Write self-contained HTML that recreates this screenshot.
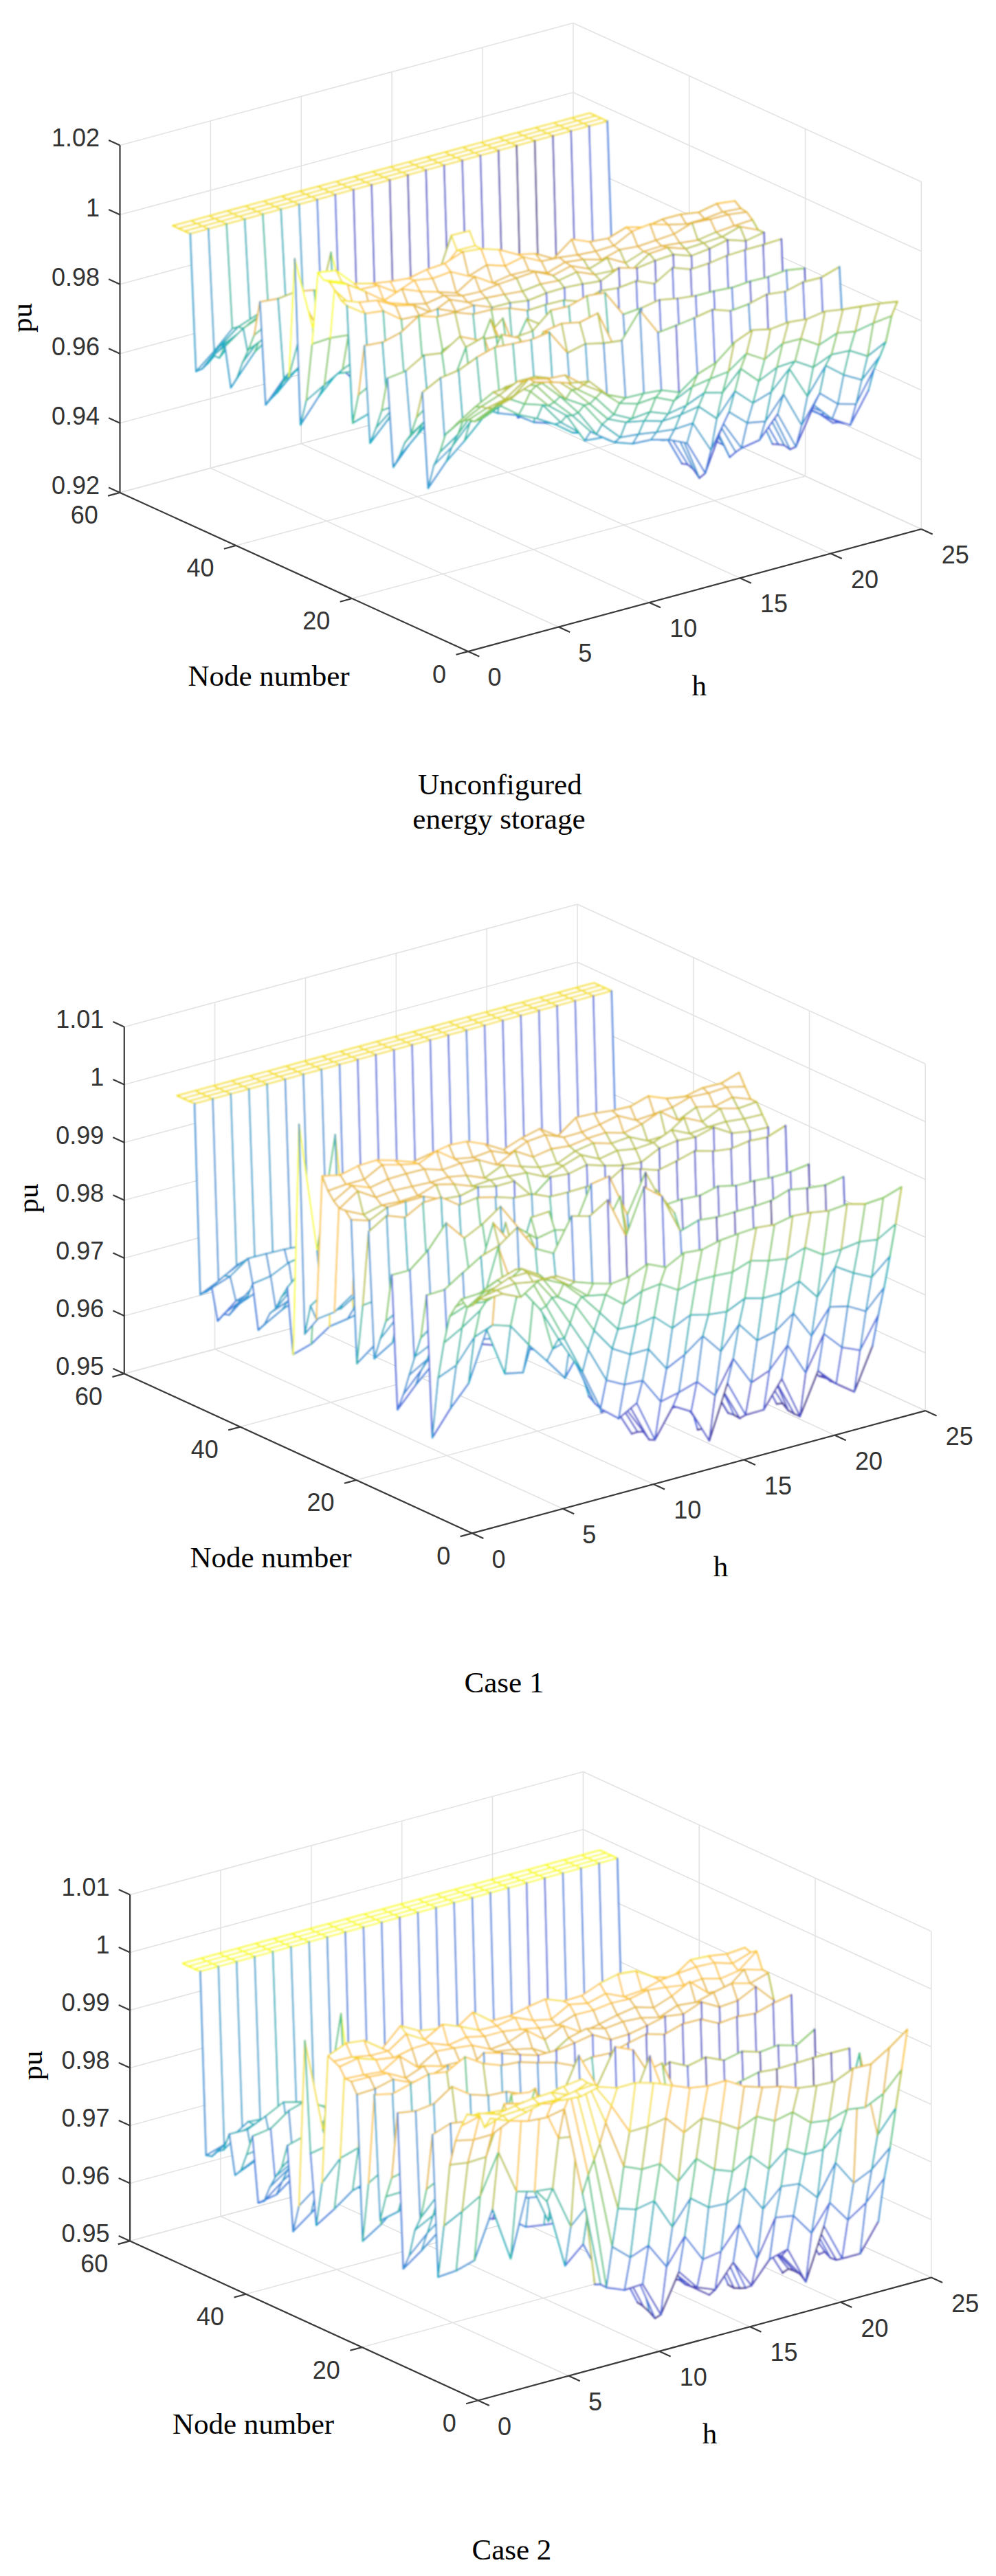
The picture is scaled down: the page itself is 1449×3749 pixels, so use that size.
<!DOCTYPE html>
<html><head><meta charset="utf-8"><style>
html,body{margin:0;padding:0;background:#fff;width:1449px;height:3749px;overflow:hidden}
svg{display:block}
.g{stroke:#e3e3e3;stroke-width:1.6;fill:none}
.a{stroke:#3a3a3a;stroke-width:2.2;fill:none}
path[class^=m]{fill:#fff;stroke-width:2.3;stroke-linejoin:round;stroke-linecap:round}
.t{font-family:"Liberation Sans",sans-serif;font-size:36px;fill:#333}
.s{font-family:"Liberation Serif",serif;font-size:43px;fill:#000}
.c{font-family:"Liberation Serif",serif;font-size:43px;fill:#000}
.m0{stroke:#3d2d88}
.m1{stroke:#483eb1}
.m2{stroke:#4e53cc}
.m3{stroke:#4d68db}
.m4{stroke:#3f7edd}
.m5{stroke:#3992d5}
.m6{stroke:#2fa3cf}
.m7{stroke:#16b0bc}
.m8{stroke:#37bca7}
.m9{stroke:#52c589}
.m10{stroke:#85c861}
.m11{stroke:#bac23a}
.m12{stroke:#e7ba39}
.m13{stroke:#fcc73b}
.m14{stroke:#f5e12b}
.m15{stroke:#f9fb15}
</style></head><body>
<svg width="1449" height="3749" viewBox="0 0 1449 3749">
<defs><filter id="bl" x="-2%" y="-2%" width="104%" height="104%"><feGaussianBlur stdDeviation="0.8"/></filter></defs>
<g>
<path class="g" d="M812.8 912.5L306.4 681.3"/>
<path class="g" d="M944.7 876.9L438.3 645.7"/>
<path class="g" d="M1076.5 841.2L570.1 610"/>
<path class="g" d="M1208.4 805.6L702 574.4"/>
<path class="g" d="M512.1 871L1171.5 692.9"/>
<path class="g" d="M343.3 794L1002.7 615.9"/>
<path class="g" d="M174.5 716.9L833.9 538.8"/>
<path class="g" d="M1340.3 770L833.9 538.8"/>
<path class="g" d="M306.4 681.3L306.4 175.9"/>
<path class="g" d="M438.3 645.7L438.3 140.3"/>
<path class="g" d="M570.1 610L570.1 104.6"/>
<path class="g" d="M702 574.4L702 69"/>
<path class="g" d="M833.9 538.8L833.9 33.4"/>
<path class="g" d="M174.5 716.9L833.9 538.8"/>
<path class="g" d="M174.5 615.8L833.9 437.7"/>
<path class="g" d="M174.5 514.7L833.9 336.6"/>
<path class="g" d="M174.5 413.7L833.9 235.6"/>
<path class="g" d="M174.5 312.6L833.9 134.5"/>
<path class="g" d="M174.5 211.5L833.9 33.4"/>
<path class="g" d="M1340.3 770L1340.3 264.6"/>
<path class="g" d="M1171.5 692.9L1171.5 187.5"/>
<path class="g" d="M1002.7 615.9L1002.7 110.5"/>
<path class="g" d="M1340.3 770L833.9 538.8"/>
<path class="g" d="M1340.3 668.9L833.9 437.7"/>
<path class="g" d="M1340.3 567.8L833.9 336.6"/>
<path class="g" d="M1340.3 466.8L833.9 235.6"/>
<path class="g" d="M1340.3 365.7L833.9 134.5"/>
<path class="g" d="M1340.3 264.6L833.9 33.4"/>
<g filter="url(#bl)">
<path class="m14" stroke-dasharray="37 42" d="M831.8 171.8l26.4-7.1 8.4 3.9-26.4 7.1z"/>
<path class="m14" stroke-dasharray="37 42" d="M840.2 175.7l26.4-7.1 8.4 3.9-26.4 7.1z"/>
<path class="m14" stroke-dasharray="37 42" d="M805.4 179l26.4-7.1 8.4 3.9-26.4 7.1z"/>
<path class="m14" stroke-dasharray="37 42" d="M848.7 179.6l26.4-7.1 8.4 3.9-26.4 7.1z"/>
<path class="m14" stroke-dasharray="37 42" d="M813.9 182.8l26.4-7.1 8.4 3.9-26.4 7.1z"/>
<path class="m14" stroke-dasharray="28 558" d="M857.1 183.4l26.4-7.1 8.4 247.1-26.4 27.1z"/>
<path class="m4" d="M883.5 176.3l8.4 247.1"/>
<path class="m14" stroke-dasharray="37 42" d="M779 186.1l26.4-7.1 8.4 3.9-26.4 7.1z"/>
<path class="m14" stroke-dasharray="37 42" d="M822.3 186.7l26.4-7.1 8.4 3.9-26.4 7.1z"/>
<path class="m14" stroke-dasharray="37 42" d="M787.5 189.9l26.4-7.1 8.4 3.9-26.4 7.1z"/>
<path class="m14" stroke-dasharray="28 598" d="M830.7 190.5l26.4-7.1 8.4 267.1-26.4 27.3z"/>
<path class="m3" d="M857.1 183.4l8.4 267.1"/>
<path class="m14" stroke-dasharray="37 42" d="M752.7 193.2l26.4-7.1 8.4 3.9-26.4 7.1z"/>
<path class="m14" stroke-dasharray="37 42" d="M795.9 193.8l26.4-7.1 8.4 3.9-26.4 7.1z"/>
<path class="m14" stroke-dasharray="37 42" d="M761.1 197.1l26.4-7.1 8.4 3.9-26.4 7.1z"/>
<path class="m14" stroke-dasharray="28 645" d="M804.4 197.7l26.4-7.1 8.4 287.3-26.4 30.8z"/>
<path class="m2" d="M830.7 190.5l8.4 287.3"/>
<path class="m14" stroke-dasharray="37 42" d="M726.3 200.3l26.4-7.1 8.4 3.9-26.4 7.1z"/>
<path class="m14" stroke-dasharray="37 42" d="M769.5 200.9l26.4-7.1 8.4 3.9-26.4 7.1z"/>
<path class="m14" stroke-dasharray="37 42" d="M734.7 204.2l26.4-7.1 8.4 3.9-26.4 7.1z"/>
<path class="m14" stroke-dasharray="28 674" d="M778 204.8l26.4-7.1 8.4 311-26.4 20.2z"/>
<path class="m1" d="M804.4 197.7l8.4 311"/>
<path class="m14" stroke-dasharray="37 42" d="M699.9 207.5l26.4-7.1 8.4 3.9-26.4 7.1z"/>
<path class="m14" stroke-dasharray="37 42" d="M743.2 208.1l26.4-7.1 8.4 3.9-26.4 7.1z"/>
<path class="m14" stroke-dasharray="37 42" d="M708.3 211.3l26.4-7.1 8.4 3.9-26.4 7.1z"/>
<path class="m14" stroke-dasharray="28 679" d="M751.6 211.9l26.4-7.1 8.4 324-26.4 5.8z"/>
<path class="m0" d="M778 204.8l8.4 324"/>
<path class="m14" stroke-dasharray="37 42" d="M673.5 214.6l26.4-7.1 8.4 3.9-26.4 7.1z"/>
<path class="m14" stroke-dasharray="37 42" d="M716.8 215.2l26.4-7.1 8.4 3.9-26.4 7.1z"/>
<path class="m14" stroke-dasharray="37 42" d="M682 218.4l26.4-7.1 8.4 3.9-26.4 7.1z"/>
<path class="m14" stroke-dasharray="28 658" d="M725.2 219l26.4-7.1 8.4 322.6-26.4-18.2z"/>
<path class="m0" d="M751.6 211.9l8.4 322.6"/>
<path class="m14" stroke-dasharray="37 42" d="M647.2 221.7l26.4-7.1 8.4 3.9-26.4 7.1z"/>
<path class="m14" stroke-dasharray="37 42" d="M690.4 222.3l26.4-7.1 8.4 3.9-26.4 7.1z"/>
<path class="m14" stroke-dasharray="37 42" d="M655.6 225.6l26.4-7.1 8.4 3.9-26.4 7.1z"/>
<path class="m14" stroke-dasharray="28 616" d="M698.9 226.2l26.4-7.1 8.4 297.3-26.4-4z"/>
<path class="m1" d="M725.2 219l8.4 297.3"/>
<path class="m14" stroke-dasharray="37 42" d="M620.8 228.8l26.4-7.1 8.4 3.9-26.4 7.1z"/>
<path class="m14" stroke-dasharray="37 42" d="M664 229.4l26.4-7.1 8.4 3.9-26.4 7.1z"/>
<path class="m14" stroke-dasharray="37 42" d="M629.2 232.7l26.4-7.1 8.4 3.9-26.4 7.1z"/>
<path class="m14" stroke-dasharray="28 594" d="M672.5 233.3l26.4-7.1 8.4 286.2-26.4-3.2z"/>
<path class="m2" d="M698.9 226.2l8.4 286.2"/>
<path class="m14" stroke-dasharray="37 42" d="M594.4 236l26.4-7.1 8.4 3.9-26.4 7.1z"/>
<path class="m14" stroke-dasharray="37 42" d="M637.7 236.5l26.4-7.1 8.4 3.9-26.4 7.1z"/>
<path class="m14" stroke-dasharray="37 42" d="M602.8 239.8l26.4-7.1 8.4 3.9-26.4 7.1z"/>
<path class="m14" stroke-dasharray="28 585" d="M646.1 240.4l26.4-7.1 8.4 275.9-26.4 7.3z"/>
<path class="m2" d="M672.5 233.3l8.4 275.9"/>
<path class="m14" stroke-dasharray="37 42" d="M568 243.1l26.4-7.1 8.4 3.9-26.4 7.1z"/>
<path class="m14" stroke-dasharray="37 42" d="M611.3 243.7l26.4-7.1 8.4 3.9-26.4 7.1z"/>
<path class="m14" stroke-dasharray="37 42" d="M576.5 246.9l26.4-7.1 8.4 3.9-26.4 7.1z"/>
<path class="m14" stroke-dasharray="28 607" d="M619.7 247.5l26.4-7.1 8.4 276-26.4 21.7z"/>
<path class="m2" d="M646.1 240.4l8.4 276"/>
<path class="m14" stroke-dasharray="37 42" d="M541.7 250.2l26.4-7.1 8.4 3.9-26.4 7.1z"/>
<path class="m14" stroke-dasharray="37 42" d="M584.9 250.8l26.4-7.1 8.4 3.9-26.4 7.1z"/>
<path class="m14" stroke-dasharray="37 42" d="M550.1 254.1l26.4-7.1 8.4 3.9-26.4 7.1z"/>
<path class="m14" stroke-dasharray="28 626" d="M593.3 254.6l26.4-7.1 8.4 290.6-26.4 15.3z"/>
<path class="m2" d="M619.7 247.5l8.4 290.6"/>
<path class="m14" stroke-dasharray="37 42" d="M515.3 257.3l26.4-7.1 8.4 3.9-26.4 7.1z"/>
<path class="m14" stroke-dasharray="37 42" d="M558.5 257.9l26.4-7.1 8.4 3.9-26.4 7.1z"/>
<path class="m14" stroke-dasharray="37 42" d="M523.7 261.2l26.4-7.1 8.4 3.9-26.4 7.1z"/>
<path class="m14" stroke-dasharray="28 641" d="M567 261.8l26.4-7.1 8.4 298.8-26.4 14.6z"/>
<path class="m1" d="M593.3 254.6l8.4 298.8"/>
<path class="m14" stroke-dasharray="37 42" d="M488.9 264.5l26.4-7.1 8.4 3.9-26.4 7.1z"/>
<path class="m10" stroke-dasharray="27 162" d="M1034.3 362.2l26.4-6.6 8.4-62.9-26.4 3.8z"/>
<path class="m12" d="M1060.7 355.6l8.4-62.9"/>
<path class="m14" stroke-dasharray="37 42" d="M532.2 265l26.4-7.1 8.4 3.9-26.4 7.1z"/>
<path class="m14" stroke-dasharray="37 42" d="M497.3 268.3l26.4-7.1 8.4 3.9-26.4 7.1z"/>
<path class="m13" stroke-dasharray="27 60" d="M1042.8 296.5l26.4-3.8 8.4 10.6-26.4 5z"/>
<path class="m12" d="M1069.2 292.7l8.4 10.6"/>
<path class="m14" stroke-dasharray="28 632" d="M540.6 268.9l26.4-7.1 8.4 306.2-26.4-6.1z"/>
<path class="m1" d="M567 261.8l8.4 306.2"/>
<path class="m14" stroke-dasharray="37 42" d="M462.5 271.6l26.4-7.1 8.4 3.9-26.4 7.1z"/>
<path class="m10" stroke-dasharray="27 154" d="M1008 361.8l26.4 0.5 8.4-65.8-26.4 12.6z"/>
<path class="m13" d="M1034.3 362.2l8.4-65.8"/>
<path class="m14" stroke-dasharray="37 42" d="M505.8 272.2l26.4-7.1 8.4 3.9-26.4 7.1z"/>
<path class="m12" stroke-dasharray="37 41" d="M1051.2 308.3l26.4-5 8.4 5.3-26.4 3.5z"/>
<path class="m14" stroke-dasharray="37 42" d="M471 275.4l26.4-7.1 8.4 3.9-26.4 7.1z"/>
<path class="m12" stroke-dasharray="44 46" d="M1016.4 309.1l26.4-12.6 8.4 11.9-26.4 10z"/>
<path class="m14" stroke-dasharray="28 609" d="M514.2 276l26.4-7.1 8.4 293-26.4-2.2z"/>
<path class="m2" d="M540.6 268.9l8.4 293"/>
<path class="m12" stroke-dasharray="41 52" d="M1059.7 312.1l26.4-3.5 8.4 11.3-26.4 8.8z"/>
<path class="m14" stroke-dasharray="37 42" d="M436.1 278.7l26.4-7.1 8.4 3.9-26.4 7.1z"/>
<path class="m10" stroke-dasharray="30 149" d="M981.6 374.7l26.4-12.9 8.4-52.7-26.4 3z"/>
<path class="m12" d="M1008 361.8l8.4-52.7"/>
<path class="m14" stroke-dasharray="37 42" d="M479.4 279.3l26.4-7.1 8.4 3.9-26.4 7.1z"/>
<path class="m12" stroke-dasharray="38 41" d="M1024.9 318.3l26.4-10 8.4 3.8-26.4 7.1z"/>
<path class="m12" stroke-dasharray="28 58" d="M1068.1 328.7l26.4-8.8 8.4 14.8-26.4-4.9z"/>
<path class="m11" d="M1094.5 319.9l8.4 14.8"/>
<path class="m14" stroke-dasharray="37 42" d="M444.6 282.6l26.4-7.1 8.4 3.9-26.4 7.1z"/>
<path class="m12" stroke-dasharray="39 49" d="M990 312.1l26.4-3 8.4 9.2-26.4 7.9z"/>
<path class="m14" stroke-dasharray="28 578" d="M487.8 283.1l26.4-7.1 8.4 283.7-26.4-23.6z"/>
<path class="m2" d="M514.2 276l8.4 283.7"/>
<path class="m12" stroke-dasharray="46 54" d="M1033.3 319.2l26.4-7.1 8.4 16.6-26.4 9.2z"/>
<path class="m12" stroke-dasharray="27 66" d="M1076.5 329.8l26.4 4.9 8.4 3.5-26.4 12.3z"/>
<path class="m11" d="M1102.9 334.7l8.4 3.5"/>
<path class="m14" stroke-dasharray="37 42" d="M409.8 285.8l26.4-7.1 8.4 3.9-26.4 7.1z"/>
<path class="m10" stroke-dasharray="27 152" d="M955.2 374.5l26.4 0.2 8.4-62.6-26.4 7.1z"/>
<path class="m12" d="M981.6 374.7l8.4-62.6"/>
<path class="m14" stroke-dasharray="37 42" d="M453 286.4l26.4-7.1 8.4 3.9-26.4 7.1z"/>
<path class="m12" stroke-dasharray="36 41" d="M998.5 326.2l26.4-7.9 8.4 0.9-26.4 5.4z"/>
<path class="m3" stroke-dasharray="55 44" d="M496.3 536.1l26.4 23.6 8.4-17.8-26.4-10.7z"/>
<path class="m12" stroke-dasharray="37 47" d="M1041.7 337.9l26.4-9.2 8.4 1.1-26.4 14.9z"/>
<path class="m11" stroke-dasharray="29 488" d="M1085 350.5l26.4-12.3 8.4 227.4-26.4 11z"/>
<path class="m2" d="M1111.4 338.2l8.4 227.4"/>
<path class="m14" stroke-dasharray="37 42" d="M418.2 289.7l26.4-7.1 8.4 3.9-26.4 7.1z"/>
<path class="m12" stroke-dasharray="44 43" d="M963.7 319.2l26.4-7.1 8.4 14.1-26.4 0.9z"/>
<path class="m14" stroke-dasharray="28 520" d="M461.5 290.3l26.4-7.1 8.4 253-26.4-14.7z"/>
<path class="m3" d="M487.8 283.1l8.4 253"/>
<path class="m12" stroke-dasharray="48 60" d="M1006.9 324.5l26.4-5.4 8.4 18.7-26.4 11.5z"/>
<path class="m11" stroke-dasharray="53 41" d="M1050.2 344.7l26.4-14.9 8.4 20.7-26.4-1.4z"/>
<path class="m14" stroke-dasharray="37 42" d="M383.4 293l26.4-7.1 8.4 3.9-26.4 7.1z"/>
<path class="m10" stroke-dasharray="27 141" d="M928.8 380.9l26.4-6.4 8.4-55.3-26.4 11.7z"/>
<path class="m12" d="M955.2 374.5l8.4-55.3"/>
<path class="m14" stroke-dasharray="37 42" d="M426.7 293.5l26.4-7.1 8.4 3.9-26.4 7.1z"/>
<path class="m12" stroke-dasharray="35 52" d="M972.1 327l26.4-0.9 8.4-1.6-26.4 16z"/>
<path class="m11" stroke-dasharray="40 43" d="M1015.4 349.3l26.4-11.5 8.4 6.8-26.4 8.9z"/>
<path class="m11" stroke-dasharray="27 486" d="M1058.6 349.1l26.4 1.4 8.4 226.1-26.4-0.1z"/>
<path class="m2" d="M1085 350.5l8.4 226.1"/>
<path class="m6" stroke-dasharray="28 300" d="M1101.9 490.1l26.4-9.8 8.4-132.4-26.4 8.2z"/>
<path class="m11" d="M1128.2 480.3l8.4-132.4"/>
<path class="m14" stroke-dasharray="37 42" d="M391.8 296.8l26.4-7.1 8.4 3.9-26.4 7.1z"/>
<path class="m12" stroke-dasharray="41 41" d="M937.3 330.9l26.4-11.7 8.4 7.8-26.4-0.7z"/>
<path class="m14" stroke-dasharray="28 471" d="M435.1 297.4l26.4-7.1 8.4 231.2-26.4-29.6z"/>
<path class="m4" d="M461.5 290.3l8.4 231.2"/>
<path class="m12" stroke-dasharray="31 74" d="M980.5 340.6l26.4-16 8.4 24.8-26.4 4.4z"/>
<path class="m11" d="M1006.9 324.5l8.4 24.8"/>
<path class="m11" stroke-dasharray="38 47" d="M1023.8 353.5l26.4-8.9 8.4 4.4-26.4 12.8z"/>
<path class="m11" stroke-dasharray="28 483" d="M1110.3 356.2l26.4-8.2 8.4 223.4-26.4 10.2z"/>
<path class="m2" d="M1136.7 347.9l8.4 223.4"/>
<path class="m14" stroke-dasharray="37 42" d="M357 300.1l26.4-7.1 8.4 3.9-26.4 7.1z"/>
<path class="m10" stroke-dasharray="30 148" d="M902.5 395.3l26.4-14.4 8.4-50-26.4-0.1z"/>
<path class="m12" d="M928.8 380.9l8.4-50"/>
<path class="m14" stroke-dasharray="37 42" d="M400.3 300.7l26.4-7.1 8.4 3.9-26.4 7.1z"/>
<path class="m13" stroke-dasharray="27 74" d="M945.7 326.3l26.4 0.7 8.4 13.5-26.4 9.1z"/>
<path class="m12" d="M972.1 327l8.4 13.5"/>
<path class="m12" stroke-dasharray="27 55" d="M989 353.7l26.4-4.4 8.4 4.2-26.4 8.5z"/>
<path class="m11" d="M1015.4 349.3l8.4 4.2"/>
<path class="m11" stroke-dasharray="30 486" d="M1032.2 361.9l26.4-12.8 8.4 227.4-26.4 10.2z"/>
<path class="m2" d="M1058.6 349.1l8.4 227.4"/>
<path class="m6" stroke-dasharray="27 295" d="M1075.5 491.2l26.4-1.1 8.4-133.9-26.4 7.5z"/>
<path class="m11" d="M1101.9 490.1l8.4-133.9"/>
<path class="m14" stroke-dasharray="37 42" d="M365.5 303.9l26.4-7.1 8.4 3.9-26.4 7.1z"/>
<path class="m13" stroke-dasharray="36 44" d="M910.9 330.8l26.4 0.1 8.4-4.6-26.4 10.5z"/>
<path class="m14" stroke-dasharray="28 399" d="M408.7 304.5l26.4-7.1 8.4 194.5-26.4-26.1z"/>
<path class="m6" d="M435.1 297.4l8.4 194.5"/>
<path class="m12" stroke-dasharray="44 44" d="M954.2 349.6l26.4-9.1 8.4 13.1-26.4 4.3z"/>
<path class="m11" stroke-dasharray="40 47" d="M997.4 362.1l26.4-8.5 8.4 8.4-26.4 10.4z"/>
<path class="m11" stroke-dasharray="28 471" d="M1083.9 363.7l26.4-7.5 8.4 225.4-26.4-4.8z"/>
<path class="m2" d="M1110.3 356.2l8.4 225.4"/>
<path class="m14" stroke-dasharray="37 42" d="M330.6 307.2l26.4-7.1 8.4 3.9-26.4 7.1z"/>
<path class="m10" stroke-dasharray="27 153" d="M876.1 398.2l26.4-2.8 8.4-64.5-26.4 16z"/>
<path class="m13" d="M902.5 395.3l8.4-64.5"/>
<path class="m14" stroke-dasharray="37 42" d="M373.9 307.8l26.4-7.1 8.4 3.9-26.4 7.1z"/>
<path class="m13" stroke-dasharray="29 82" d="M919.3 336.8l26.4-10.5 8.4 23.4-26.4 9.1z"/>
<path class="m12" d="M945.7 326.3l8.4 23.4"/>
<path class="m12" stroke-dasharray="27 53" d="M962.6 358l26.4-4.3 8.4 8.4-26.4-2.1z"/>
<path class="m11" d="M989 353.7l8.4 8.4"/>
<path class="m11" stroke-dasharray="29 472" d="M1005.9 372.3l26.4-10.4 8.4 224.8-26.4 0.4z"/>
<path class="m2" d="M1032.2 361.9l8.4 224.8"/>
<path class="m6" stroke-dasharray="27 287" d="M1049.1 497.6l26.4-6.4 8.4-127.5-26.4 8.3z"/>
<path class="m11" d="M1075.5 491.2l8.4-127.5"/>
<path class="m14" stroke-dasharray="37 42" d="M339.1 311.1l26.4-7.1 8.4 3.9-26.4 7.1z"/>
<path class="m6" stroke-dasharray="29 246" d="M1135.6 504.2l26.4-11.4 8.4-102.3-26.4 2.7z"/>
<path class="m10" d="M1162 492.9l8.4-102.3"/>
<path class="m12" stroke-dasharray="31 63" d="M884.5 346.9l26.4-16 8.4 6-26.4 20.8z"/>
<path class="m13" d="M910.9 330.8l8.4 6"/>
<path class="m14" stroke-dasharray="28 339" d="M382.3 311.6l26.4-7.1 8.4 161.3-26.4-10.8z"/>
<path class="m7" d="M408.7 304.5l8.4 161.3"/>
<path class="m12" stroke-dasharray="40 44" d="M927.8 358.7l26.4-9.1 8.4 8.4-26.4 8z"/>
<path class="m12" stroke-dasharray="27 59" d="M971 360l26.4 2.1 8.4 10.2-26.4-2z"/>
<path class="m11" d="M997.4 362.1l8.4 10.2"/>
<path class="m11" stroke-dasharray="28 456" d="M1057.6 372l26.4-8.3 8.4 213.1-26.4 5.4z"/>
<path class="m3" d="M1083.9 363.7l8.4 213.1"/>
<path class="m14" stroke-dasharray="37 42" d="M304.3 314.3l26.4-7.1 8.4 3.9-26.4 7.1z"/>
<path class="m10" stroke-dasharray="27 133" d="M849.7 399.5l26.4-1.3 8.4-51.3-26.4 5z"/>
<path class="m12" d="M876.1 398.2l8.4-51.3"/>
<path class="m14" stroke-dasharray="37 42" d="M347.5 314.9l26.4-7.1 8.4 3.9-26.4 7.1z"/>
<path class="m10" stroke-dasharray="27 402" d="M1144.1 393.3l26.4-2.7 8.4 193.4-26.4-24.1z"/>
<path class="m2" d="M1170.4 390.6l8.4 193.4"/>
<path class="m12" stroke-dasharray="57 43" d="M893 357.6l26.4-20.8 8.4 22-26.4 4.7z"/>
<path class="m12" stroke-dasharray="37 42" d="M936.2 366l26.4-8 8.4 2-26.4 9.1z"/>
<path class="m11" stroke-dasharray="27 477" d="M979.5 370.3l26.4 2 8.4 214.9-26.4 10.7z"/>
<path class="m2" d="M1005.9 372.3l8.4 214.9"/>
<path class="m5" stroke-dasharray="31 291" d="M1022.7 513.9l26.4-16.2 8.4-125.6-26.4 11.2z"/>
<path class="m11" d="M1049.1 497.6l8.4-125.6"/>
<path class="m14" stroke-dasharray="37 42" d="M312.7 318.2l26.4-7.1 8.4 3.9-26.4 7.1z"/>
<path class="m6" stroke-dasharray="27 243" d="M1109.3 500.3l26.4 3.9 8.4-111-26.4 9.7z"/>
<path class="m10" d="M1135.6 504.2l8.4-111"/>
<path class="m12" stroke-dasharray="41 49" d="M858.2 351.9l26.4-5 8.4 10.7-26.4 8z"/>
<path class="m14" stroke-dasharray="28 337" d="M356 318.8l26.4-7.1 8.4 143.3-26.4 19.2z"/>
<path class="m8" d="M382.3 311.6l8.4 143.3"/>
<path class="m12" stroke-dasharray="38 58" d="M901.4 363.4l26.4-4.7 8.4 7.3-26.4 16.6z"/>
<path class="m12" stroke-dasharray="28 60" d="M944.7 369.2l26.4-9.1 8.4 10.3-26.4 9z"/>
<path class="m11" d="M971 360l8.4 10.3"/>
<path class="m11" stroke-dasharray="29 460" d="M1031.2 383.2l26.4-11.2 8.4 210.2-26.4 14.9z"/>
<path class="m3" d="M1057.6 372l8.4 210.2"/>
<path class="m14" stroke-dasharray="37 42" d="M277.9 321.5l26.4-7.1 8.4 3.9-26.4 7.1z"/>
<path class="m10" stroke-dasharray="30 145" d="M823.3 412.2l26.4-12.7 8.4-47.6-26.4-3.6z"/>
<path class="m12" d="M849.7 399.5l8.4-47.6"/>
<path class="m14" stroke-dasharray="37 42" d="M321.1 322l26.4-7.1 8.4 3.9-26.4 7.1z"/>
<path class="m10" stroke-dasharray="28 377" d="M1117.7 402.9l26.4-9.7 8.4 166.6-26.4 16.8z"/>
<path class="m4" d="M1144.1 393.3l8.4 166.6"/>
<path class="m12" stroke-dasharray="38 51" d="M866.6 365.6l26.4-8 8.4 5.8-26.4 14.6z"/>
<path class="m11" stroke-dasharray="31 64" d="M909.9 382.6l26.4-16.6 8.4 3.2-26.4 24.5z"/>
<path class="m12" d="M936.2 366l8.4 3.2"/>
<path class="m11" stroke-dasharray="28 493" d="M953.1 379.3l26.4-9 8.4 227.6-26.4 12z"/>
<path class="m2" d="M979.5 370.3l8.4 227.6"/>
<path class="m5" stroke-dasharray="28 295" d="M996.4 522l26.4-8.1 8.4-130.7-26.4 8.8z"/>
<path class="m11" d="M1022.7 513.9l8.4-130.7"/>
<path class="m14" stroke-dasharray="37 42" d="M286.3 325.3l26.4-7.1 8.4 3.9-26.4 7.1z"/>
<path class="m6" stroke-dasharray="29 232" d="M1082.9 510.7l26.4-10.4 8.4-97.4-26.4 6.4z"/>
<path class="m10" d="M1109.3 500.3l8.4-97.4"/>
<path class="m13" stroke-dasharray="27 73" d="M831.8 348.2l26.4 3.6 8.4 13.7-26.4 5.4z"/>
<path class="m12" d="M858.2 351.9l8.4 13.7"/>
<path class="m14" stroke-dasharray="28 340" d="M329.6 325.9l26.4-7.1 8.4 155.4-26.4 3.9z"/>
<path class="m7" d="M356 318.8l8.4 155.4"/>
<path class="m12" stroke-dasharray="30 63" d="M875 378l26.4-14.6 8.4 19.2-26.4-7.3z"/>
<path class="m11" d="M901.4 363.4l8.4 19.2"/>
<path class="m8" stroke-dasharray="35 41" d="M372.8 458.7l26.4-1.6 8.4-0.3-26.4-1.8z"/>
<path class="m11" stroke-dasharray="50 43" d="M918.3 393.7l26.4-24.5 8.4 10.2-26.4 10.8z"/>
<path class="m11" stroke-dasharray="28 457" d="M1004.8 392l26.4-8.8 8.4 214-26.4 5.3z"/>
<path class="m2" d="M1031.2 383.2l8.4 214"/>
<path class="m2" stroke-dasharray="29 107" d="M753.7 608l26.4-11.5 8.4-27-26.4-7.1z"/>
<path class="m3" d="M780.1 596.5l8.4-27"/>
<path class="m14" stroke-dasharray="37 42" d="M251.5 328.6l26.4-7.1 8.4 3.9-26.4 7.1z"/>
<path class="m14" d="M260 332.4l-8.4-3.9"/>
<path class="m10" stroke-dasharray="27 151" d="M797 417.8l26.4-5.7 8.4-63.9-26.4 28.1z"/>
<path class="m13" d="M823.3 412.2l8.4-63.9"/>
<path class="m14" stroke-dasharray="37 42" d="M294.8 329.2l26.4-7.1 8.4 3.9-26.4 7.1z"/>
<path class="m10" stroke-dasharray="27 413" d="M1091.3 409.4l26.4-6.4 8.4 173.7-26.4 27.9z"/>
<path class="m3" d="M1117.7 402.9l8.4 173.7"/>
<path class="m12" stroke-dasharray="42 43" d="M840.2 371l26.4-5.4 8.4 12.4-26.4-0.3z"/>
<path class="m8" stroke-dasharray="45 46" d="M338 478.1l26.4-3.9 8.4-15.5-26.4 17z"/>
<path class="m12" stroke-dasharray="28 66" d="M883.5 375.3l26.4 7.3 8.4 11.1-26.4 0.3z"/>
<path class="m11" d="M909.9 382.6l8.4 11.1"/>
<path class="m11" stroke-dasharray="29 492" d="M926.7 390.1l26.4-10.8 8.4 230.6-26.4 8.1z"/>
<path class="m2" d="M953.1 379.3l8.4 230.6"/>
<path class="m6" stroke-dasharray="27 291" d="M970 518.2l26.4 3.8 8.4-130.1-26.4-2.2z"/>
<path class="m11" d="M996.4 522l8.4-130.1"/>
<path class="m7" stroke-dasharray="27 265" d="M718.9 482.5l26.4-0.7 8.4 126.2-26.4-45.6z"/>
<path class="m2" d="M745.3 481.8l8.4 126.2"/>
<path class="m14" stroke-dasharray="37 42" d="M260 332.4l26.4-7.1 8.4 3.9-26.4 7.1z"/>
<path class="m14" d="M268.4 336.3l-8.4-3.9"/>
<path class="m6" stroke-dasharray="27 230" d="M1056.5 512.9l26.4-2.2 8.4-101.4-26.4 9.2z"/>
<path class="m10" d="M1082.9 510.7l8.4-101.4"/>
<path class="m12" stroke-dasharray="63 41" d="M805.4 376.4l26.4-28.1 8.4 22.7-26.4 3.8z"/>
<path class="m14" stroke-dasharray="28 378" d="M303.2 333l26.4-7.1 8.4 152.2-26.4 32.7z"/>
<path class="m8" d="M329.6 325.9l8.4 152.2"/>
<path class="m12" stroke-dasharray="36 52" d="M848.7 377.7l26.4 0.3 8.4-2.7-26.4 16z"/>
<path class="m8" stroke-dasharray="32 59" d="M346.5 475.7l26.4-17 8.4-3.7-26.4 23.7z"/>
<path class="m9" d="M372.8 458.7l8.4-3.7"/>
<path class="m11" stroke-dasharray="36 41" d="M891.9 393.9l26.4-0.3 8.4-3.6-26.4-0.2z"/>
<path class="m8" stroke-dasharray="27 161" d="M1186.3 459l26.4-1.4 8.4-69.1-26.4 15.7z"/>
<path class="m11" d="M1212.6 457.5l8.4-69.1"/>
<path class="m11" stroke-dasharray="27 457" d="M978.4 389.7l26.4 2.2 8.4 210.5-26.4 1.7z"/>
<path class="m2" d="M1004.8 392l8.4 210.5"/>
<path class="m4" stroke-dasharray="99 105" d="M727.3 562.3l26.4 45.6 8.4-45.6-26.4-45.8z"/>
<path class="m10" stroke-dasharray="27 120" d="M770.6 413.6l26.4 4.3 8.4-41.5-26.4-7.2z"/>
<path class="m12" d="M797 417.8l8.4-41.5"/>
<path class="m14" stroke-dasharray="37 42" d="M268.4 336.3l26.4-7.1 8.4 3.9-26.4 7.1z"/>
<path class="m14" d="M276.8 340.1l-8.4-3.9"/>
<path class="m10" stroke-dasharray="28 399" d="M1064.9 418.6l26.4-9.2 8.4 195.2-26.4-23.2z"/>
<path class="m2" d="M1091.3 409.4l8.4 195.2"/>
<path class="m12" stroke-dasharray="38 43" d="M813.8 374.7l26.4-3.8 8.4 6.7-26.4 3.8z"/>
<path class="m6" stroke-dasharray="42 64" d="M311.7 510.8l26.4-32.7 8.4-2.4-26.4 28z"/>
<path class="m8" d="M338 478.1l8.4-2.4"/>
<path class="m11" stroke-dasharray="52 44" d="M857.1 391.3l26.4-16 8.4 18.6-26.4 5.6z"/>
<path class="m8" stroke-dasharray="36 56" d="M354.9 478.7l26.4-23.7 8.4 0.1-26.4 15z"/>
<path class="m9" d="M381.3 455l8.4 0.1"/>
<path class="m12" stroke-dasharray="27 482" d="M900.4 389.9l26.4 0.2 8.4 228-26.4-7.3z"/>
<path class="m2" d="M926.7 390.1l8.4 228"/>
<path class="m11" stroke-dasharray="31 432" d="M1194.7 404.1l26.4-15.7 8.4 160-26.4 58.1z"/>
<path class="m5" d="M1221.1 388.4l8.4 160"/>
<path class="m6" stroke-dasharray="32 235" d="M1030.1 530.9l26.4-18 8.4-94.4-26.4 5.1z"/>
<path class="m10" d="M1056.5 512.9l8.4-94.4"/>
<path class="m12" stroke-dasharray="36 46" d="M779 369.1l26.4 7.2 8.4-1.6-26.4 5.3z"/>
<path class="m14" stroke-dasharray="28 424" d="M276.8 340.1l26.4-7.1 8.4 177.8-26.4 29.6z"/>
<path class="m6" d="M303.2 333l8.4 177.8"/>
<path class="m6" d="M285.3 540.4l-8.4-200.3"/>
<path class="m12" stroke-dasharray="27 58" d="M822.3 381.5l26.4-3.8 8.4 13.6-26.4-4.4z"/>
<path class="m11" d="M848.7 377.7l8.4 13.6"/>
<path class="m7" stroke-dasharray="39 57" d="M320.1 503.6l26.4-28 8.4 3-26.4 20.1z"/>
<path class="m8" d="M346.5 475.7l8.4 3"/>
<path class="m11" stroke-dasharray="27 60" d="M865.5 399.5l26.4-5.6 8.4-4.1-26.4 19.1z"/>
<path class="m12" d="M891.9 393.9l8.4-4.1"/>
<path class="m8" stroke-dasharray="31 53" d="M363.3 470.1l26.4-15 8.4-2.6-26.4 12.4z"/>
<path class="m9" d="M389.7 455.1l8.4-2.6"/>
<path class="m8" stroke-dasharray="30 151" d="M1159.9 472.9l26.4-13.9 8.4-54.8-26.4 6.5z"/>
<path class="m11" d="M1186.3 459l8.4-54.8"/>
<path class="m11" stroke-dasharray="35 446" d="M952.1 412.8l26.4-23.1 8.4 214.4-26.4 7.3z"/>
<path class="m3" d="M978.4 389.7l8.4 214.4"/>
<path class="m11" stroke-dasharray="27 116" d="M744.2 408.6l26.4 4.9 8.4-44.5-26.4 1.3z"/>
<path class="m12" d="M770.6 413.6l8.4-44.5"/>
<path class="m10" stroke-dasharray="27 401" d="M1038.6 423.6l26.4-5.1 8.4 162.8-26.4 32.5z"/>
<path class="m4" d="M1064.9 418.6l8.4 162.8"/>
<path class="m12" stroke-dasharray="38 55" d="M787.5 380.1l26.4-5.3 8.4 6.7-26.4 15.7z"/>
<path class="m6" stroke-dasharray="40 68" d="M285.3 540.4l26.4-29.6 8.4-7.1-26.4 33.3z"/>
<path class="m7" d="M311.7 510.8l8.4-7.1"/>
<path class="m6" d="M293.7 536.9l-8.4 3.5"/>
<path class="m12" stroke-dasharray="27 56" d="M830.7 386.9l26.4 4.4 8.4 8.2-26.4-3.8z"/>
<path class="m11" d="M857.1 391.3l8.4 8.2"/>
<path class="m7" stroke-dasharray="33 63" d="M328.5 498.8l26.4-20.1 8.4-8.6-26.4 25.3z"/>
<path class="m8" d="M354.9 478.7l8.4-8.6"/>
<path class="m11" stroke-dasharray="33 464" d="M874 408.9l26.4-19.1 8.4 220.9-26.4 7.7z"/>
<path class="m2" d="M900.4 389.9l8.4 220.9"/>
<path class="m9" stroke-dasharray="29 71" d="M371.8 464.9l26.4-12.4 8.4-17.7-26.4 25z"/>
<path class="m10" d="M398.2 452.5l8.4-17.7"/>
<path class="m11" stroke-dasharray="27 422" d="M1168.3 410.6l26.4-6.5 8.4 202.4-26.4-10.3z"/>
<path class="m3" d="M1194.7 404.1l8.4 202.4"/>
<path class="m6" stroke-dasharray="29 283" d="M917.2 541.3l26.4-10.3 8.4-118.2-26.4-3.9z"/>
<path class="m11" d="M943.6 531l8.4-118.2"/>
<path class="m6" stroke-dasharray="28 249" d="M1003.7 538.5l26.4-7.6 8.4-107.3-26.4 6.8z"/>
<path class="m10" d="M1030.1 530.9l8.4-107.3"/>
<path class="m13" stroke-dasharray="27 56" d="M752.7 370.4l26.4-1.3 8.4 11-26.4-6.1z"/>
<path class="m12" d="M779 369.1l8.4 11"/>
<path class="m12" stroke-dasharray="41 45" d="M795.9 397.2l26.4-15.7 8.4 5.4-26.4 14.1z"/>
<path class="m6" stroke-dasharray="43 67" d="M293.7 536.9l26.4-33.3 8.4-4.9-26.4 30z"/>
<path class="m7" d="M320.1 503.6l8.4-4.9"/>
<path class="m6" d="M302.2 528.8l-8.4 8.1"/>
<path class="m12" stroke-dasharray="27 64" d="M839.2 395.7l26.4 3.8 8.4 9.4-26.4 4.3z"/>
<path class="m11" d="M865.5 399.5l8.4 9.4"/>
<path class="m8" stroke-dasharray="37 62" d="M337 495.4l26.4-25.3 8.4-5.2-26.4 22.3z"/>
<path class="m9" d="M363.3 470.1l8.4-5.2"/>
<path class="m8" stroke-dasharray="30 160" d="M1133.5 486l26.4-13.1 8.4-62.2-26.4 13.8z"/>
<path class="m11" d="M1159.9 472.9l8.4-62.2"/>
<path class="m3" stroke-dasharray="29 58" d="M1176.8 596.2l26.4 10.3 8.4 8.9-26.4-17.7z"/>
<path class="m2" d="M1203.1 606.5l8.4 8.9"/>
<path class="m11" stroke-dasharray="27 439" d="M925.7 408.9l26.4 3.9 8.4 198.6-26.4 4.9z"/>
<path class="m3" d="M952.1 412.8l8.4 198.6"/>
<path class="m12" stroke-dasharray="38 92" d="M717.8 381.9l26.4 26.7 8.4-38.2-26.4-7z"/>
<path class="m13" d="M744.2 408.6l8.4-38.2"/>
<path class="m10" stroke-dasharray="28 411" d="M1012.2 430.4l26.4-6.8 8.4 190.1-26.4 5.2z"/>
<path class="m3" d="M1038.6 423.6l8.4 190.1"/>
<path class="m13" stroke-dasharray="27 73" d="M761.1 374l26.4 6.1 8.4 17.1-26.4-3.5z"/>
<path class="m12" d="M787.5 380.1l8.4 17.1"/>
<path class="m12" stroke-dasharray="42 46" d="M804.3 401.1l26.4-14.1 8.4 8.8-26.4 12.5z"/>
<path class="m6" stroke-dasharray="40 63" d="M302.2 528.8l26.4-30 8.4-3.4-26.4 21.8z"/>
<path class="m8" d="M328.5 498.8l8.4-3.4"/>
<path class="m7" d="M310.6 517.2l-8.4 11.7"/>
<path class="m11" stroke-dasharray="27 446" d="M847.6 413.3l26.4-4.3 8.4 209.5-26.4-0.7z"/>
<path class="m2" d="M874 408.9l8.4 209.5"/>
<path class="m8" stroke-dasharray="35 60" d="M345.4 487.2l26.4-22.3 8.4-5.1-26.4 17.9z"/>
<path class="m9" d="M371.8 464.9l8.4-5.1"/>
<path class="m11" stroke-dasharray="30 383" d="M1142 424.4l26.4-13.8 8.4 185.5-26.4-7.6z"/>
<path class="m3" d="M1168.3 410.6l8.4 185.5"/>
<path class="m6" stroke-dasharray="27 287" d="M890.9 539.4l26.4 1.9 8.4-132.4-26.4 10.2z"/>
<path class="m11" d="M917.2 541.3l8.4-132.4"/>
<path class="m3" stroke-dasharray="41 44" d="M1185.2 597.6l26.4 17.7 8.4-0.8-26.4-11.9z"/>
<path class="m14" stroke-dasharray="84 99" d="M683 335.8l26.4 79.5 8.4-33.4-26.4-24.2z"/>
<path class="m12" d="M709.4 415.3l8.4-33.4"/>
<path class="m3" stroke-dasharray="60 82" d="M1228.5 615.9l26.4-54 8.4 6-26.4 50.5z"/>
<path class="m5" d="M1254.8 562l8.4 6"/>
<path class="m6" stroke-dasharray="27 249" d="M977.4 542.1l26.4-3.6 8.4-108.1-26.4 4z"/>
<path class="m10" d="M1003.7 538.5l8.4-108.1"/>
<path class="m13" stroke-dasharray="37 60" d="M726.3 363.4l26.4 7 8.4 3.6-26.4 12.9z"/>
<path class="m12" stroke-dasharray="36 41" d="M769.5 393.7l26.4 3.5 8.4 3.9-26.4-5.7z"/>
<path class="m11" stroke-dasharray="49 46" d="M812.8 408.3l26.4-12.5 8.4 17.5-26.4 5.5z"/>
<path class="m7" stroke-dasharray="34 69" d="M310.6 517.2l26.4-21.8 8.4-8.2-26.4 33.5z"/>
<path class="m8" d="M337 495.4l8.4-8.2"/>
<path class="m7" d="M319 520.7l-8.4-3.5"/>
<path class="m8" stroke-dasharray="27 153" d="M1107.1 486.4l26.4-0.4 8.4-61.6-26.4 3.9z"/>
<path class="m11" d="M1133.5 486l8.4-61.6"/>
<path class="m9" stroke-dasharray="32 125" d="M353.9 477.7l26.4-17.9 8.4 29.7-26.4 33.3z"/>
<path class="m8" d="M380.2 459.8l8.4 29.7"/>
<path class="m11" stroke-dasharray="29 436" d="M899.3 419.1l26.4-10.2 8.4 207.4-26.4-0.8z"/>
<path class="m3" d="M925.7 408.9l8.4 207.4"/>
<path class="m12" stroke-dasharray="27 151" d="M648.2 398.6l26.4-1.5 8.4-61.3-26.4 6.9z"/>
<path class="m14" d="M674.6 397.1l8.4-61.3"/>
<path class="m3" stroke-dasharray="38 44" d="M1193.7 602.7l26.4 11.9 8.4 1.4-26.4-14.8z"/>
<path class="m14" stroke-dasharray="36 62" d="M691.5 357.7l26.4 24.2 8.4-18.5-26.4-1.3z"/>
<path class="m13" d="M717.8 381.9l8.4-18.5"/>
<path class="m3" stroke-dasharray="57 127" d="M1236.9 618.5l26.4-50.5 8.4-31.2-26.4 51.4z"/>
<path class="m6" d="M1263.3 568l8.4-31.2"/>
<path class="m11" stroke-dasharray="27 397" d="M985.8 434.4l26.4-4 8.4 188.6-26.4-9.8z"/>
<path class="m3" d="M1012.2 430.4l8.4 188.6"/>
<path class="m13" stroke-dasharray="30 70" d="M734.7 386.9l26.4-12.9 8.4 19.6-26.4 6.4z"/>
<path class="m12" d="M761.1 374l8.4 19.6"/>
<path class="m12" stroke-dasharray="27 63" d="M778 395.3l26.4 5.7 8.4 7.2-26.4 5.1z"/>
<path class="m11" d="M804.3 401.1l8.4 7.2"/>
<path class="m11" stroke-dasharray="27 435" d="M821.2 418.7l26.4-5.5 8.4 204.4-26.4-1.1z"/>
<path class="m3" d="M847.6 413.3l8.4 204.4"/>
<path class="m7" stroke-dasharray="43 74" d="M319 520.7l26.4-33.5 8.4-9.5-26.4 26.6z"/>
<path class="m9" d="M345.4 487.2l8.4-9.5"/>
<path class="m8" d="M327.5 504.3l-8.4 16.4"/>
<path class="m11" stroke-dasharray="27 451" d="M1115.6 428.3l26.4-3.9 8.4 164.1-26.4 57.7z"/>
<path class="m4" d="M1142 424.4l8.4 164.1"/>
<path class="m6" stroke-dasharray="27 267" d="M864.5 537.3l26.4 2.1 8.4-120.3-26.4 4.4z"/>
<path class="m11" d="M890.9 539.4l8.4-120.3"/>
<path class="m4" stroke-dasharray="31 57" d="M1158.8 581.2l26.4 16.5 8.4 5-26.4-11.9z"/>
<path class="m3" d="M1185.2 597.6l8.4 5"/>
<path class="m14" stroke-dasharray="51 56" d="M656.6 342.7l26.4-6.9 8.4 21.9-26.4 6.6z"/>
<path class="m6" stroke-dasharray="27 245" d="M951 541.2l26.4 0.9 8.4-107.7-26.4 1.9z"/>
<path class="m11" d="M977.4 542.1l8.4-107.7"/>
<path class="m14" stroke-dasharray="27 82" d="M699.9 362.1l26.4 1.3 8.4 23.5-26.4-1.5z"/>
<path class="m13" d="M726.3 363.4l8.4 23.5"/>
<path class="m10" stroke-dasharray="27 79" d="M448.8 445.4l26.4 2.6 8.4-20.6-26.4-5.1z"/>
<path class="m11" d="M475.2 448l8.4-20.6"/>
<path class="m4" stroke-dasharray="58 106" d="M1245.3 588.2l26.4-51.4 8.4-18.9-26.4 35.1z"/>
<path class="m7" d="M1271.7 536.8l8.4-18.9"/>
<path class="m12" stroke-dasharray="36 43" d="M743.2 400.1l26.4-6.4 8.4 1.6-26.4 9.4z"/>
<path class="m12" stroke-dasharray="27 62" d="M786.4 413.4l26.4-5.1 8.4 10.5-26.4 7.7z"/>
<path class="m11" d="M812.8 408.3l8.4 10.5"/>
<path class="m8" stroke-dasharray="32 157" d="M1080.8 504.7l26.4-18.3 8.4-58.1-26.4 14.1z"/>
<path class="m11" d="M1107.1 486.4l8.4-58.1"/>
<path class="m8" stroke-dasharray="38 161" d="M327.5 504.3l26.4-26.6 8.4 45.1-26.4 41.2z"/>
<path class="m7" d="M353.9 477.7l8.4 45.1"/>
<path class="m6" d="M335.9 564l-8.4-59.7"/>
<path class="m11" stroke-dasharray="27 405" d="M872.9 423.5l26.4-4.4 8.4 196.4-26.4-28.1z"/>
<path class="m3" d="M899.3 419.1l8.4 196.4"/>
<path class="m10" stroke-dasharray="71 189" d="M621.8 464.4l26.4-65.8 8.4-55.9-26.4 78z"/>
<path class="m14" d="M648.2 398.6l8.4-55.9"/>
<path class="m8" stroke-dasharray="37 75" d="M370.7 511.8l26.4-25.3 8.4-13-26.4 18.3z"/>
<path class="m9" d="M397.1 486.5l8.4-13"/>
<path class="m4" stroke-dasharray="38 42" d="M1167.3 590.7l26.4 11.9 8.4-1.5-26.4-9.9z"/>
<path class="m14" stroke-dasharray="37 41" d="M665.1 364.3l26.4-6.6 8.4 4.4-26.4 4.3z"/>
<path class="m3" stroke-dasharray="28 87" d="M1210.5 609.7l26.4 8.8 8.4-30.3-26.4-0.3z"/>
<path class="m4" d="M1236.9 618.5l8.4-30.3"/>
<path class="m11" stroke-dasharray="27 408" d="M959.4 436.3l26.4-1.9 8.4 174.8-26.4 20.9z"/>
<path class="m3" d="M985.8 434.4l8.4 174.8"/>
<path class="m13" stroke-dasharray="27 78" d="M708.3 385.5l26.4 1.5 8.4 13.1-26.4 11.8z"/>
<path class="m12" d="M734.7 386.9l8.4 13.1"/>
<path class="m11" stroke-dasharray="27 217" d="M457.2 422.3l26.4 5.1 8.4 93.2-26.4-7.9z"/>
<path class="m7" d="M483.6 427.4l8.4 93.2"/>
<path class="m6" stroke-dasharray="44 97" d="M1253.8 553l26.4-35.1 8.4-20.4-26.4 21z"/>
<path class="m8" d="M1280.2 517.8l8.4-20.4"/>
<path class="m12" stroke-dasharray="48 55" d="M751.6 404.7l26.4-9.4 8.4 18.1-26.4 10.5z"/>
<path class="m11" stroke-dasharray="28 420" d="M794.9 426.4l26.4-7.7 8.4 197.8-26.4-0.7z"/>
<path class="m3" d="M821.2 418.7l8.4 197.8"/>
<path class="m11" stroke-dasharray="30 433" d="M1089.2 442.4l26.4-14.1 8.4 217.9-26.4-57.9z"/>
<path class="m2" d="M1115.6 428.3l8.4 217.9"/>
<path class="m7" stroke-dasharray="27 249" d="M838.1 536.9l26.4 0.4 8.4-113.8-26.4 15.3z"/>
<path class="m11" d="M864.5 537.3l8.4-113.8"/>
<path class="m6" stroke-dasharray="49 82" d="M335.9 564l26.4-41.2 8.4-11-26.4 39z"/>
<path class="m8" d="M362.3 522.8l8.4-11"/>
<path class="m6" d="M344.4 550.8l-8.4 13.2"/>
<path class="m11" stroke-dasharray="83 96" d="M630.3 420.7l26.4-78 8.4 21.6-26.4 34z"/>
<path class="m14" d="M656.6 342.7l8.4 21.6"/>
<path class="m4" stroke-dasharray="28 59" d="M1175.7 591.2l26.4 9.9 8.4 8.5-26.4-20.1z"/>
<path class="m3" d="M1202.1 601.1l8.4 8.5"/>
<path class="m6" stroke-dasharray="28 240" d="M924.6 547.9l26.4-6.7 8.4-104.9-26.4 11.9z"/>
<path class="m11" d="M951 541.2l8.4-104.9"/>
<path class="m14" stroke-dasharray="27 98" d="M673.5 366.4l26.4-4.3 8.4 23.4-26.4 16.3z"/>
<path class="m13" d="M699.9 362.1l8.4 23.4"/>
<path class="m10" stroke-dasharray="29 90" d="M422.4 456.8l26.4-11.4 8.4-23.1-26.4 1.9z"/>
<path class="m11" d="M448.8 445.4l8.4-23.1"/>
<path class="m5" stroke-dasharray="27 112" d="M1219 587.9l26.4 0.3 8.4-35.2-26.4-7.3z"/>
<path class="m6" d="M1245.3 588.2l8.4-35.2"/>
<path class="m12" stroke-dasharray="39 42" d="M716.8 411.8l26.4-11.8 8.4 4.6-26.4 8.8z"/>
<path class="m7" stroke-dasharray="34 122" d="M1262.2 518.5l26.4-21 8.4-37.8-26.4 10.4z"/>
<path class="m10" d="M1288.6 497.5l8.4-37.8"/>
<path class="m11" stroke-dasharray="44 50" d="M760 423.9l26.4-10.5 8.4 13-26.4 11z"/>
<path class="m8" stroke-dasharray="28 157" d="M1054.4 511.8l26.4-7.2 8.4-62.2-26.4 9.9z"/>
<path class="m11" d="M1080.8 504.7l8.4-62.2"/>
<path class="m5" stroke-dasharray="64 82" d="M1097.6 588.3l26.4 57.9 8.4 0.5-26.4-46.1z"/>
<path class="m2" d="M1124 646.2l8.4 0.5"/>
<path class="m11" stroke-dasharray="31 332" d="M846.5 438.8l26.4-15.3 8.4 164-26.4-20.4z"/>
<path class="m5" d="M872.9 423.5l8.4 164"/>
<path class="m6" stroke-dasharray="47 96" d="M344.4 550.8l26.4-39 8.4-20-26.4 36z"/>
<path class="m9" d="M370.7 511.8l8.4-20"/>
<path class="m7" d="M352.8 527.8l-8.4 23"/>
<path class="m13" stroke-dasharray="43 63" d="M638.7 398.3l26.4-34 8.4 2.1-26.4 16.9z"/>
<path class="m14" d="M665.1 364.3l8.4 2.1"/>
<path class="m5" stroke-dasharray="57 55" d="M1184.2 589.6l26.4 20.1 8.4-21.8-26.4-15.7z"/>
<path class="m11" stroke-dasharray="29 398" d="M933.1 448.2l26.4-11.9 8.4 193.8-26.4-13.9z"/>
<path class="m3" d="M959.4 436.3l8.4 193.8"/>
<path class="m12" stroke-dasharray="59 42" d="M682 401.8l26.4-16.3 8.4 26.4-26.4-9.6z"/>
<path class="m12" stroke-dasharray="27 241" d="M430.9 424.1l26.4-1.9 8.4 90.4-26.4 21.5z"/>
<path class="m8" d="M457.2 422.3l8.4 90.4"/>
<path class="m6" stroke-dasharray="28 105" d="M1227.4 545.6l26.4 7.3 8.4-34.5-26.4-8.2z"/>
<path class="m7" d="M1253.8 553l8.4-34.5"/>
<path class="m12" stroke-dasharray="28 70" d="M725.2 413.5l26.4-8.8 8.4 19.2-26.4 4.4z"/>
<path class="m11" d="M751.6 404.7l8.4 19.2"/>
<path class="m10" stroke-dasharray="29 84" d="M1270.7 470.1l26.4-10.4 8.4-20.6-26.4 2.8z"/>
<path class="m11" d="M1297 459.6l8.4-20.6"/>
<path class="m11" d="M1305.5 439l-26.4 2.8"/>
<path class="m11" stroke-dasharray="29 399" d="M768.5 437.4l26.4-11 8.4 189.4-26.4-1.3z"/>
<path class="m3" d="M794.9 426.4l8.4 189.4"/>
<path class="m10" stroke-dasharray="28 368" d="M1062.8 452.4l26.4-9.9 8.4 145.9-26.4 36.1z"/>
<path class="m5" d="M1089.2 442.4l8.4 145.9"/>
<path class="m7" stroke-dasharray="28 238" d="M811.7 544.4l26.4-7.6 8.4-98.1-26.4-1.9z"/>
<path class="m11" d="M838.1 536.9l8.4-98.1"/>
<path class="m4" stroke-dasharray="53 81" d="M1106.1 600.6l26.4 46.1 8.4 1.2-26.4-51z"/>
<path class="m2" d="M1132.5 646.7l8.4 1.2"/>
<path class="m7" stroke-dasharray="45 67" d="M352.8 527.8l26.4-36 8.4-1.8-26.4 19.3z"/>
<path class="m9" d="M379.2 491.8l8.4-1.8"/>
<path class="m8" d="M361.2 509.3l-8.4 18.5"/>
<path class="m2" stroke-dasharray="68 89" d="M1149.3 653.9l26.4-62.6 8.4-1.7-26.4 60.5z"/>
<path class="m5" d="M1175.7 591.2l8.4-1.7"/>
<path class="m7" stroke-dasharray="27 219" d="M898.2 542.2l26.4 5.7 8.4-99.7-26.4 9.4z"/>
<path class="m11" d="M924.6 547.9l8.4-99.7"/>
<path class="m13" stroke-dasharray="32 84" d="M647.1 383.3l26.4-16.9 8.4 35.4-26.4-6.3z"/>
<path class="m12" d="M673.5 366.4l8.4 35.4"/>
<path class="m10" stroke-dasharray="28 100" d="M396.1 465.9l26.4-9.1 8.4-32.6-26.4 10.4z"/>
<path class="m12" d="M422.4 456.8l8.4-32.6"/>
<path class="m5" stroke-dasharray="31 119" d="M1192.6 572.2l26.4 15.7 8.4-42.3-26.4-13.5z"/>
<path class="m6" d="M1219 587.9l8.4-42.3"/>
<path class="m13" stroke-dasharray="28 66" d="M690.4 402.3l26.4 9.6 8.4 1.7-26.4 10.9z"/>
<path class="m12" d="M716.8 411.8l8.4 1.7"/>
<path class="m8" stroke-dasharray="28 113" d="M1235.9 510.2l26.4 8.2 8.4-48.4-26.4 12.4z"/>
<path class="m10" d="M1262.2 518.5l8.4-48.4"/>
<path class="m12" stroke-dasharray="27 63" d="M733.7 428.3l26.4-4.4 8.4 13.5-26.4 3.2z"/>
<path class="m11" d="M760 423.9l8.4 13.5"/>
<path class="m8" stroke-dasharray="27 154" d="M1028 511.6l26.4 0.2 8.4-59.5-26.4-1.7z"/>
<path class="m10" d="M1054.4 511.8l8.4-59.5"/>
<path class="m4" stroke-dasharray="27 172" d="M776.9 614.5l26.4 1.3 8.4-71.4-26.4 2.5z"/>
<path class="m7" d="M803.3 615.8l8.4-71.4"/>
<path class="m11" stroke-dasharray="27 275" d="M820.2 436.9l26.4 1.9 8.4 128.3-26.4-28.4z"/>
<path class="m6" d="M846.5 438.8l8.4 128.3"/>
<path class="m5" stroke-dasharray="58 84" d="M1114.5 596.9l26.4 51 8.4 5.9-26.4-53.2z"/>
<path class="m2" d="M1140.9 647.9l8.4 5.9"/>
<path class="m11" stroke-dasharray="45 93" d="M612.3 434l26.4-35.7 8.4-15-26.4 9z"/>
<path class="m13" d="M638.7 398.3l8.4-15"/>
<path class="m8" stroke-dasharray="33 88" d="M361.2 509.3l26.4-19.3 8.4-24.1-26.4 21.9z"/>
<path class="m10" d="M387.6 490l8.4-24.1"/>
<path class="m9" d="M369.7 487.8l-8.4 21.5"/>
<path class="m2" stroke-dasharray="66 111" d="M1157.8 650l26.4-60.5 8.4-17.3-26.4 46.8z"/>
<path class="m5" d="M1184.2 589.6l8.4-17.3"/>
<path class="m10" stroke-dasharray="28 343" d="M906.7 457.6l26.4-9.4 8.4 168-26.4-27.1z"/>
<path class="m4" d="M933.1 448.2l8.4 168"/>
<path class="m13" stroke-dasharray="36 73" d="M655.6 395.5l26.4 6.3 8.4 0.5-26.4 24.1z"/>
<path class="m11" stroke-dasharray="29 264" d="M404.5 434.6l26.4-10.4 8.4 110-26.4 16.7z"/>
<path class="m7" d="M430.9 424.1l8.4 110"/>
<path class="m7" stroke-dasharray="30 87" d="M1201 532.1l26.4 13.5 8.4-35.4-26.4 5.9z"/>
<path class="m8" d="M1227.4 545.6l8.4-35.4"/>
<path class="m12" stroke-dasharray="46 45" d="M698.8 424.5l26.4-10.9 8.4 14.8-26.4 5.1z"/>
<path class="m9" stroke-dasharray="29 99" d="M1244.3 482.5l26.4-12.4 8.4-28.3-26.4 4.2z"/>
<path class="m11" d="M1270.7 470.1l8.4-28.3"/>
<path class="m11" d="M1279.1 441.8l-26.4 4.2"/>
<path class="m11" stroke-dasharray="27 375" d="M742.1 440.6l26.4-3.2 8.4 177.1-26.4-10.8z"/>
<path class="m4" d="M768.5 437.4l8.4 177.1"/>
<path class="m11" stroke-dasharray="27 404" d="M1036.5 450.7l26.4 1.7 8.4 172-26.4 19.3z"/>
<path class="m3" d="M1062.8 452.4l8.4 172"/>
<path class="m7" stroke-dasharray="27 244" d="M785.4 547l26.4-2.5 8.4-107.5-26.4 6.5z"/>
<path class="m11" d="M811.7 544.4l8.4-107.5"/>
<path class="m5" stroke-dasharray="60 78" d="M1123 600.6l26.4 53.2 8.4-3.8-26.4-47.5z"/>
<path class="m2" d="M1149.3 653.9l8.4-3.8"/>
<path class="m9" stroke-dasharray="59 196" d="M871.9 489.8l26.4 52.4 8.4-84.6-26.4-31.5z"/>
<path class="m10" d="M898.2 542.2l8.4-84.6"/>
<path class="m13" stroke-dasharray="43 49" d="M620.8 392.3l26.4-9 8.4 12.2-26.4 9.9z"/>
<path class="m9" stroke-dasharray="35 114" d="M369.7 487.8l26.4-21.9 8.4-31.4-26.4 4.7z"/>
<path class="m11" d="M396.1 465.9l8.4-31.4"/>
<path class="m12" d="M378.1 439.3l-8.4 48.6"/>
<path class="m4" stroke-dasharray="54 141" d="M1166.2 619l26.4-46.8 8.4-40.1-26.4 44.7z"/>
<path class="m7" d="M1192.6 572.2l8.4-40.1"/>
<path class="m12" stroke-dasharray="60 42" d="M664 426.4l26.4-24.1 8.4 22.2-26.4 5.8z"/>
<path class="m7" stroke-dasharray="32 67" d="M412.9 550.8l26.4-16.7 8.4-13.2-26.4 20.4z"/>
<path class="m8" d="M439.3 534.1l8.4-13.2"/>
<path class="m8" stroke-dasharray="27 94" d="M1209.5 516.2l26.4-5.9 8.4-27.8-26.4 2.2z"/>
<path class="m9" d="M1235.9 510.2l8.4-27.8"/>
<path class="m12" stroke-dasharray="27 64" d="M707.3 433.5l26.4-5.1 8.4 12.2-26.4 6.7z"/>
<path class="m11" d="M733.7 428.3l8.4 12.2"/>
<path class="m8" stroke-dasharray="30 158" d="M1001.6 524.3l26.4-12.7 8.4-60.9-26.4 12.1z"/>
<path class="m11" d="M1028 511.6l8.4-60.9"/>
<path class="m5" stroke-dasharray="29 153" d="M750.5 603.7l26.4 10.8 8.4-67.5-26.4 4.7z"/>
<path class="m7" d="M776.9 614.5l8.4-67.5"/>
<path class="m11" stroke-dasharray="27 231" d="M793.8 443.4l26.4-6.5 8.4 101.8-26.4 1.2z"/>
<path class="m7" d="M820.2 436.9l8.4 101.8"/>
<path class="m11" stroke-dasharray="36 132" d="M586 458.7l26.4-24.7 8.4-41.8-26.4 12.9z"/>
<path class="m13" d="M612.3 434l8.4-41.8"/>
<path class="m5" stroke-dasharray="55 120" d="M1131.4 602.5l26.4 47.5 8.4-31-26.4-45.4z"/>
<path class="m4" d="M1157.8 650l8.4-31"/>
<path class="m12" stroke-dasharray="41 306" d="M880.3 426.1l26.4 31.5 8.4 131.5-26.4-57.7z"/>
<path class="m5" d="M906.7 457.6l8.4 131.5"/>
<path class="m13" stroke-dasharray="28 85" d="M629.2 405.4l26.4-9.9 8.4 30.9-26.4-1.5z"/>
<path class="m12" d="M655.6 395.5l8.4 30.9"/>
<path class="m12" stroke-dasharray="27 318" d="M378.1 439.3l26.4-4.7 8.4 116.2-26.4 38.2z"/>
<path class="m7" d="M404.5 434.6l8.4 116.2"/>
<path class="m5" d="M386.6 589l-8.4-149.7"/>
<path class="m6" stroke-dasharray="52 99" d="M1174.7 576.8l26.4-44.7 8.4-15.9-26.4 18.5z"/>
<path class="m8" d="M1201 532.1l8.4-15.9"/>
<path class="m12" stroke-dasharray="40 46" d="M672.5 430.3l26.4-5.8 8.4 9-26.4 6.8z"/>
<path class="m10" stroke-dasharray="27 105" d="M1217.9 484.7l26.4-2.2 8.4-36.4-26.4 4.4z"/>
<path class="m11" d="M1244.3 482.5l8.4-36.4"/>
<path class="m11" d="M1252.7 446l-26.4 4.4"/>
<path class="m11" stroke-dasharray="28 349" d="M715.7 447.3l26.4-6.7 8.4 163.1-26.4-2.7z"/>
<path class="m5" d="M742.1 440.6l8.4 163.1"/>
<path class="m11" stroke-dasharray="29 390" d="M1010.1 462.7l26.4-12.1 8.4 193-26.4-30.2z"/>
<path class="m3" d="M1036.5 450.7l8.4 193"/>
<path class="m7" stroke-dasharray="27 237" d="M759 551.6l26.4-4.7 8.4-103.5-26.4 8.4z"/>
<path class="m11" d="M785.4 547l8.4-103.5"/>
<path class="m3" stroke-dasharray="43 70" d="M1096.6 634.6l26.4-34 8.4 1.9-26.4 37.6z"/>
<path class="m5" d="M1123 600.6l8.4 1.9"/>
<path class="m9" stroke-dasharray="33 176" d="M845.5 509.8l26.4-19.9 8.4-63.7-26.4 4.3z"/>
<path class="m12" d="M871.9 489.8l8.4-63.7"/>
<path class="m13" stroke-dasharray="45 41" d="M594.4 405.1l26.4-12.9 8.4 13.1-26.4 2.5z"/>
<path class="m6" stroke-dasharray="96 91" d="M1139.8 573.6l26.4 45.4 8.4-42.2-26.4-40.2z"/>
<path class="m12" stroke-dasharray="36 42" d="M637.7 424.9l26.4 1.5 8.4 3.9-26.4-0.4z"/>
<path class="m5" stroke-dasharray="47 77" d="M386.6 589l26.4-38.2 8.4-9.4-26.4 37.9z"/>
<path class="m7" d="M412.9 550.8l8.4-9.4"/>
<path class="m6" d="M395 579.2l-8.4 9.7"/>
<path class="m8" stroke-dasharray="32 103" d="M1183.1 534.6l26.4-18.5 8.4-31.4-26.4 17.4z"/>
<path class="m10" d="M1209.5 516.2l8.4-31.4"/>
<path class="m12" stroke-dasharray="28 58" d="M680.9 440.2l26.4-6.8 8.4 13.8-26.4-3z"/>
<path class="m11" d="M707.3 433.5l8.4 13.8"/>
<path class="m8" stroke-dasharray="27 149" d="M975.3 525.6l26.4-1.3 8.4-61.6-26.4 10.9z"/>
<path class="m11" d="M1001.6 524.3l8.4-61.6"/>
<path class="m5" stroke-dasharray="27 141" d="M724.2 601.1l26.4 2.7 8.4-52.1-26.4-5.9z"/>
<path class="m7" d="M750.5 603.7l8.4-52.1"/>
<path class="m9" stroke-dasharray="32 255" d="M473.1 498.2l26.4-17.3 8.4-19.5-26.4-93.9z"/>
<path class="m11" d="M499.4 480.9l8.4-19.5"/>
<path class="m4" stroke-dasharray="40 68" d="M1018.5 613.5l26.4 30.2 8.4 4.3-26.4-35.6z"/>
<path class="m3" d="M1044.9 643.7l8.4 4.3"/>
<path class="m11" stroke-dasharray="28 229" d="M767.4 451.8l26.4-8.4 8.4 96.6-26.4 9.7z"/>
<path class="m7" d="M793.8 443.4l8.4 96.6"/>
<path class="m10" stroke-dasharray="29 148" d="M559.6 470.3l26.4-11.5 8.4-53.6-26.4 4.6z"/>
<path class="m13" d="M586 458.7l8.4-53.6"/>
<path class="m3" stroke-dasharray="46 111" d="M1105 640.1l26.4-37.6 8.4-28.9-26.4 39.7z"/>
<path class="m6" d="M1131.4 602.5l8.4-28.9"/>
<path class="m12" stroke-dasharray="27 222" d="M853.9 430.4l26.4-4.3 8.4 105.4-26.4-34.3z"/>
<path class="m8" d="M880.3 426.1l8.4 105.4"/>
<path class="m13" stroke-dasharray="27 71" d="M602.8 407.9l26.4-2.5 8.4 19.5-26.4-0.7z"/>
<path class="m12" d="M629.2 405.4l8.4 19.5"/>
<path class="m8" stroke-dasharray="91 47" d="M1148.3 536.6l26.4 40.2 8.4-42.2-26.4-9.1z"/>
<path class="m12" stroke-dasharray="40 43" d="M646.1 429.9l26.4 0.4 8.4 10-26.4-4.4z"/>
<path class="m6" stroke-dasharray="46 67" d="M395 579.2l26.4-37.9 8.4-1.8-26.4 31.6z"/>
<path class="m8" d="M421.4 541.3l8.4-1.8"/>
<path class="m6" d="M403.4 571.2l-8.4 8.1"/>
<path class="m9" stroke-dasharray="32 117" d="M1191.5 502.1l26.4-17.4 8.4-34.3-26.4 2.8z"/>
<path class="m11" d="M1217.9 484.7l8.4-34.3"/>
<path class="m11" d="M1226.4 450.4l-26.4 2.8"/>
<path class="m12" stroke-dasharray="27 336" d="M689.3 444.2l26.4 3 8.4 153.8-26.4-8.4z"/>
<path class="m5" d="M715.7 447.3l8.4 153.8"/>
<path class="m10" stroke-dasharray="29 424" d="M983.7 473.7l26.4-10.9 8.4 150.8-26.4 61.1z"/>
<path class="m4" d="M1010.1 462.7l8.4 150.8"/>
<path class="m7" stroke-dasharray="27 230" d="M732.6 545.7l26.4 5.9 8.4-99.8-26.4-3.5z"/>
<path class="m11" d="M759 551.6l8.4-99.8"/>
<path class="m15" stroke-dasharray="98 288" d="M481.5 367.5l26.4 93.9 8.4 78.8-26.4 3.3z"/>
<path class="m8" d="M507.9 461.4l8.4 78.8"/>
<path class="m5" stroke-dasharray="45 94" d="M1027 612.3l26.4 35.6 8.4 17.2-26.4-54.7z"/>
<path class="m2" d="M1053.3 648l8.4 17.2"/>
<path class="m9" stroke-dasharray="28 188" d="M819.1 517.2l26.4-7.4 8.4-79.3-26.4 15.1z"/>
<path class="m12" d="M845.5 509.8l8.4-79.3"/>
<path class="m13" stroke-dasharray="36 55" d="M568 409.7l26.4-4.6 8.4 2.8-26.4 17.6z"/>
<path class="m5" stroke-dasharray="48 130" d="M1113.5 613.3l26.4-39.7 8.4-37-26.4 34z"/>
<path class="m8" d="M1139.8 573.6l8.4-37"/>
<path class="m13" stroke-dasharray="27 64" d="M611.3 424.2l26.4 0.7 8.4 5-26.4 12z"/>
<path class="m12" d="M637.7 424.9l8.4 5"/>
<path class="m8" stroke-dasharray="28 101" d="M1156.7 525.6l26.4 9.1 8.4-32.5-26.4-9.3z"/>
<path class="m9" d="M1183.1 534.6l8.4-32.5"/>
<path class="m12" stroke-dasharray="36 53" d="M654.5 435.8l26.4 4.4 8.4 4-26.4 9.5z"/>
<path class="m6" stroke-dasharray="41 71" d="M403.4 571.2l26.4-31.6 8.4-8.6-26.4 24.7z"/>
<path class="m8" d="M429.8 539.6l8.4-8.6"/>
<path class="m7" d="M411.9 555.8l-8.4 15.4"/>
<path class="m9" stroke-dasharray="27 124" d="M948.9 520.2l26.4 5.4 8.4-52-26.4 10.4z"/>
<path class="m10" d="M975.3 525.6l8.4-52"/>
<path class="m6" stroke-dasharray="28 144" d="M697.8 592.7l26.4 8.4 8.4-55.3-26.4-7.5z"/>
<path class="m7" d="M724.2 601.1l8.4-55.3"/>
<path class="m12" stroke-dasharray="56 281" d="M446.7 449.1l26.4 49.2 8.4-130.8-26.4 110.7z"/>
<path class="m15" d="M473.1 498.2l8.4-130.8"/>
<path class="m12" stroke-dasharray="27 229" d="M741 448.3l26.4 3.5 8.4 97.8-26.4-3.1z"/>
<path class="m7" d="M767.4 451.8l8.4 97.8"/>
<path class="m8" stroke-dasharray="27 71" d="M489.9 543.5l26.4-3.3 8.4-21-26.4 18.5z"/>
<path class="m9" d="M516.3 540.2l8.4-21"/>
<path class="m5" stroke-dasharray="61 78" d="M1035.4 610.5l26.4 54.7 8.4-7.4-26.4-45.2z"/>
<path class="m3" d="M1061.8 665.2l8.4-7.4"/>
<path class="m10" stroke-dasharray="29 162" d="M533.2 481.1l26.4-10.8 8.4-60.6-26.4 2.8z"/>
<path class="m13" d="M559.6 470.3l8.4-60.6"/>
<path class="m3" stroke-dasharray="29 98" d="M1078.7 652.1l26.4-12 8.4-26.8-26.4 2.2z"/>
<path class="m5" d="M1105 640.1l8.4-26.8"/>
<path class="m12" stroke-dasharray="31 225" d="M827.6 445.5l26.4-15.1 8.4 66.8-26.4 46.6z"/>
<path class="m10" d="M853.9 430.4l8.4 66.8"/>
<path class="m13" stroke-dasharray="50 42" d="M576.5 425.5l26.4-17.6 8.4 16.3-26.4-3.6z"/>
<path class="m7" stroke-dasharray="43 84" d="M1121.9 570.6l26.4-34 8.4-11.1-26.4 9z"/>
<path class="m8" d="M1148.3 536.6l8.4-11.1"/>
<path class="m12" stroke-dasharray="40 54" d="M619.7 441.9l26.4-12 8.4 5.9-26.4 19.3z"/>
<path class="m10" stroke-dasharray="28 113" d="M1165.2 492.8l26.4 9.3 8.4-48.9-26.4 11.3z"/>
<path class="m11" d="M1191.5 502.1l8.4-48.9"/>
<path class="m11" d="M1200 453.2l-26.4 11.3"/>
<path class="m12" stroke-dasharray="28 312" d="M663 453.7l26.4-9.5 8.4 148.5-26.4-9.8z"/>
<path class="m6" d="M689.3 444.2l8.4 148.5"/>
<path class="m7" stroke-dasharray="36 202" d="M411.9 555.8l26.4-24.7 8.4-82-26.4 98.7z"/>
<path class="m12" d="M438.3 531l8.4-82"/>
<path class="m8" d="M420.3 547.8l-8.4 8"/>
<path class="m10" stroke-dasharray="29 405" d="M957.3 484l26.4-10.4 8.4 200.9-26.4-45z"/>
<path class="m2" d="M983.7 473.7l8.4 200.9"/>
<path class="m8" stroke-dasharray="28 218" d="M706.2 538.3l26.4 7.5 8.4-97.4-26.4 2.3z"/>
<path class="m12" d="M732.6 545.7l8.4-97.4"/>
<path class="m11" stroke-dasharray="114 324" d="M455.1 478.2l26.4-110.7 8.4 176-26.4 33.6z"/>
<path class="m8" d="M481.5 367.5l8.4 176"/>
<path class="m8" stroke-dasharray="33 122" d="M498.4 537.7l26.4-18.5 8.4-38.1-26.4 6.6z"/>
<path class="m10" d="M524.8 519.2l8.4-38.1"/>
<path class="m5" stroke-dasharray="53 69" d="M1043.8 612.5l26.4 45.2 8.4-5.6-26.4-35.8z"/>
<path class="m3" d="M1070.2 657.7l8.4-5.6"/>
<path class="m11" stroke-dasharray="50 129" d="M792.7 474.6l26.4 42.5 8.4-71.6-26.4 6.2z"/>
<path class="m12" d="M819.1 517.2l8.4-71.6"/>
<path class="m13" stroke-dasharray="45 43" d="M541.6 412.5l26.4-2.8 8.4 15.8-26.4-10.1z"/>
<path class="m5" stroke-dasharray="27 110" d="M1087.1 615.5l26.4-2.2 8.4-42.7-26.4 16z"/>
<path class="m7" d="M1113.5 613.3l8.4-42.7"/>
<path class="m13" stroke-dasharray="27 75" d="M584.9 420.6l26.4 3.6 8.4 17.7-26.4 0.9z"/>
<path class="m12" d="M611.3 424.2l8.4 17.7"/>
<path class="m8" stroke-dasharray="28 102" d="M1130.3 534.6l26.4-9 8.4-32.7-26.4 7z"/>
<path class="m10" d="M1156.7 525.6l8.4-32.7"/>
<path class="m12" stroke-dasharray="53 42" d="M628.2 455l26.4-19.3 8.4 17.9-26.4-4.2z"/>
<path class="m11" stroke-dasharray="53 109" d="M922.5 474.4l26.4 45.8 8.4-36.2-26.4-32.6z"/>
<path class="m10" d="M948.9 520.2l8.4-36.2"/>
<path class="m8" stroke-dasharray="102 312" d="M420.3 547.8l26.4-98.7 8.4 29.1-26.4-101.5z"/>
<path class="m11" d="M446.7 449.1l8.4 29.1"/>
<path class="m15" d="M428.8 376.6l-8.4 171.1"/>
<path class="m4" stroke-dasharray="52 73" d="M965.8 629.6l26.4 45 8.4 1.3-26.4-42.5z"/>
<path class="m2" d="M992.1 674.6l8.4 1.3"/>
<path class="m12" stroke-dasharray="27 207" d="M714.7 450.6l26.4-2.3 8.4 98.3-26.4-52.7z"/>
<path class="m8" d="M741 448.3l8.4 98.3"/>
<path class="m7" stroke-dasharray="43 69" d="M463.6 577.1l26.4-33.6 8.4-5.8-26.4 22.4z"/>
<path class="m8" d="M489.9 543.5l8.4-5.8"/>
<path class="m2" stroke-dasharray="78 116" d="M1009 683.1l26.4-72.6 8.4 2-26.4 83z"/>
<path class="m5" d="M1035.4 610.5l8.4 2"/>
<path class="m8" stroke-dasharray="30 173" d="M757.9 532l26.4 12.8 8.4-70.1-26.4-10.7z"/>
<path class="m11" d="M784.3 544.8l8.4-70.1"/>
<path class="m10" stroke-dasharray="27 176" d="M506.8 487.7l26.4-6.6 8.4-68.6-26.4 0.3z"/>
<path class="m13" d="M533.2 481.1l8.4-68.6"/>
<path class="m5" stroke-dasharray="82 55" d="M1052.3 616.3l26.4 35.8 8.4-36.6-26.4-15.9z"/>
<path class="m12" stroke-dasharray="27 203" d="M801.2 451.7l26.4-6.2 8.4 98.2-26.4-50.8z"/>
<path class="m8" d="M827.6 445.5l8.4 98.2"/>
<path class="m13" stroke-dasharray="38 60" d="M550.1 415.3l26.4 10.1 8.4-4.9-26.4 16.7z"/>
<path class="m6" stroke-dasharray="31 109" d="M1095.5 586.6l26.4-16 8.4-36-26.4 20.1z"/>
<path class="m8" d="M1121.9 570.6l8.4-36"/>
<path class="m12" stroke-dasharray="42 43" d="M593.3 442.7l26.4-0.9 8.4 13.2-26.4-11z"/>
<path class="m10" stroke-dasharray="28 94" d="M1138.8 499.8l26.4-7 8.4-28.4-26.4 4.4z"/>
<path class="m11" d="M1165.2 492.8l8.4-28.4"/>
<path class="m11" d="M1173.6 464.4l-26.4 4.4"/>
<path class="m12" stroke-dasharray="27 282" d="M636.6 449.5l26.4 4.2 8.4 129.2-26.4-18.9z"/>
<path class="m6" d="M663 453.7l8.4 129.2"/>
<path class="m12" stroke-dasharray="42 351" d="M930.9 451.4l26.4 32.6 8.4 145.6-26.4-5.3z"/>
<path class="m4" d="M957.3 484l8.4 145.6"/>
<path class="m9" stroke-dasharray="28 195" d="M679.9 530.8l26.4 7.5 8.4-87.7-26.4 6.6z"/>
<path class="m12" d="M706.2 538.3l8.4-87.7"/>
<path class="m15" stroke-dasharray="105 395" d="M428.8 376.6l26.4 101.5 8.4 98.9-26.4 41.1z"/>
<path class="m7" d="M455.1 478.2l8.4 98.9"/>
<path class="m5" d="M437.2 618.1l-8.4-241.5"/>
<path class="m4" stroke-dasharray="50 87" d="M974.2 633.5l26.4 42.5 8.4 7.2-26.4-54.3z"/>
<path class="m2" d="M1000.6 675.9l8.4 7.2"/>
<path class="m10" stroke-dasharray="59 128" d="M723.1 493.9l26.4 52.7 8.4-14.5-26.4-68.8z"/>
<path class="m8" d="M749.5 546.6l8.4-14.5"/>
<path class="m7" stroke-dasharray="35 152" d="M472 560.1l26.4-22.4 8.4-49.9-26.4 4.2z"/>
<path class="m10" d="M498.4 537.7l8.4-49.9"/>
<path class="m2" stroke-dasharray="87 103" d="M1017.5 695.6l26.4-83 8.4 3.8-26.4 72.2z"/>
<path class="m5" d="M1043.8 612.5l8.4 3.8"/>
<path class="m11" stroke-dasharray="29 90" d="M766.4 463.9l26.4 10.7 8.4-22.9-26.4 30z"/>
<path class="m12" d="M792.7 474.6l8.4-22.9"/>
<path class="m14" stroke-dasharray="27 53" d="M515.3 412.8l26.4-0.3 8.4 2.8-26.4 5.7z"/>
<path class="m13" d="M541.6 412.5l8.4 2.8"/>
<path class="m6" stroke-dasharray="61 69" d="M1060.7 599.6l26.4 15.9 8.4-28.9-26.4-17.4z"/>
<path class="m13" stroke-dasharray="31 65" d="M558.5 437.2l26.4-16.7 8.4 22.2-26.4-1.8z"/>
<path class="m12" d="M584.9 420.6l8.4 22.2"/>
<path class="m8" stroke-dasharray="33 109" d="M1104 554.7l26.4-20.1 8.4-34.8-26.4 23.2z"/>
<path class="m10" d="M1130.3 534.6l8.4-34.8"/>
<path class="m12" stroke-dasharray="39 51" d="M601.8 444.1l26.4 11 8.4-5.5-26.4 9.6z"/>
<path class="m10" stroke-dasharray="44 98" d="M896.1 509.4l26.4-35 8.4-23-26.4 44.1z"/>
<path class="m12" d="M922.5 474.4l8.4-23"/>
<path class="m12" stroke-dasharray="27 193" d="M688.3 457.2l26.4-6.6 8.4 43.3-26.4 49.9z"/>
<path class="m10" d="M714.7 450.6l8.4 43.3"/>
<path class="m5" stroke-dasharray="49 96" d="M437.2 618.1l26.4-41.1 8.4-17-26.4 23z"/>
<path class="m7" d="M463.6 577.1l8.4-17"/>
<path class="m7" d="M445.6 583l-8.4 35.1"/>
<path class="m5" stroke-dasharray="61 98" d="M982.6 628.8l26.4 54.3 8.4 12.5-26.4-62z"/>
<path class="m2" d="M1009 683.1l8.4 12.5"/>
<path class="m12" stroke-dasharray="74 196" d="M731.5 463.2l26.4 68.8 8.4-68.1-26.4 57.6z"/>
<path class="m11" d="M757.9 532l8.4-68.1"/>
<path class="m10" stroke-dasharray="27 212" d="M480.5 491.9l26.4-4.2 8.4-74.9-26.4-19.3z"/>
<path class="m14" d="M506.8 487.7l8.4-74.9"/>
<path class="m2" stroke-dasharray="77 120" d="M1025.9 688.5l26.4-72.2 8.4-16.7-26.4 55.6z"/>
<path class="m6" d="M1052.3 616.3l8.4-16.7"/>
<path class="m11" stroke-dasharray="40 195" d="M774.8 481.7l26.4-30 8.4 41.3-26.4 65.1z"/>
<path class="m10" d="M801.2 451.7l8.4 41.3"/>
<path class="m13" stroke-dasharray="51 44" d="M523.7 421.1l26.4-5.7 8.4 21.9-26.4-12.4z"/>
<path class="m7" stroke-dasharray="32 104" d="M1069.2 569.2l26.4 17.4 8.4-31.9-26.4-18.2z"/>
<path class="m8" d="M1095.5 586.6l8.4-31.9"/>
<path class="m13" stroke-dasharray="27 50" d="M567 440.9l26.4 1.8 8.4 1.3-26.4 0.8z"/>
<path class="m12" d="M593.3 442.7l8.4 1.3"/>
<path class="m9" stroke-dasharray="35 111" d="M1112.4 523l26.4-23.2 8.4-30.9-26.4 10.1z"/>
<path class="m11" d="M1138.8 499.8l8.4-30.9"/>
<path class="m11" d="M1147.2 468.9l-26.4 10.1"/>
<path class="m11" stroke-dasharray="42 107" d="M861.3 484.6l26.4 32.2 8.4-7.3-26.4-53.7z"/>
<path class="m10" d="M887.7 516.7l8.4-7.3"/>
<path class="m12" stroke-dasharray="28 247" d="M610.2 459.1l26.4-9.6 8.4 114.5-26.4-5.3z"/>
<path class="m7" d="M636.6 449.5l8.4 114.5"/>
<path class="m10" stroke-dasharray="52 332" d="M904.6 495.5l26.4-44.1 8.4 172.9-26.4-2.2z"/>
<path class="m5" d="M930.9 451.4l8.4 172.9"/>
<path class="m9" stroke-dasharray="27 177" d="M653.5 525.2l26.4 5.6 8.4-73.6-26.4-2.5z"/>
<path class="m12" d="M679.9 530.8l8.4-73.6"/>
<path class="m7" stroke-dasharray="35 185" d="M445.6 583l26.4-23 8.4-68.1-26.4 8.8z"/>
<path class="m10" d="M472 560.1l8.4-68.1"/>
<path class="m10" d="M454.1 500.7l-8.4 82.3"/>
<path class="m5" stroke-dasharray="68 82" d="M991.1 633.5l26.4 62 8.4-7.1-26.4-43.7z"/>
<path class="m2" d="M1017.5 695.6l8.4-7.1"/>
<path class="m9" stroke-dasharray="64 85" d="M740 521.6l26.4-57.6 8.4 17.8-26.4 9.5z"/>
<path class="m11" d="M766.4 463.9l8.4 17.8"/>
<path class="m15" stroke-dasharray="33 65" d="M488.9 393.6l26.4 19.3 8.4 8.2-26.4-10.7z"/>
<path class="m13" d="M515.3 412.8l8.4 8.2"/>
<path class="m4" stroke-dasharray="62 132" d="M1034.3 655.2l26.4-55.6 8.4-30.4-26.4 40z"/>
<path class="m7" d="M1060.7 599.6l8.4-30.4"/>
<path class="m13" stroke-dasharray="39 71" d="M532.1 424.8l26.4 12.4 8.4 3.7-26.4 16.9z"/>
<path class="m9" stroke-dasharray="65 57" d="M1077.6 536.5l26.4 18.2 8.4-31.7-26.4-8.7z"/>
<path class="m13" stroke-dasharray="27 71" d="M575.4 444.9l26.4-0.8 8.4 15.1-26.4 5.7z"/>
<path class="m12" d="M601.8 444.1l8.4 15.1"/>
<path class="m12" stroke-dasharray="60 93" d="M869.8 455.7l26.4 53.7 8.4-13.9-26.4 4z"/>
<path class="m10" d="M896.1 509.4l8.4-13.9"/>
<path class="m12" stroke-dasharray="27 189" d="M661.9 454.7l26.4 2.5 8.4 86.5-26.4-51.6z"/>
<path class="m8" d="M688.3 457.2l8.4 86.5"/>
<path class="m11" stroke-dasharray="40 157" d="M705.2 492.9l26.4-29.7 8.4 58.4-26.4-57z"/>
<path class="m9" d="M731.5 463.2l8.4 58.4"/>
<path class="m10" stroke-dasharray="28 235" d="M454.1 500.7l26.4-8.8 8.4-98.4-26.4 2.9z"/>
<path class="m15" d="M480.5 491.9l8.4-98.4"/>
<path class="m15" d="M462.5 396.5l-8.4 104.2"/>
<path class="m4" stroke-dasharray="86 83" d="M999.5 644.7l26.4 43.7 8.4-33.3-26.4-39.4z"/>
<path class="m11" stroke-dasharray="28 175" d="M748.4 491.2l26.4-9.5 8.4 76.3-26.4-0.9z"/>
<path class="m8" d="M774.8 481.7l8.4 76.3"/>
<path class="m14" stroke-dasharray="29 52" d="M497.3 410.3l26.4 10.7 8.4 3.8-26.4-10.7z"/>
<path class="m13" d="M523.7 421.1l8.4 3.8"/>
<path class="m6" stroke-dasharray="48 122" d="M1042.8 609.2l26.4-40 8.4-32.6-26.4 34.9z"/>
<path class="m9" d="M1069.2 569.2l8.4-32.6"/>
<path class="m12" stroke-dasharray="32 65" d="M540.6 457.9l26.4-16.9 8.4 4-26.4-7.7z"/>
<path class="m13" d="M567 440.9l8.4 4"/>
<path class="m10" stroke-dasharray="28 112" d="M1086 514.3l26.4 8.7 8.4-44-26.4 1.3z"/>
<path class="m11" d="M1112.4 523l8.4-44"/>
<path class="m11" d="M1120.9 479l-26.4 1.3"/>
<path class="m11" stroke-dasharray="29 94" d="M834.9 496.8l26.4-12.2 8.4-28.8-26.4 13.4z"/>
<path class="m12" d="M861.3 484.6l8.4-28.8"/>
<path class="m12" stroke-dasharray="27 214" d="M583.8 464.8l26.4-5.7 8.4 99.5-26.4-16.9z"/>
<path class="m8" d="M610.2 459.1l8.4 99.5"/>
<path class="m11" stroke-dasharray="27 289" d="M878.2 499.5l26.4-4 8.4 126.6-26.4 6.2z"/>
<path class="m5" d="M904.6 495.5l8.4 126.6"/>
<path class="m10" stroke-dasharray="28 161" d="M627.1 517.4l26.4 7.8 8.4-70.5-26.4 6.4z"/>
<path class="m12" d="M653.5 525.2l8.4-70.5"/>
<path class="m12" stroke-dasharray="63 90" d="M713.6 464.6l26.4 57 8.4-30.4-26.4-1.2z"/>
<path class="m11" d="M740 521.6l8.4-30.4"/>
<path class="m15" stroke-dasharray="27 65" d="M462.5 396.5l26.4-2.9 8.4 16.7-26.4-2.7z"/>
<path class="m14" d="M488.9 393.6l8.4 16.7"/>
<path class="m15" d="M471 407.6l-8.4-11.1"/>
<path class="m6" stroke-dasharray="94 63" d="M1008 615.9l26.4 39.4 8.4-46-26.4-17.7z"/>
<path class="m14" stroke-dasharray="29 102" d="M505.8 414.1l26.4 10.7 8.4 33-26.4-10.9z"/>
<path class="m12" d="M532.1 424.8l8.4 33"/>
<path class="m8" stroke-dasharray="44 98" d="M1051.2 571.4l26.4-34.9 8.4-22.2-26.4 26.4z"/>
<path class="m10" d="M1077.6 536.5l8.4-22.2"/>
<path class="m13" stroke-dasharray="28 74" d="M549 437.2l26.4 7.7 8.4 19.9-26.4-12.3z"/>
<path class="m12" d="M575.4 444.9l8.4 19.9"/>
<path class="m12" stroke-dasharray="30 109" d="M843.4 469.1l26.4-13.4 8.4 43.7-26.4 0.8z"/>
<path class="m11" d="M869.8 455.7l8.4 43.7"/>
<path class="m12" stroke-dasharray="27 125" d="M635.5 461.1l26.4-6.4 8.4 37.4-26.4 17.5z"/>
<path class="m11" d="M661.9 454.7l8.4 37.4"/>
<path class="m9" stroke-dasharray="56 120" d="M678.8 541.5l26.4-48.6 8.4-28.3-26.4 67.7z"/>
<path class="m12" d="M705.2 492.9l8.4-28.3"/>
<path class="m5" stroke-dasharray="27 81" d="M973.1 639.9l26.4 4.9 8.4-28.9-26.4 8.7z"/>
<path class="m6" d="M999.5 644.7l8.4-28.9"/>
<path class="m11" stroke-dasharray="27 179" d="M722.1 490l26.4 1.2 8.4 66-26.4 10.7z"/>
<path class="m8" d="M748.4 491.2l8.4 66"/>
<path class="m15" stroke-dasharray="27 50" d="M471 407.6l26.4 2.7 8.4 3.8-26.4-3.6z"/>
<path class="m14" d="M497.3 410.3l8.4 3.8"/>
<path class="m15" d="M479.4 410.5l-8.4-3"/>
<path class="m7" stroke-dasharray="32 92" d="M1016.4 591.5l26.4 17.7 8.4-37.8-26.4 0.1z"/>
<path class="m8" d="M1042.8 609.2l8.4-37.8"/>
<path class="m13" stroke-dasharray="51 43" d="M514.2 447l26.4 10.9 8.4-20.7-26.4 2.7z"/>
<path class="m9" stroke-dasharray="38 116" d="M1059.7 540.7l26.4-26.4 8.4-34-26.4 18.2z"/>
<path class="m11" d="M1086 514.3l8.4-34"/>
<path class="m11" d="M1094.5 480.3l-26.4 18.2"/>
<path class="m9" stroke-dasharray="47 126" d="M808.6 535l26.4-38.2 8.4-27.7-26.4 1.8z"/>
<path class="m12" d="M834.9 496.8l8.4-27.7"/>
<path class="m13" stroke-dasharray="29 249" d="M557.5 452.5l26.4 12.3 8.4 77-26.4 33.6z"/>
<path class="m9" d="M583.8 464.8l8.4 77"/>
<path class="m11" stroke-dasharray="27 291" d="M851.8 500.3l26.4-0.8 8.4 128.8-26.4 1.9z"/>
<path class="m5" d="M878.2 499.5l8.4 128.8"/>
<path class="m10" stroke-dasharray="27 152" d="M600.7 522.5l26.4-5.2 8.4-56.3-26.4-1.3z"/>
<path class="m12" d="M627.1 517.4l8.4-56.3"/>
<path class="m10" stroke-dasharray="32 123" d="M644 509.6l26.4-17.5 8.4 49.3-26.4 7.5z"/>
<path class="m9" d="M670.4 492.1l8.4 49.3"/>
<path class="m5" stroke-dasharray="35 41" d="M938.3 637.5l26.4 3.1 8.4-0.7-26.4 0.1z"/>
<path class="m10" stroke-dasharray="73 97" d="M687.2 532.2l26.4-67.7 8.4 25.4-26.4 5z"/>
<path class="m11" d="M713.6 464.6l8.4 25.4"/>
<path class="m6" stroke-dasharray="28 83" d="M981.6 624.6l26.4-8.7 8.4-24.4-26.4 12.3z"/>
<path class="m7" d="M1008 615.9l8.4-24.4"/>
<path class="m15" stroke-dasharray="27 90" d="M479.4 410.5l26.4 3.6 8.4 32.9-26.4-23.9z"/>
<path class="m13" d="M505.8 414.1l8.4 32.9"/>
<path class="m14" d="M487.8 423.1l-8.4-12.6"/>
<path class="m8" stroke-dasharray="27 88" d="M1024.8 571.5l26.4-0.1 8.4-30.7-26.4 10.7z"/>
<path class="m9" d="M1051.2 571.4l8.4-30.7"/>
<path class="m13" stroke-dasharray="44 51" d="M522.7 439.9l26.4-2.7 8.4 15.3-26.4 3.8z"/>
<path class="m12" stroke-dasharray="27 111" d="M817 470.9l26.4-1.8 8.4 31.2-26.4 13.3z"/>
<path class="m11" d="M843.4 469.1l8.4 31.2"/>
<path class="m13" stroke-dasharray="27 217" d="M609.2 459.8l26.4 1.3 8.4 48.5-26.4 53.1z"/>
<path class="m10" d="M635.5 461.1l8.4 48.5"/>
<path class="m5" stroke-dasharray="27 64" d="M946.8 639.9l26.4-0.1 8.4-15.3-26.4 4.3z"/>
<path class="m6" d="M973.1 639.9l8.4-15.3"/>
<path class="m11" stroke-dasharray="27 176" d="M695.7 495l26.4-5 8.4 77.9-26.4-77.8z"/>
<path class="m8" d="M722.1 490l8.4 77.9"/>
<path class="m7" stroke-dasharray="29 75" d="M990 603.7l26.4-12.3 8.4-19.9-26.4 18.5z"/>
<path class="m8" d="M1016.4 591.5l8.4-19.9"/>
<path class="m14" stroke-dasharray="36 59" d="M487.8 423.1l26.4 23.9 8.4-7.1-26.4-2.6z"/>
<path class="m13" d="M514.2 447l8.4-7.1"/>
<path class="m14" d="M496.3 437.2l-8.4-14.1"/>
<path class="m9" stroke-dasharray="29 113" d="M1033.3 551.4l26.4-10.7 8.4-42.2-26.4 29.2z"/>
<path class="m11" d="M1059.7 540.7l8.4-42.2"/>
<path class="m10" d="M1068.1 498.6l-26.4 29.2"/>
<path class="m10" stroke-dasharray="27 154" d="M782.2 537.2l26.4-2.2 8.4-64.1-26.4 11.9z"/>
<path class="m12" d="M808.6 535l8.4-64.1"/>
<path class="m13" stroke-dasharray="27 309" d="M531.1 456.3l26.4-3.8 8.4 122.9-26.4 24.6z"/>
<path class="m8" d="M557.5 452.5l8.4 122.9"/>
<path class="m11" stroke-dasharray="30 279" d="M825.4 513.6l26.4-13.3 8.4 129.9-26.4-0.3z"/>
<path class="m6" d="M851.8 500.3l8.4 129.9"/>
<path class="m9" stroke-dasharray="100 46" d="M617.6 562.7l26.4-53.1 8.4 39.4-26.4 2.3z"/>
<path class="m10" stroke-dasharray="27 117" d="M660.9 535.2l26.4-3 8.4-37.2-26.4-5.5z"/>
<path class="m11" d="M687.2 532.2l8.4-37.2"/>
<path class="m6" stroke-dasharray="27 74" d="M955.2 628.9l26.4-4.3 8.4-20.9-26.4 9.2z"/>
<path class="m7" d="M981.6 624.6l8.4-20.9"/>
<path class="m12" stroke-dasharray="82 113" d="M704.1 490.1l26.4 77.8 8.4-10.5-26.4-0.3z"/>
<path class="m9" d="M730.5 567.9l8.4-10.5"/>
<path class="m7" stroke-dasharray="33 84" d="M998.5 590l26.4-18.5 8.4-20.1-26.4 11.6z"/>
<path class="m9" d="M1024.8 571.5l8.4-20.1"/>
<path class="m11" stroke-dasharray="48 87" d="M747.4 506.2l26.4 40 8.4-9.1-26.4-45.1z"/>
<path class="m10" d="M773.7 546.3l8.4-9.1"/>
<path class="m14" stroke-dasharray="27 64" d="M496.3 437.2l26.4 2.6 8.4 16.4-26.4-11.2z"/>
<path class="m13" d="M522.7 439.9l8.4 16.4"/>
<path class="m14" d="M504.7 445.1l-8.4-7.9"/>
<path class="m12" stroke-dasharray="29 98" d="M790.6 482.8l26.4-11.9 8.4 42.7-26.4-30.2z"/>
<path class="m11" d="M817 470.9l8.4 42.7"/>
<path class="m6" stroke-dasharray="27 53" d="M833.9 629.9l26.4 0.3 8.4 7.4-26.4-8.6z"/>
<path class="m5" d="M860.3 630.2l8.4 7.4"/>
<path class="m12" stroke-dasharray="36 249" d="M582.8 484.1l26.4-24.4 8.4 103-26.4 24.8z"/>
<path class="m9" d="M609.2 459.8l8.4 103"/>
<path class="m5" stroke-dasharray="27 62" d="M920.4 645.7l26.4-5.8 8.4-11-26.4 3.1z"/>
<path class="m6" d="M946.8 639.9l8.4-11"/>
<path class="m12" stroke-dasharray="37 54" d="M669.3 489.6l26.4 5.5 8.4-4.9-26.4 15.1z"/>
<path class="m7" stroke-dasharray="44 48" d="M963.7 613l26.4-9.2 8.4-13.7-26.4 12.2z"/>
<path class="m9" stroke-dasharray="29 82" d="M1006.9 563l26.4-11.6 8.4-23.6-26.4 16.5z"/>
<path class="m10" d="M1033.3 551.4l8.4-23.6"/>
<path class="m10" d="M1041.7 527.8l-26.4 16.5"/>
<path class="m12" stroke-dasharray="108 103" d="M755.8 492.1l26.4 45.1 8.4-54.4-26.4 49.4z"/>
<path class="m14" stroke-dasharray="29 351" d="M504.7 445.1l26.4 11.2 8.4 143.7-26.4 15.6z"/>
<path class="m7" d="M531.1 456.3l8.4 143.7"/>
<path class="m7" d="M513.2 615.6l-8.4-170.6"/>
<path class="m12" stroke-dasharray="40 285" d="M799.1 483.4l26.4 30.2 8.4 116.3-26.4-12.6z"/>
<path class="m6" d="M825.4 513.6l8.4 116.3"/>
<path class="m9" stroke-dasharray="28 152" d="M548 552.6l26.4-7.7 8.4-60.9-26.4 14.1z"/>
<path class="m12" d="M574.3 545l8.4-60.9"/>
<path class="m10" stroke-dasharray="27 116" d="M634.5 540.4l26.4-5.2 8.4-45.6-26.4 24.3z"/>
<path class="m12" d="M660.9 535.2l8.4-45.6"/>
<path class="m6" stroke-dasharray="27 71" d="M928.8 632l26.4-3.1 8.4-16-26.4-0.6z"/>
<path class="m7" d="M955.2 628.9l8.4-16"/>
<path class="m11" stroke-dasharray="31 168" d="M677.7 505.3l26.4-15.1 8.4 67-26.4 13.1z"/>
<path class="m9" d="M704.1 490.1l8.4 67"/>
<path class="m7" stroke-dasharray="29 88" d="M972.1 602.2l26.4-12.2 8.4-27-26.4 20.4z"/>
<path class="m9" d="M998.5 590l8.4-27"/>
<path class="m9" stroke-dasharray="54 115" d="M721 552.8l26.4-46.6 8.4-14.2-26.4-5.2z"/>
<path class="m12" d="M747.4 506.2l8.4-14.2"/>
<path class="m10" stroke-dasharray="56 81" d="M764.3 532.3l26.4-49.4 8.4 0.6-26.4 11.1z"/>
<path class="m12" d="M790.6 482.8l8.4 0.6"/>
<path class="m7" stroke-dasharray="31 130" d="M513.2 615.6l26.4-15.6 8.4-47.4-26.4 21.9z"/>
<path class="m9" d="M539.5 600l8.4-47.4"/>
<path class="m9" d="M521.6 574.6l-8.4 41"/>
<path class="m7" stroke-dasharray="30 53" d="M807.5 617.3l26.4 12.6 8.4-0.9-26.4-14.2z"/>
<path class="m6" d="M833.9 629.9l8.4-0.9"/>
<path class="m12" stroke-dasharray="30 256" d="M556.4 498.2l26.4-14.1 8.4 103.4-26.4 22.2z"/>
<path class="m8" d="M582.8 484.1l8.4 103.4"/>
<path class="m6" stroke-dasharray="36 50" d="M850.8 641.1l26.4-4.8 8.4 4.1-26.4-12.2z"/>
<path class="m6" stroke-dasharray="43 43" d="M894 643.5l26.4 2.2 8.4-13.7-26.4 4.7z"/>
<path class="m11" stroke-dasharray="54 143" d="M642.9 513.8l26.4-24.3 8.4 15.7-26.4 70.2z"/>
<path class="m7" stroke-dasharray="40 48" d="M937.3 612.4l26.4 0.6 8.4-10.7-26.4-2.9z"/>
<path class="m8" stroke-dasharray="34 78" d="M980.5 583.4l26.4-20.4 8.4-18.7-26.4 26.8z"/>
<path class="m10" d="M1006.9 563l8.4-18.7"/>
<path class="m9" d="M1015.3 544.3l-26.4 26.8"/>
<path class="m12" stroke-dasharray="27 119" d="M729.4 486.9l26.4 5.2 8.4 40.2-26.4 0.4z"/>
<path class="m10" d="M755.8 492.1l8.4 40.2"/>
<path class="m12" stroke-dasharray="29 282" d="M772.7 494.5l26.4-11.1 8.4 133.9-26.4-8.1z"/>
<path class="m7" d="M799.1 483.4l8.4 133.9"/>
<path class="m9" stroke-dasharray="35 159" d="M521.6 574.6l26.4-21.9 8.4-54.5-26.4 5z"/>
<path class="m12" d="M548 552.6l8.4-54.5"/>
<path class="m12" d="M530 503.1l-8.4 71.4"/>
<path class="m7" stroke-dasharray="30 78" d="M815.9 614.8l26.4 14.2 8.4 12.1-26.4-36.1z"/>
<path class="m6" d="M842.3 629l8.4 12.1"/>
<path class="m7" stroke-dasharray="35 82" d="M564.9 609.7l26.4-22.2 8.4-19.8-26.4 24.7z"/>
<path class="m9" d="M591.2 587.5l8.4-19.8"/>
<path class="m6" stroke-dasharray="38 44" d="M859.2 628.1l26.4 12.2 8.4 3.1-26.4-11.3z"/>
<path class="m9" stroke-dasharray="34 106" d="M608.1 562.1l26.4-21.7 8.4-26.5-26.4 3.1z"/>
<path class="m11" d="M634.5 540.4l8.4-26.5"/>
<path class="m6" stroke-dasharray="27 77" d="M902.5 636.7l26.4-4.7 8.4-19.6-26.4 2.2z"/>
<path class="m7" d="M928.8 632l8.4-19.6"/>
<path class="m9" stroke-dasharray="141 47" d="M651.4 575.5l26.4-70.2 8.4 65-26.4-5.9z"/>
<path class="m8" stroke-dasharray="48 55" d="M945.7 599.4l26.4 2.9 8.4-18.9-26.4-5.1z"/>
<path class="m10" stroke-dasharray="27 147" d="M694.6 550.9l26.4 2 8.4-65.9-26.4 61.1z"/>
<path class="m12" d="M721 552.8l8.4-65.9"/>
<path class="m10" stroke-dasharray="27 105" d="M737.9 532.7l26.4-0.4 8.4-37.7-26.4 5.6z"/>
<path class="m12" d="M764.3 532.3l8.4-37.7"/>
<path class="m7" stroke-dasharray="37 64" d="M781.1 609.2l26.4 8.1 8.4-2.6-26.4-25.4z"/>
<path class="m12" stroke-dasharray="27 303" d="M530 503.1l26.4-5 8.4 111.6-26.4 34.9z"/>
<path class="m7" d="M556.4 498.2l8.4 111.6"/>
<path class="m6" d="M538.5 644.7l-8.4-141.5"/>
<path class="m8" stroke-dasharray="45 65" d="M824.4 605l26.4 36.1 8.4-13-26.4-23.2z"/>
<path class="m6" d="M850.8 641.1l8.4-13"/>
<path class="m6" stroke-dasharray="40 55" d="M867.6 632.2l26.4 11.3 8.4-6.8-26.4-19z"/>
<path class="m11" stroke-dasharray="27 209" d="M616.5 517l26.4-3.1 8.4 61.6-26.4 36.9z"/>
<path class="m9" d="M642.9 513.8l8.4 61.6"/>
<path class="m7" stroke-dasharray="27 59" d="M910.9 614.6l26.4-2.2 8.4-13-26.4 10z"/>
<path class="m8" d="M937.3 612.4l8.4-13"/>
<path class="m9" stroke-dasharray="42 45" d="M954.2 578.3l26.4 5.1 8.4-12.2-26.4-3.2z"/>
<path class="m9" d="M989 571.1l-26.4-3.2"/>
<path class="m10" stroke-dasharray="113 47" d="M703.1 548l26.4-61.1 8.4 45.8-26.4 2.9z"/>
<path class="m12" stroke-dasharray="27 251" d="M746.3 500.1l26.4-5.6 8.4 114.7-26.4-5.7z"/>
<path class="m7" d="M772.7 494.5l8.4 114.7"/>
<path class="m8" stroke-dasharray="50 44" d="M789.6 589.4l26.4 25.4 8.4-9.8-26.4-14.7z"/>
<path class="m6" stroke-dasharray="44 88" d="M538.5 644.7l26.4-34.9 8.4-17.2-26.4 30.5z"/>
<path class="m8" d="M564.9 609.7l8.4-17.2"/>
<path class="m7" d="M546.9 623.1l-8.4 21.6"/>
<path class="m8" stroke-dasharray="35 65" d="M832.8 604.8l26.4 23.2 8.4 4.1-26.4-31.6z"/>
<path class="m6" d="M859.2 628.1l8.4 4.1"/>
<path class="m7" stroke-dasharray="56 44" d="M876.1 617.7l26.4 19 8.4-22.1-26.4-4.7z"/>
<path class="m8" stroke-dasharray="28 79" d="M919.3 609.3l26.4-10 8.4-21.1-26.4 9.5z"/>
<path class="m9" d="M945.7 599.4l8.4-21.1"/>
<path class="m11" stroke-dasharray="27 97" d="M711.5 535.6l26.4-2.9 8.4-32.6-26.4 5.2z"/>
<path class="m12" d="M737.9 532.7l8.4-32.6"/>
<path class="m8" stroke-dasharray="49 50" d="M754.8 603.5l26.4 5.7 8.4-19.9-26.4-1.5z"/>
<path class="m8" stroke-dasharray="39 48" d="M798 590.3l26.4 14.7 8.4-0.1-26.4-19.6z"/>
<path class="m7" stroke-dasharray="41 70" d="M546.9 623.1l26.4-30.5 8.4-4.5-26.4 9.4z"/>
<path class="m8" d="M573.3 592.5l8.4-4.5"/>
<path class="m8" d="M555.4 597.4l-8.4 25.6"/>
<path class="m8" stroke-dasharray="41 75" d="M841.3 600.6l26.4 31.6 8.4-14.5-26.4-28z"/>
<path class="m7" d="M867.6 632.2l8.4-14.5"/>
<path class="m11" stroke-dasharray="35 244" d="M590.2 540l26.4-23 8.4 95.4-26.4 30z"/>
<path class="m7" d="M616.5 517l8.4 95.4"/>
<path class="m8" stroke-dasharray="37 43" d="M884.5 609.9l26.4 4.7 8.4-5.3-26.4-6.2z"/>
<path class="m9" stroke-dasharray="42 50" d="M927.8 587.7l26.4-9.5 8.4-10.4-26.4 4.7z"/>
<path class="m9" d="M962.6 567.9l-26.4 4.7"/>
<path class="m12" stroke-dasharray="27 224" d="M719.9 505.3l26.4-5.2 8.4 103.4-26.4-12.7z"/>
<path class="m8" d="M746.3 500.1l8.4 103.4"/>
<path class="m9" stroke-dasharray="27 67" d="M763.2 587.9l26.4 1.5 8.4 1-26.4-20.6z"/>
<path class="m8" d="M789.6 589.4l8.4 1"/>
<path class="m9" stroke-dasharray="33 62" d="M806.5 585.3l26.4 19.6 8.4-4.2-26.4-23.6z"/>
<path class="m8" d="M832.8 604.8l8.4-4.2"/>
<path class="m8" stroke-dasharray="28 130" d="M555.4 597.4l26.4-9.4 8.4-48-26.4 10.5z"/>
<path class="m11" d="M581.7 588l8.4-48"/>
<path class="m10" d="M563.8 550.5l-8.4 46.9"/>
<path class="m9" stroke-dasharray="39 60" d="M849.7 589.7l26.4 28 8.4-7.7-26.4-22.2z"/>
<path class="m8" d="M876.1 617.7l8.4-7.7"/>
<path class="m6" stroke-dasharray="40 76" d="M598.6 642.4l26.4-30 8.4-12.7-26.4 32.8z"/>
<path class="m8" d="M625 612.4l8.4-12.7"/>
<path class="m8" stroke-dasharray="27 73" d="M893 603.1l26.4 6.2 8.4-21.6-26.4-0.8z"/>
<path class="m9" d="M919.3 609.3l8.4-21.6"/>
<path class="m11" stroke-dasharray="27 88" d="M685.1 538.8l26.4-3.2 8.4-30.3-26.4 14.8z"/>
<path class="m12" d="M711.5 535.6l8.4-30.3"/>
<path class="m9" stroke-dasharray="47 48" d="M728.4 590.8l26.4 12.7 8.4-15.7-26.4-8.8z"/>
<path class="m10" stroke-dasharray="34 63" d="M771.6 569.7l26.4 20.6 8.4-5.1-26.4-24.2z"/>
<path class="m9" d="M798 590.3l8.4-5.1"/>
<path class="m9" stroke-dasharray="50 43" d="M814.9 577l26.4 23.6 8.4-10.9-26.4-8.9z"/>
<path class="m10" stroke-dasharray="29 283" d="M563.8 550.5l26.4-10.5 8.4 102.4-26.4 37.3z"/>
<path class="m6" d="M590.2 540l8.4 102.4"/>
<path class="m5" d="M572.2 679.6l-8.4-129.1"/>
<path class="m9" stroke-dasharray="35 64" d="M858.1 587.8l26.4 22.2 8.4-6.8-26.4-23.9z"/>
<path class="m8" d="M884.5 609.9l8.4-6.8"/>
<path class="m7" stroke-dasharray="42 73" d="M607.1 632.5l26.4-32.8 8.4-8.7-26.4 23.9z"/>
<path class="m9" d="M633.4 599.7l8.4-8.7"/>
<path class="m9" stroke-dasharray="44 44" d="M901.4 586.9l26.4 0.8 8.4-15.2-26.4 6.6z"/>
<path class="m9" d="M936.2 572.6l-26.4 6.6"/>
<path class="m12" stroke-dasharray="31 212" d="M693.6 520.1l26.4-14.8 8.4 85.5-26.4 17.8z"/>
<path class="m9" d="M719.9 505.3l8.4 85.5"/>
<path class="m9" stroke-dasharray="28 73" d="M736.8 579.1l26.4 8.8 8.4-18.2-26.4-8.5z"/>
<path class="m10" d="M763.2 587.9l8.4-18.2"/>
<path class="m10" stroke-dasharray="36 59" d="M780.1 561.1l26.4 24.2 8.4-8.3-26.4-19.4z"/>
<path class="m9" d="M806.5 585.3l8.4-8.3"/>
<path class="m9" stroke-dasharray="37 55" d="M823.3 580.7l26.4 8.9 8.4-1.9-26.4-20.6z"/>
<path class="m5" stroke-dasharray="46 77" d="M572.2 679.6l26.4-37.3 8.4-9.9-26.4 32z"/>
<path class="m7" d="M598.6 642.4l8.4-9.9"/>
<path class="m6" d="M580.7 664.5l-8.4 15.1"/>
<path class="m9" stroke-dasharray="54 49" d="M866.6 579.2l26.4 23.9 8.4-16.2-26.4-16.7z"/>
<path class="m10" stroke-dasharray="36 84" d="M658.7 563.4l26.4-24.6 8.4-18.7-26.4 18.8z"/>
<path class="m12" d="M685.1 538.8l8.4-18.7"/>
<path class="m8" stroke-dasharray="32 66" d="M702 608.6l26.4-17.8 8.4-11.8-26.4 23.6z"/>
<path class="m9" d="M728.4 590.8l8.4-11.8"/>
<path class="m10" stroke-dasharray="40 41" d="M745.3 561.2l26.4 8.5 8.4-8.6-26.4-2.2z"/>
<path class="m10" stroke-dasharray="33 61" d="M788.5 557.6l26.4 19.4 8.4 3.7-26.4-26.6z"/>
<path class="m9" d="M814.9 577l8.4 3.7"/>
<path class="m10" stroke-dasharray="34 55" d="M831.8 567.2l26.4 20.6 8.4-8.6-26.4-12.5z"/>
<path class="m9" d="M858.1 587.8l8.4-8.6"/>
<path class="m6" stroke-dasharray="42 87" d="M580.7 664.5l26.4-32 8.4-17.6-26.4 29.1z"/>
<path class="m8" d="M607.1 632.5l8.4-17.6"/>
<path class="m7" d="M589.1 644l-8.4 20.6"/>
<path class="m10" stroke-dasharray="32 53" d="M875 570.2l26.4 16.7 8.4-7.8-26.4-4.6z"/>
<path class="m9" d="M901.4 586.9l8.4-7.8"/>
<path class="m10" d="M909.8 579.1l-26.4-4.6"/>
<path class="m11" stroke-dasharray="33 239" d="M667.2 539l26.4-18.8 8.4 88.5-26.4 32.9z"/>
<path class="m8" d="M693.6 520.1l8.4 88.5"/>
<path class="m9" stroke-dasharray="36 81" d="M710.4 602.7l26.4-23.6 8.4-17.9-26.4 20.1z"/>
<path class="m10" d="M736.8 579.1l8.4-17.9"/>
<path class="m10" stroke-dasharray="36 42" d="M753.7 558.9l26.4 2.2 8.4-3.4-26.4-3.9z"/>
<path class="m11" stroke-dasharray="38 62" d="M797 554.1l26.4 26.6 8.4-13.5-26.4-16.4z"/>
<path class="m10" d="M823.3 580.7l8.4-13.5"/>
<path class="m10" stroke-dasharray="42 45" d="M840.2 566.7l26.4 12.5 8.4-9-26.4-10.3z"/>
<path class="m7" stroke-dasharray="40 68" d="M589.1 644l26.4-29.1 8.4-7.7-26.4 25.1z"/>
<path class="m8" d="M615.5 614.9l8.4-7.7"/>
<path class="m8" d="M597.6 632.3l-8.4 11.7"/>
<path class="m10" stroke-dasharray="31 90" d="M632.4 579l26.4-15.6 8.4-24.5-26.4 11.1z"/>
<path class="m11" d="M658.7 563.4l8.4-24.5"/>
<path class="m7" stroke-dasharray="42 73" d="M675.6 641.5l26.4-32.9 8.4-5.9-26.4 11.4z"/>
<path class="m9" d="M702 608.6l8.4-5.9"/>
<path class="m11" stroke-dasharray="36 40" d="M762.1 553.8l26.4 3.9 8.4-3.5-26.4-0.3z"/>
<path class="m11" stroke-dasharray="31 54" d="M805.4 550.8l26.4 16.4 8.4-0.5-26.4-17.5z"/>
<path class="m10" d="M831.8 567.2l8.4-0.5"/>
<path class="m11" stroke-dasharray="29 58" d="M848.7 559.9l26.4 10.3 8.4 4.3-26.4-19.6z"/>
<path class="m10" d="M875 570.2l8.4 4.3"/>
<path class="m11" d="M883.5 574.5l-26.4-19.6"/>
<path class="m8" stroke-dasharray="37 100" d="M597.6 632.3l26.4-25.1 8.4-28.1-26.4 28.7z"/>
<path class="m10" d="M623.9 607.1l8.4-28.1"/>
<path class="m9" d="M606 607.8l-8.4 24.5"/>
<path class="m11" stroke-dasharray="29 270" d="M640.8 550l26.4-11.1 8.4 102.6-26.4 29.9z"/>
<path class="m7" d="M667.2 539l8.4 102.6"/>
<path class="m8" stroke-dasharray="29 79" d="M684.1 614.1l26.4-11.4 8.4-21.4-26.4 13.1z"/>
<path class="m10" d="M710.4 602.7l8.4-21.4"/>
<path class="m10" stroke-dasharray="30 56" d="M727.3 572.4l26.4-13.6 8.4-5.1-26.4 9.2z"/>
<path class="m11" d="M753.7 558.9l8.4-5.1"/>
<path class="m11" stroke-dasharray="36 42" d="M770.6 553.8l26.4 0.3 8.4-3.3-26.4-3z"/>
<path class="m11" stroke-dasharray="43 44" d="M813.8 549.2l26.4 17.5 8.4-6.9-26.4-13.9z"/>
<path class="m9" stroke-dasharray="39 107" d="M606 607.8l26.4-28.7 8.4-29-26.4 21.1z"/>
<path class="m11" d="M632.4 579l8.4-29"/>
<path class="m11" d="M614.4 571.1l-8.4 36.6"/>
<path class="m6" stroke-dasharray="40 102" d="M649.3 671.4l26.4-29.9 8.4-27.4-26.4 36z"/>
<path class="m8" d="M675.6 641.5l8.4-27.4"/>
<path class="m11" stroke-dasharray="37 42" d="M735.8 563l26.4-9.2 8.4 0-26.4 8.7z"/>
<path class="m11" stroke-dasharray="35 42" d="M779 547.8l26.4 3 8.4-1.6-26.4 3.5z"/>
<path class="m12" stroke-dasharray="30 56" d="M822.3 545.9l26.4 13.9 8.4-5-26.4 2.5z"/>
<path class="m11" d="M848.7 559.9l8.4-5"/>
<path class="m11" d="M857.1 554.9l-26.4 2.5"/>
<path class="m11" stroke-dasharray="34 314" d="M614.4 571.1l26.4-21.1 8.4 121.4-26.4 38.9z"/>
<path class="m6" d="M640.8 550l8.4 121.4"/>
<path class="m5" d="M622.9 710.3l-8.4-139.2"/>
<path class="m7" stroke-dasharray="45 93" d="M657.7 650.1l26.4-36 8.4-19.8-26.4 38z"/>
<path class="m9" d="M684.1 614.1l8.4-19.8"/>
<path class="m10" stroke-dasharray="36 68" d="M700.9 596.5l26.4-24 8.4-9.5-26.4 18.1z"/>
<path class="m11" d="M727.3 572.4l8.4-9.5"/>
<path class="m11" stroke-dasharray="38 44" d="M744.2 562.5l26.4-8.7 8.4-6-26.4 7.4z"/>
<path class="m11" stroke-dasharray="27 50" d="M787.5 552.7l26.4-3.5 8.4-3.3-26.4 5.4z"/>
<path class="m12" d="M813.8 549.2l8.4-3.3"/>
<path class="m5" stroke-dasharray="47 100" d="M622.9 710.3l26.4-38.9 8.4-21.3-26.4 26.8z"/>
<path class="m7" d="M649.3 671.4l8.4-21.3"/>
<path class="m6" d="M631.3 677l-8.4 33.4"/>
<path class="m8" stroke-dasharray="47 68" d="M666.1 632.4l26.4-38 8.4 2.1-26.4 13z"/>
<path class="m10" d="M692.5 594.4l8.4 2.1"/>
<path class="m10" stroke-dasharray="32 55" d="M709.4 581.1l26.4-18.1 8.4-0.5-26.4 8.1z"/>
<path class="m11" d="M735.8 563l8.4-0.5"/>
<path class="m11" stroke-dasharray="37 41" d="M752.6 555.2l26.4-7.4 8.4 5-26.4 3z"/>
<path class="m12" stroke-dasharray="27 56" d="M795.9 551.3l26.4-5.4 8.4 11.4-26.4-1.2z"/>
<path class="m11" d="M822.3 545.9l8.4 11.4"/>
<path class="m12" d="M830.7 557.4l-26.4-1.2"/>
<path class="m6" stroke-dasharray="38 83" d="M631.3 677l26.4-26.8 8.4-17.8-26.4 26z"/>
<path class="m8" d="M657.7 650.1l8.4-17.8"/>
<path class="m7" d="M639.8 658.4l-8.4 18.6"/>
<path class="m11" stroke-dasharray="39 48" d="M717.8 570.7l26.4-8.1 8.4-7.3-26.4 19.9z"/>
<path class="m12" stroke-dasharray="35 41" d="M761.1 555.7l26.4-3 8.4-1.4-26.4 0z"/>
<path class="m7" stroke-dasharray="37 92" d="M639.8 658.4l26.4-26 8.4-22.9-26.4 22.5z"/>
<path class="m9" d="M666.1 632.4l8.4-22.9"/>
<path class="m9" d="M648.2 632l-8.4 26.4"/>
<path class="m10" stroke-dasharray="33 65" d="M683 600.4l26.4-19.3 8.4-10.4-26.4 21.4z"/>
<path class="m11" d="M709.4 581.1l8.4-10.4"/>
<path class="m11" stroke-dasharray="33 61" d="M726.3 575.1l26.4-19.9 8.4 0.5-26.4 25.3z"/>
<path class="m12" d="M752.6 555.2l8.4 0.5"/>
<path class="m12" stroke-dasharray="36 42" d="M769.5 551.3l26.4 0 8.4 4.8-26.4-0.1z"/>
<path class="m12" d="M804.3 556.2l-26.4-0.1"/>
<path class="m9" stroke-dasharray="35 65" d="M648.2 632l26.4-22.5 8.4-9.1-26.4 24.4z"/>
<path class="m10" d="M674.6 609.4l8.4-9.1"/>
<path class="m9" d="M656.6 624.8l-8.4 7.2"/>
<path class="m10" stroke-dasharray="34 55" d="M691.5 592.1l26.4-21.4 8.4 4.5-26.4 16.7z"/>
<path class="m11" d="M717.8 570.7l8.4 4.5"/>
<path class="m11" stroke-dasharray="37 63" d="M734.7 581.1l26.4-25.3 8.4-4.4-26.4 29.4z"/>
<path class="m12" d="M761.1 555.7l8.4-4.4"/>
<path class="m9" stroke-dasharray="36 65" d="M656.6 624.8l26.4-24.4 8.4-8.3-26.4 23.9z"/>
<path class="m10" d="M683 600.4l8.4-8.3"/>
<path class="m10" d="M665.1 616l-8.4 8.8"/>
<path class="m10" stroke-dasharray="32 54" d="M699.9 591.8l26.4-16.7 8.4 5.9-26.4 12.9z"/>
<path class="m11" d="M726.3 575.1l8.4 5.9"/>
<path class="m11" stroke-dasharray="40 58" d="M743.1 580.7l26.4-29.4 8.4 4.7-26.4 17.3z"/>
<path class="m12" d="M769.5 551.3l8.4 4.7"/>
<path class="m11" d="M778 556l-26.4 17.3"/>
<path class="m10" stroke-dasharray="44 48" d="M665.1 616l26.4-23.9 8.4-0.3-26.4 20.9z"/>
<path class="m10" d="M673.5 612.7l-8.4 3.2"/>
<path class="m11" stroke-dasharray="38 44" d="M708.3 594l26.4-12.9 8.4-0.3-26.4 13.5z"/>
<path class="m10" stroke-dasharray="34 54" d="M673.5 612.7l26.4-20.9 8.4 2.2-26.4 16.9z"/>
<path class="m11" d="M699.9 591.8l8.4 2.2"/>
<path class="m10" d="M682 610.8l-8.4 1.9"/>
<path class="m11" stroke-dasharray="41 46" d="M716.8 594.2l26.4-13.5 8.4-7.3-26.4 14.6z"/>
<path class="m11" d="M751.6 573.4l-26.4 14.6"/>
<path class="m10" stroke-dasharray="32 55" d="M682 610.8l26.4-16.9 8.4 0.3-26.4 19.1z"/>
<path class="m11" d="M708.3 594l8.4 0.3"/>
<path class="m10" d="M690.4 613.3l-8.4-2.5"/>
<path class="m10" stroke-dasharray="33 60" d="M690.4 613.3l26.4-19.1 8.4-6.3-26.4 22.4z"/>
<path class="m11" d="M716.8 594.2l8.4-6.3"/>
<path class="m10" d="M698.8 610.3l-8.4 3"/>
<path class="m10" d="M725.2 587.9l-26.4 22.4"/>
</g>
<path class="a" d="M174.5 716.9L174.5 211.5"/>
<path class="a" d="M680.9 948.1L174.5 716.9"/>
<path class="a" d="M680.9 948.1L1340.3 770"/>
<path class="a" d="M174.5 716.9L158.1 709.4"/>
<path class="a" d="M174.5 615.8L158.1 608.3"/>
<path class="a" d="M174.5 514.7L158.1 507.3"/>
<path class="a" d="M174.5 413.7L158.1 406.2"/>
<path class="a" d="M174.5 312.6L158.1 305.1"/>
<path class="a" d="M174.5 211.5L158.1 204"/>
<path class="a" d="M680.9 948.1L663.5 952.8"/>
<path class="a" d="M512.1 871L494.7 875.7"/>
<path class="a" d="M343.3 794L325.9 798.7"/>
<path class="a" d="M174.5 716.9L157.1 721.6"/>
<path class="a" d="M680.9 948.1L697.3 955.6"/>
<path class="a" d="M812.8 912.5L829.2 920"/>
<path class="a" d="M944.7 876.9L961 884.3"/>
<path class="a" d="M1076.5 841.2L1092.9 848.7"/>
<path class="a" d="M1208.4 805.6L1224.8 813.1"/>
<path class="a" d="M1340.3 770L1356.7 777.5"/>
<text class="t" x="145" y="718.8" text-anchor="end">0.92</text>
<text class="t" x="145" y="617.7" text-anchor="end">0.94</text>
<text class="t" x="145" y="516.6" text-anchor="end">0.96</text>
<text class="t" x="145" y="415.6" text-anchor="end">0.98</text>
<text class="t" x="145" y="314.5" text-anchor="end">1</text>
<text class="t" x="145" y="213.4" text-anchor="end">1.02</text>
<text class="t" x="649.1" y="993.5" text-anchor="end">0</text>
<text class="t" x="480.3" y="916.4" text-anchor="end">20</text>
<text class="t" x="311.5" y="839.4" text-anchor="end">40</text>
<text class="t" x="142.7" y="762.3" text-anchor="end">60</text>
<text class="t" x="709.4" y="998.3">0</text>
<text class="t" x="841.3" y="962.7">5</text>
<text class="t" x="974.2" y="927.1">10</text>
<text class="t" x="1106" y="891.4">15</text>
<text class="t" x="1237.9" y="855.8">20</text>
<text class="t" x="1369.8" y="820.2">25</text>
<text class="s" x="273.4" y="998.3">Node number</text>
<text class="s" x="1017.3" y="1012" text-anchor="middle">h</text>
<text class="s" transform="translate(46 462.6) rotate(-90)" text-anchor="middle">pu</text>
<text class="c" x="727.3" y="1156.4" text-anchor="middle">Unconfigured</text>
<text class="c" x="725.9" y="1206.2" text-anchor="middle">energy storage</text>
</g>
<g>
<path class="g" d="M818.8 2195.7L312.6 1963.5"/>
<path class="g" d="M950.7 2160.1L444.5 1927.9"/>
<path class="g" d="M1082.5 2124.4L576.3 1892.2"/>
<path class="g" d="M1214.4 2088.8L708.2 1856.6"/>
<path class="g" d="M518.3 2154L1177.5 1975.7"/>
<path class="g" d="M349.5 2076.6L1008.7 1898.3"/>
<path class="g" d="M180.8 1999.2L840 1820.9"/>
<path class="g" d="M1346.2 2053.1L840 1820.9"/>
<path class="g" d="M312.6 1963.5L312.6 1458.7"/>
<path class="g" d="M444.5 1927.9L444.5 1423.1"/>
<path class="g" d="M576.3 1892.2L576.3 1387.4"/>
<path class="g" d="M708.2 1856.6L708.2 1351.8"/>
<path class="g" d="M840 1820.9L840 1316.1"/>
<path class="g" d="M180.8 1999.2L840 1820.9"/>
<path class="g" d="M180.8 1915.1L840 1736.8"/>
<path class="g" d="M180.8 1830.9L840 1652.6"/>
<path class="g" d="M180.8 1746.8L840 1568.5"/>
<path class="g" d="M180.8 1662.7L840 1484.4"/>
<path class="g" d="M180.8 1578.5L840 1400.2"/>
<path class="g" d="M180.8 1494.4L840 1316.1"/>
<path class="g" d="M1346.2 2053.1L1346.2 1548.3"/>
<path class="g" d="M1177.5 1975.7L1177.5 1470.9"/>
<path class="g" d="M1008.7 1898.3L1008.7 1393.5"/>
<path class="g" d="M1346.2 2053.1L840 1820.9"/>
<path class="g" d="M1346.2 1969L840 1736.8"/>
<path class="g" d="M1346.2 1884.8L840 1652.6"/>
<path class="g" d="M1346.2 1800.7L840 1568.5"/>
<path class="g" d="M1346.2 1716.6L840 1484.4"/>
<path class="g" d="M1346.2 1632.4L840 1400.2"/>
<path class="g" d="M1346.2 1548.3L840 1316.1"/>
<g filter="url(#bl)">
<path class="m14" stroke-dasharray="37 42" d="M837.9 1437.7l26.4-7.1 8.4 3.9-26.4 7.1z"/>
<path class="m14" stroke-dasharray="37 42" d="M846.3 1441.6l26.4-7.1 8.4 3.9-26.4 7.1z"/>
<path class="m14" stroke-dasharray="37 42" d="M811.5 1444.8l26.4-7.1 8.4 3.9-26.4 7.1z"/>
<path class="m14" stroke-dasharray="37 42" d="M854.8 1445.5l26.4-7.1 8.4 3.9-26.4 7.1z"/>
<path class="m14" stroke-dasharray="37 42" d="M820 1448.7l26.4-7.1 8.4 3.9-26.4 7.1z"/>
<path class="m14" stroke-dasharray="28 662" d="M863.2 1449.3l26.4-7.1 8.4 305.8-26.4 19.2z"/>
<path class="m4" d="M889.6 1442.2l8.4 305.8"/>
<path class="m14" stroke-dasharray="37 42" d="M785.1 1452l26.4-7.1 8.4 3.9-26.4 7.1z"/>
<path class="m14" stroke-dasharray="37 42" d="M828.4 1452.6l26.4-7.1 8.4 3.9-26.4 7.1z"/>
<path class="m14" stroke-dasharray="37 42" d="M793.6 1455.9l26.4-7.1 8.4 3.9-26.4 7.1z"/>
<path class="m14" stroke-dasharray="28 679" d="M836.8 1456.5l26.4-7.1 8.4 317.9-26.4 14.4z"/>
<path class="m3" d="M863.2 1449.3l8.4 317.9"/>
<path class="m14" stroke-dasharray="37 42" d="M758.8 1459.1l26.4-7.1 8.4 3.9-26.4 7.1z"/>
<path class="m14" stroke-dasharray="37 42" d="M802 1459.7l26.4-7.1 8.4 3.9-26.4 7.1z"/>
<path class="m14" stroke-dasharray="37 42" d="M767.2 1463l26.4-7.1 8.4 3.9-26.4 7.1z"/>
<path class="m14" stroke-dasharray="28 680" d="M810.5 1463.6l26.4-7.1 8.4 325.1-26.4 4.4z"/>
<path class="m3" d="M836.8 1456.5l8.4 325.1"/>
<path class="m14" stroke-dasharray="37 42" d="M732.4 1466.2l26.4-7.1 8.4 3.9-26.4 7.1z"/>
<path class="m14" stroke-dasharray="37 42" d="M775.7 1466.9l26.4-7.1 8.4 3.9-26.4 7.1z"/>
<path class="m14" stroke-dasharray="37 42" d="M740.8 1470.1l26.4-7.1 8.4 3.9-26.4 7.1z"/>
<path class="m14" stroke-dasharray="28 685" d="M784.1 1470.7l26.4-7.1 8.4 322.4-26.4 12.7z"/>
<path class="m3" d="M810.5 1463.6l8.4 322.4"/>
<path class="m14" stroke-dasharray="37 42" d="M706 1473.4l26.4-7.1 8.4 3.9-26.4 7.1z"/>
<path class="m14" stroke-dasharray="37 42" d="M749.3 1474l26.4-7.1 8.4 3.9-26.4 7.1z"/>
<path class="m14" stroke-dasharray="37 42" d="M714.5 1477.2l26.4-7.1 8.4 3.9-26.4 7.1z"/>
<path class="m14" stroke-dasharray="28 690" d="M757.7 1477.9l26.4-7.1 8.4 327.9-26.4 8.4z"/>
<path class="m3" d="M784.1 1470.7l8.4 327.9"/>
<path class="m14" stroke-dasharray="37 42" d="M679.7 1480.5l26.4-7.1 8.4 3.9-26.4 7.1z"/>
<path class="m14" stroke-dasharray="37 42" d="M722.9 1481.1l26.4-7.1 8.4 3.9-26.4 7.1z"/>
<path class="m14" stroke-dasharray="37 42" d="M688.1 1484.4l26.4-7.1 8.4 3.9-26.4 7.1z"/>
<path class="m14" stroke-dasharray="28 693" d="M731.4 1485l26.4-7.1 8.4 329.2-26.4 8.5z"/>
<path class="m3" d="M757.7 1477.9l8.4 329.2"/>
<path class="m14" stroke-dasharray="37 42" d="M653.3 1487.6l26.4-7.1 8.4 3.9-26.4 7.1z"/>
<path class="m14" stroke-dasharray="37 42" d="M696.5 1488.2l26.4-7.1 8.4 3.9-26.4 7.1z"/>
<path class="m14" stroke-dasharray="37 42" d="M661.7 1491.5l26.4-7.1 8.4 3.9-26.4 7.1z"/>
<path class="m14" stroke-dasharray="28 683" d="M705 1492.1l26.4-7.1 8.4 330.6-26.4-2.8z"/>
<path class="m3" d="M731.4 1485l8.4 330.6"/>
<path class="m14" stroke-dasharray="37 42" d="M626.9 1494.8l26.4-7.1 8.4 3.9-26.4 7.1z"/>
<path class="m14" stroke-dasharray="37 42" d="M670.2 1495.4l26.4-7.1 8.4 3.9-26.4 7.1z"/>
<path class="m14" stroke-dasharray="37 42" d="M635.4 1498.6l26.4-7.1 8.4 3.9-26.4 7.1z"/>
<path class="m14" stroke-dasharray="28 666" d="M678.6 1499.3l26.4-7.1 8.4 320.6-26.4-0.7z"/>
<path class="m3" d="M705 1492.1l8.4 320.6"/>
<path class="m14" stroke-dasharray="37 42" d="M600.6 1501.9l26.4-7.1 8.4 3.9-26.4 7.1z"/>
<path class="m14" stroke-dasharray="37 42" d="M643.8 1502.5l26.4-7.1 8.4 3.9-26.4 7.1z"/>
<path class="m14" stroke-dasharray="37 42" d="M609 1505.8l26.4-7.1 8.4 3.9-26.4 7.1z"/>
<path class="m14" stroke-dasharray="28 660" d="M652.2 1506.4l26.4-7.1 8.4 312.8-26.4 8.1z"/>
<path class="m4" d="M678.6 1499.3l8.4 312.8"/>
<path class="m14" stroke-dasharray="37 42" d="M574.2 1509l26.4-7.1 8.4 3.9-26.4 7.1z"/>
<path class="m14" stroke-dasharray="37 42" d="M617.4 1509.6l26.4-7.1 8.4 3.9-26.4 7.1z"/>
<path class="m14" stroke-dasharray="37 42" d="M582.6 1512.9l26.4-7.1 8.4 3.9-26.4 7.1z"/>
<path class="m14" stroke-dasharray="28 682" d="M625.9 1513.5l26.4-7.1 8.4 313.8-26.4 21.5z"/>
<path class="m3" d="M652.2 1506.4l8.4 313.8"/>
<path class="m14" stroke-dasharray="37 42" d="M547.8 1516.2l26.4-7.1 8.4 3.9-26.4 7.1z"/>
<path class="m14" stroke-dasharray="37 42" d="M591.1 1516.8l26.4-7.1 8.4 3.9-26.4 7.1z"/>
<path class="m14" stroke-dasharray="37 42" d="M556.3 1520l26.4-7.1 8.4 3.9-26.4 7.1z"/>
<path class="m14" stroke-dasharray="28 692" d="M599.5 1520.6l26.4-7.1 8.4 328.1-26.4 9.1z"/>
<path class="m3" d="M625.9 1513.5l8.4 328.1"/>
<path class="m14" stroke-dasharray="37 42" d="M521.5 1523.3l26.4-7.1 8.4 3.9-26.4 7.1z"/>
<path class="m14" stroke-dasharray="37 42" d="M564.7 1523.9l26.4-7.1 8.4 3.9-26.4 7.1z"/>
<path class="m14" stroke-dasharray="37 42" d="M529.9 1527.2l26.4-7.1 8.4 3.9-26.4 7.1z"/>
<path class="m14" stroke-dasharray="28 691" d="M573.1 1527.8l26.4-7.1 8.4 330.1-26.4 5.2z"/>
<path class="m3" d="M599.5 1520.6l8.4 330.1"/>
<path class="m14" stroke-dasharray="37 42" d="M495.1 1530.4l26.4-7.1 8.4 3.9-26.4 7.1z"/>
<path class="m5" stroke-dasharray="33 463" d="M1040.4 1792.1l26.4-19.4 8.4-211.7-26.4 15.9z"/>
<path class="m13" d="M1066.7 1772.7l8.4-211.7"/>
<path class="m14" stroke-dasharray="37 42" d="M538.3 1531l26.4-7.1 8.4 3.9-26.4 7.1z"/>
<path class="m14" stroke-dasharray="37 42" d="M503.5 1534.3l26.4-7.1 8.4 3.9-26.4 7.1z"/>
<path class="m12" stroke-dasharray="53 42" d="M1048.8 1576.9l26.4-15.9 8.4 20.3-26.4 0.9z"/>
<path class="m14" stroke-dasharray="28 685" d="M546.8 1534.9l26.4-7.1 8.4 328.2-26.4 3.1z"/>
<path class="m3" d="M573.1 1527.8l8.4 328.2"/>
<path class="m14" stroke-dasharray="37 42" d="M468.7 1537.6l26.4-7.1 8.4 3.9-26.4 7.1z"/>
<path class="m5" stroke-dasharray="30 471" d="M1014 1806.7l26.4-14.6 8.4-215.1-26.4 6.4z"/>
<path class="m12" d="M1040.4 1792.1l8.4-215.1"/>
<path class="m14" stroke-dasharray="37 42" d="M512 1538.2l26.4-7.1 8.4 3.9-26.4 7.1z"/>
<path class="m12" stroke-dasharray="47 49" d="M1057.2 1582.2l26.4-0.9 8.4 18.4-26.4-2.9z"/>
<path class="m14" stroke-dasharray="37 42" d="M477.2 1541.4l26.4-7.1 8.4 3.9-26.4 7.1z"/>
<path class="m12" stroke-dasharray="37 45" d="M1022.4 1583.3l26.4-6.4 8.4 5.3-26.4 8.7z"/>
<path class="m14" stroke-dasharray="28 683" d="M520.4 1542l26.4-7.1 8.4 324.1-26.4 8.1z"/>
<path class="m3" d="M546.8 1534.9l8.4 324.1"/>
<path class="m12" stroke-dasharray="36 52" d="M1065.7 1596.9l26.4 2.9 8.4 4-26.4 9.4z"/>
<path class="m14" stroke-dasharray="37 42" d="M442.4 1544.7l26.4-7.1 8.4 3.9-26.4 7.1z"/>
<path class="m4" stroke-dasharray="33 488" d="M987.6 1825.8l26.4-19.1 8.4-223.3-26.4 12.7z"/>
<path class="m12" d="M1014 1806.7l8.4-223.3"/>
<path class="m14" stroke-dasharray="37 42" d="M485.6 1545.3l26.4-7.1 8.4 3.9-26.4 7.1z"/>
<path class="m12" stroke-dasharray="45 56" d="M1030.9 1590.9l26.4-8.7 8.4 14.7-26.4 13.3z"/>
<path class="m11" stroke-dasharray="48 50" d="M1074.1 1613.1l26.4-9.4 8.4 18.2-26.4 6.2z"/>
<path class="m14" stroke-dasharray="37 42" d="M450.8 1548.6l26.4-7.1 8.4 3.9-26.4 7.1z"/>
<path class="m12" stroke-dasharray="41 41" d="M996.1 1596l26.4-12.7 8.4 7.6-26.4 5.3z"/>
<path class="m14" stroke-dasharray="28 664" d="M494 1549.2l26.4-7.1 8.4 325.1-26.4-15.6z"/>
<path class="m3" d="M520.4 1542l8.4 325.1"/>
<path class="m12" stroke-dasharray="30 59" d="M1039.3 1610.2l26.4-13.3 8.4 16.2-26.4 0z"/>
<path class="m11" d="M1065.7 1596.9l8.4 16.2"/>
<path class="m11" stroke-dasharray="48 53" d="M1082.5 1628.1l26.4-6.2 8.4 18.6-26.4 5.8z"/>
<path class="m14" stroke-dasharray="37 42" d="M416 1551.8l26.4-7.1 8.4 3.9-26.4 7.1z"/>
<path class="m4" stroke-dasharray="34 510" d="M961.3 1846.8l26.4-21.1 8.4-229.7-26.4 2.8z"/>
<path class="m12" d="M987.6 1825.8l8.4-229.7"/>
<path class="m14" stroke-dasharray="37 42" d="M459.2 1552.4l26.4-7.1 8.4 3.9-26.4 7.1z"/>
<path class="m12" stroke-dasharray="48 49" d="M1004.5 1596.2l26.4-5.3 8.4 19.3-26.4 1z"/>
<path class="m12" stroke-dasharray="27 70" d="M1047.7 1613.1l26.4 0 8.4 15-26.4 4.3z"/>
<path class="m11" d="M1074.1 1613.1l8.4 15"/>
<path class="m11" stroke-dasharray="27 586" d="M1091 1646.3l26.4-5.8 8.4 264-26.4 23.1z"/>
<path class="m2" d="M1117.4 1640.5l8.4 264"/>
<path class="m14" stroke-dasharray="37 42" d="M424.4 1555.7l26.4-7.1 8.4 3.9-26.4 7.1z"/>
<path class="m12" stroke-dasharray="35 51" d="M969.7 1598.8l26.4-2.8 8.4 0.1-26.4 15.4z"/>
<path class="m14" stroke-dasharray="28 616" d="M467.7 1556.3l26.4-7.1 8.4 302.4-26.4-20.4z"/>
<path class="m4" d="M494 1549.2l8.4 302.4"/>
<path class="m12" stroke-dasharray="36 61" d="M1012.9 1611.2l26.4-1 8.4 2.9-26.4 19.3z"/>
<path class="m11" stroke-dasharray="47 51" d="M1056.2 1632.4l26.4-4.3 8.4 18.2-26.4 2.9z"/>
<path class="m14" stroke-dasharray="37 42" d="M389.6 1559l26.4-7.1 8.4 3.9-26.4 7.1z"/>
<path class="m4" stroke-dasharray="27 535" d="M934.9 1849.8l26.4-3 8.4-248-26.4-3.5z"/>
<path class="m12" d="M961.3 1846.8l8.4-248"/>
<path class="m14" stroke-dasharray="37 42" d="M432.9 1559.6l26.4-7.1 8.4 3.9-26.4 7.1z"/>
<path class="m12" stroke-dasharray="48 59" d="M978.1 1611.6l26.4-15.4 8.4 15-26.4 19.1z"/>
<path class="m11" stroke-dasharray="54 44" d="M1021.4 1632.4l26.4-19.3 8.4 19.3-26.4 7.8z"/>
<path class="m11" stroke-dasharray="27 589" d="M1064.6 1649.2l26.4-2.9 8.4 281.4-26.4-3.3z"/>
<path class="m2" d="M1091 1646.3l8.4 281.4"/>
<path class="m5" stroke-dasharray="27 365" d="M1107.9 1813l26.4-5 8.4-169.8-26.4 16.8z"/>
<path class="m11" d="M1134.2 1807.9l8.4-169.8"/>
<path class="m14" stroke-dasharray="37 42" d="M398.1 1562.8l26.4-7.1 8.4 3.9-26.4 7.1z"/>
<path class="m13" stroke-dasharray="27 76" d="M943.3 1595.3l26.4 3.5 8.4 12.8-26.4 9.6z"/>
<path class="m12" d="M969.7 1598.8l8.4 12.8"/>
<path class="m14" stroke-dasharray="28 577" d="M441.3 1563.4l26.4-7.1 8.4 274.8-26.4 2.4z"/>
<path class="m5" d="M467.7 1556.3l8.4 274.8"/>
<path class="m11" stroke-dasharray="56 42" d="M986.6 1630.3l26.4-19.1 8.4 21.2-26.4-5.8z"/>
<path class="m11" stroke-dasharray="47 42" d="M1029.8 1640.2l26.4-7.8 8.4 16.9-26.4-8.5z"/>
<path class="m11" stroke-dasharray="32 592" d="M1116.3 1655l26.4-16.8 8.4 283-26.4 9.1z"/>
<path class="m2" d="M1142.7 1638.1l8.4 283"/>
<path class="m14" stroke-dasharray="37 42" d="M363.3 1566.1l26.4-7.1 8.4 3.9-26.4 7.1z"/>
<path class="m4" stroke-dasharray="28 539" d="M908.5 1858.4l26.4-8.5 8.4-254.6-26.4 15z"/>
<path class="m13" d="M934.9 1849.8l8.4-254.6"/>
<path class="m14" stroke-dasharray="37 42" d="M406.5 1566.7l26.4-7.1 8.4 3.9-26.4 7.1z"/>
<path class="m12" stroke-dasharray="28 64" d="M951.8 1621.2l26.4-9.6 8.4 18.7-26.4-12.5z"/>
<path class="m11" d="M978.1 1611.6l8.4 18.7"/>
<path class="m12" stroke-dasharray="27 70" d="M995 1626.7l26.4 5.8 8.4 7.7-26.4 9.6z"/>
<path class="m11" d="M1021.4 1632.4l8.4 7.7"/>
<path class="m11" stroke-dasharray="28 596" d="M1038.2 1640.7l26.4 8.5 8.4 275.2-26.4 4.3z"/>
<path class="m2" d="M1064.6 1649.2l8.4 275.2"/>
<path class="m5" stroke-dasharray="29 356" d="M1081.5 1825.2l26.4-12.2 8.4-158-26.4 5.4z"/>
<path class="m11" d="M1107.9 1813l8.4-158"/>
<path class="m14" stroke-dasharray="37 42" d="M371.7 1570l26.4-7.1 8.4 3.9-26.4 7.1z"/>
<path class="m12" stroke-dasharray="58 55" d="M917 1610.2l26.4-15 8.4 25.9-26.4 9.1z"/>
<path class="m14" stroke-dasharray="28 559" d="M414.9 1570.6l26.4-7.1 8.4 270.1-26.4-6.9z"/>
<path class="m5" d="M441.3 1563.4l8.4 270.1"/>
<path class="m12" stroke-dasharray="39 77" d="M960.2 1617.8l26.4 12.5 8.4-3.6-26.4 25.3z"/>
<path class="m11" stroke-dasharray="37 45" d="M1003.4 1649.8l26.4-9.6 8.4 0.6-26.4 14.1z"/>
<path class="m11" stroke-dasharray="27 587" d="M1089.9 1660.4l26.4-5.4 8.4 275.2-26.4 8.4z"/>
<path class="m2" d="M1116.3 1655l8.4 275.2"/>
<path class="m14" stroke-dasharray="37 42" d="M336.9 1573.2l26.4-7.1 8.4 3.9-26.4 7.1z"/>
<path class="m5" stroke-dasharray="29 511" d="M882.2 1845.9l26.4 12.5 8.4-248.1-26.4 6z"/>
<path class="m12" d="M908.5 1858.4l8.4-248.1"/>
<path class="m14" stroke-dasharray="37 42" d="M380.1 1573.8l26.4-7.1 8.4 3.9-26.4 7.1z"/>
<path class="m12" stroke-dasharray="37 47" d="M925.4 1630.3l26.4-9.1 8.4-3.4-26.4 17.9z"/>
<path class="m11" stroke-dasharray="61 44" d="M968.6 1652l26.4-25.3 8.4 23.1-26.4-5.5z"/>
<path class="m11" stroke-dasharray="30 597" d="M1011.9 1654.9l26.4-14.1 8.4 288-26.4 2.7z"/>
<path class="m2" d="M1038.2 1640.7l8.4 288"/>
<path class="m5" stroke-dasharray="27 354" d="M1055.1 1826.6l26.4-1.4 8.4-164.7-26.4 11.4z"/>
<path class="m11" d="M1081.5 1825.2l8.4-164.7"/>
<path class="m14" stroke-dasharray="37 42" d="M345.3 1577.1l26.4-7.1 8.4 3.9-26.4 7.1z"/>
<path class="m5" stroke-dasharray="29 299" d="M1141.6 1837.7l26.4-11.2 8.4-131.9-26.4 10.7z"/>
<path class="m10" d="M1168 1826.5l8.4-131.9"/>
<path class="m12" stroke-dasharray="49 44" d="M890.6 1616.3l26.4-6 8.4 20.1-26.4-6.7z"/>
<path class="m14" stroke-dasharray="28 540" d="M388.6 1577.7l26.4-7.1 8.4 256-26.4 2.4z"/>
<path class="m5" d="M414.9 1570.6l8.4 256"/>
<path class="m12" stroke-dasharray="32 94" d="M933.8 1635.7l26.4-17.9 8.4 34.2-26.4 8.4z"/>
<path class="m11" d="M960.2 1617.8l8.4 34.2"/>
<path class="m11" stroke-dasharray="37 50" d="M977.1 1644.3l26.4 5.5 8.4 5.1-26.4 5.1z"/>
<path class="m11" stroke-dasharray="29 587" d="M1063.6 1671.8l26.4-11.4 8.4 278.2-26.4 8.4z"/>
<path class="m2" d="M1089.9 1660.4l8.4 278.2"/>
<path class="m14" stroke-dasharray="37 42" d="M310.5 1580.4l26.4-7.1 8.4 3.9-26.4 7.1z"/>
<path class="m5" stroke-dasharray="29 498" d="M855.8 1856.4l26.4-10.6 8.4-229.6-26.4 4.1z"/>
<path class="m12" d="M882.2 1845.9l8.4-229.6"/>
<path class="m14" stroke-dasharray="37 42" d="M353.8 1581l26.4-7.1 8.4 3.9-26.4 7.1z"/>
<path class="m10" stroke-dasharray="29 554" d="M1150 1705.3l26.4-10.7 8.4 275.5-26.4-37.4z"/>
<path class="m1" d="M1176.4 1694.6l8.4 275.5"/>
<path class="m12" stroke-dasharray="37 61" d="M899 1623.7l26.4 6.7 8.4 5.4-26.4 13.1z"/>
<path class="m11" stroke-dasharray="39 46" d="M942.3 1660.4l26.4-8.4 8.4-7.7-26.4 18.5z"/>
<path class="m11" stroke-dasharray="27 598" d="M985.5 1660l26.4-5.1 8.4 276.6-26.4 14.1z"/>
<path class="m2" d="M1011.9 1654.9l8.4 276.6"/>
<path class="m5" stroke-dasharray="29 349" d="M1028.8 1836.9l26.4-10.3 8.4-154.8-26.4 3.5z"/>
<path class="m11" d="M1055.1 1826.6l8.4-154.8"/>
<path class="m14" stroke-dasharray="37 42" d="M319 1584.2l26.4-7.1 8.4 3.9-26.4 7.1z"/>
<path class="m5" stroke-dasharray="27 293" d="M1115.2 1840l26.4-2.4 8.4-132.3-26.4 7.9z"/>
<path class="m10" d="M1141.6 1837.7l8.4-132.3"/>
<path class="m12" stroke-dasharray="38 53" d="M864.2 1620.4l26.4-4.1 8.4 7.4-26.4 12.9z"/>
<path class="m14" stroke-dasharray="28 528" d="M362.2 1584.8l26.4-7.1 8.4 251.4-26.4 0.4z"/>
<path class="m6" d="M388.6 1577.7l8.4 251.4"/>
<path class="m12" stroke-dasharray="30 69" d="M907.5 1648.8l26.4-13.1 8.4 24.7-26.4-5.7z"/>
<path class="m11" d="M933.8 1635.7l8.4 24.7"/>
<path class="m6" stroke-dasharray="50 41" d="M405.4 1820.8l26.4 11.7 8.4-19.3-26.4 4.9z"/>
<path class="m11" stroke-dasharray="50 46" d="M950.7 1662.8l26.4-18.5 8.4 15.7-26.4 11.1z"/>
<path class="m11" stroke-dasharray="27 587" d="M1037.2 1675.3l26.4-3.5 8.4 275.3-26.4 6.9z"/>
<path class="m2" d="M1063.6 1671.8l8.4 275.3"/>
<path class="m14" stroke-dasharray="37 42" d="M284.2 1587.5l26.4-7.1 8.4 3.9-26.4 7.1z"/>
<path class="m5" stroke-dasharray="27 497" d="M829.4 1854.1l26.4 2.3 8.4-236-26.4 6z"/>
<path class="m12" d="M855.8 1856.4l8.4-236"/>
<path class="m14" stroke-dasharray="37 42" d="M327.4 1588.1l26.4-7.1 8.4 3.9-26.4 7.1z"/>
<path class="m10" stroke-dasharray="28 500" d="M1123.7 1713.3l26.4-7.9 8.4 227.3-26.4 16.1z"/>
<path class="m2" d="M1150 1705.3l8.4 227.3"/>
<path class="m12" stroke-dasharray="56 46" d="M872.7 1636.5l26.4-12.9 8.4 25.1-26.4-0.4z"/>
<path class="m11" stroke-dasharray="36 53" d="M915.9 1654.7l26.4 5.7 8.4 2.4-26.4 9.2z"/>
<path class="m6" stroke-dasharray="27 125" d="M413.9 1818.1l26.4-4.9 8.4 52.9-26.4-12.7z"/>
<path class="m4" d="M440.2 1813.2l8.4 52.9"/>
<path class="m11" stroke-dasharray="29 599" d="M959.1 1671.1l26.4-11.1 8.4 285.5-26.4 6z"/>
<path class="m2" d="M985.5 1660l8.4 285.5"/>
<path class="m6" stroke-dasharray="27 354" d="M1002.4 1835.5l26.4 1.4 8.4-161.6-26.4-0.2z"/>
<path class="m11" d="M1028.8 1836.9l8.4-161.6"/>
<path class="m14" stroke-dasharray="37 42" d="M292.6 1591.4l26.4-7.1 8.4 3.9-26.4 7.1z"/>
<path class="m5" stroke-dasharray="28 290" d="M1088.9 1848.5l26.4-8.5 8.4-126.8-26.4 5.1z"/>
<path class="m10" d="M1115.2 1840l8.4-126.8"/>
<path class="m12" stroke-dasharray="46 57" d="M837.9 1626.4l26.4-6 8.4 16.2-26.4 11.1z"/>
<path class="m14" stroke-dasharray="28 529" d="M335.8 1592l26.4-7.1 8.4 244.7-26.4 11.9z"/>
<path class="m6" d="M362.2 1584.8l8.4 244.7"/>
<path class="m12" stroke-dasharray="27 62" d="M881.1 1648.4l26.4 0.4 8.4 5.9-26.4 9.4z"/>
<path class="m11" d="M907.5 1648.8l8.4 5.9"/>
<path class="m6" stroke-dasharray="37 43" d="M379.1 1831.2l26.4-10.4 8.4-2.7-26.4 6.5z"/>
<path class="m11" stroke-dasharray="40 60" d="M924.3 1672l26.4-9.2 8.4 8.3-26.4 20.4z"/>
<path class="m11" stroke-dasharray="27 589" d="M1010.8 1675l26.4 0.2 8.4 278.7-26.4-0.6z"/>
<path class="m2" d="M1037.2 1675.3l8.4 278.7"/>
<path class="m14" stroke-dasharray="37 42" d="M257.8 1594.6l26.4-7.1 8.4 3.9-26.4 7.1z"/>
<path class="m14" d="M266.2 1598.5l-8.4-3.9"/>
<path class="m4" stroke-dasharray="35 495" d="M803.1 1876.8l26.4-22.7 8.4-227.7-26.4 27z"/>
<path class="m12" d="M829.4 1854.1l8.4-227.7"/>
<path class="m14" stroke-dasharray="37 42" d="M301 1595.2l26.4-7.1 8.4 3.9-26.4 7.1z"/>
<path class="m10" stroke-dasharray="27 540" d="M1097.3 1718.4l26.4-5.1 8.4 235.5-26.4 29.3z"/>
<path class="m2" d="M1123.7 1713.3l8.4 235.5"/>
<path class="m12" stroke-dasharray="43 46" d="M846.3 1647.6l26.4-11.1 8.4 11.9-26.4 8.3z"/>
<path class="m6" stroke-dasharray="38 42" d="M344.3 1841.3l26.4-11.9 8.4 1.7-26.4 5.4z"/>
<path class="m11" stroke-dasharray="48 45" d="M889.5 1664l26.4-9.4 8.4 17.3-26.4 2.4z"/>
<path class="m6" stroke-dasharray="27 120" d="M387.5 1824.7l26.4-6.5 8.4 35.3-26.4 17.2z"/>
<path class="m5" d="M413.9 1818.1l8.4 35.3"/>
<path class="m11" stroke-dasharray="34 573" d="M932.8 1691.5l26.4-20.4 8.4 280.4-26.4 0.4z"/>
<path class="m2" d="M959.1 1671.1l8.4 280.4"/>
<path class="m6" stroke-dasharray="27 347" d="M976 1840l26.4-4.5 8.4-160.5-26.4 14.6z"/>
<path class="m11" d="M1002.4 1835.5l8.4-160.5"/>
<path class="m14" stroke-dasharray="37 42" d="M266.2 1598.5l26.4-7.1 8.4 3.9-26.4 7.1z"/>
<path class="m14" d="M274.7 1602.4l-8.4-3.9"/>
<path class="m5" stroke-dasharray="28 294" d="M1062.5 1855.9l26.4-7.4 8.4-130.1-26.4 7.1z"/>
<path class="m10" d="M1088.9 1848.5l8.4-130.1"/>
<path class="m12" stroke-dasharray="61 42" d="M811.5 1653.4l26.4-27 8.4 21.3-26.4 7.5z"/>
<path class="m14" stroke-dasharray="28 556" d="M309.5 1599.1l26.4-7.1 8.4 249.4-26.4 23.2z"/>
<path class="m6" d="M335.8 1592l8.4 249.4"/>
<path class="m12" stroke-dasharray="28 60" d="M854.7 1656.7l26.4-8.3 8.4 15.6-26.4-0.6z"/>
<path class="m11" d="M881.1 1648.4l8.4 15.6"/>
<path class="m6" stroke-dasharray="38 43" d="M352.7 1836.6l26.4-5.4 8.4-6.5-26.4 6.7z"/>
<path class="m11" stroke-dasharray="48 55" d="M898 1674.4l26.4-2.4 8.4 19.5-26.4 4.5z"/>
<path class="m7" stroke-dasharray="27 187" d="M1192.2 1794.6l26.4 0.7 8.4-82.4-26.4 12.1z"/>
<path class="m10" d="M1218.6 1795.2l8.4-82.4"/>
<path class="m2" stroke-dasharray="27 79" d="M690.2 1955l26.4 2.4 8.4-26.5-26.4 8.1z"/>
<path class="m3" d="M716.6 1957.4l8.4-26.5"/>
<path class="m11" stroke-dasharray="30 593" d="M984.5 1689.6l26.4-14.6 8.4 278.3-26.4 15z"/>
<path class="m2" d="M1010.8 1675l8.4 278.3"/>
<path class="m4" stroke-dasharray="28 500" d="M776.7 1884.9l26.4-8.1 8.4-223.5-26.4-10.6z"/>
<path class="m12" d="M803.1 1876.8l8.4-223.5"/>
<path class="m14" stroke-dasharray="37 42" d="M274.7 1602.4l26.4-7.1 8.4 3.9-26.4 7.1z"/>
<path class="m14" d="M283.1 1606.2l-8.4-3.9"/>
<path class="m10" stroke-dasharray="28 528" d="M1070.9 1725.5l26.4-7.1 8.4 259.7-26.4-31z"/>
<path class="m1" d="M1097.3 1718.4l8.4 259.7"/>
<path class="m12" stroke-dasharray="40 49" d="M819.9 1655.1l26.4-7.5 8.4 9.1-26.4 11.2z"/>
<path class="m5" stroke-dasharray="35 60" d="M317.9 1864.6l26.4-23.2 8.4-4.7-26.4 20.2z"/>
<path class="m6" d="M344.3 1841.3l8.4-4.7"/>
<path class="m12" stroke-dasharray="27 73" d="M863.2 1663.5l26.4 0.6 8.4 10.4-26.4 12.3z"/>
<path class="m11" d="M889.5 1664l8.4 10.4"/>
<path class="m6" stroke-dasharray="27 128" d="M361.1 1831.3l26.4-6.7 8.4 46-26.4 7.8z"/>
<path class="m5" d="M387.5 1824.7l8.4 46"/>
<path class="m11" stroke-dasharray="27 558" d="M906.4 1696l26.4-4.5 8.4 260.4-26.4 8.6z"/>
<path class="m2" d="M932.8 1691.5l8.4 260.4"/>
<path class="m10" stroke-dasharray="29 573" d="M1200.7 1724.9l26.4-12.1 8.4 235.2-26.4 51.4z"/>
<path class="m2" d="M1227 1712.8l8.4 235.2"/>
<path class="m6" stroke-dasharray="29 334" d="M949.6 1851.1l26.4-11.1 8.4-150.4-26.4 13.2z"/>
<path class="m11" d="M976 1840l8.4-150.4"/>
<path class="m5" stroke-dasharray="29 304" d="M1036.1 1867.2l26.4-11.3 8.4-130.4-26.4 0.8z"/>
<path class="m10" d="M1062.5 1855.9l8.4-130.4"/>
<path class="m12" stroke-dasharray="37 44" d="M785.1 1642.8l26.4 10.6 8.4 1.7-26.4-3.4z"/>
<path class="m14" stroke-dasharray="28 581" d="M283.1 1606.2l26.4-7.1 8.4 265.5-26.4 19.3z"/>
<path class="m5" d="M309.5 1599.1l8.4 265.5"/>
<path class="m5" d="M291.5 1883.8l-8.4-277.6"/>
<path class="m12" stroke-dasharray="40 46" d="M828.4 1667.9l26.4-11.2 8.4 6.8-26.4 11.8z"/>
<path class="m5" stroke-dasharray="34 61" d="M326.3 1856.8l26.4-20.2 8.4-5.3-26.4 26.2z"/>
<path class="m6" d="M352.7 1836.6l8.4-5.3"/>
<path class="m11" stroke-dasharray="53 45" d="M871.6 1686.7l26.4-12.3 8.4 21.6-26.4 0.4z"/>
<path class="m7" stroke-dasharray="30 181" d="M1165.9 1807.3l26.4-12.7 8.4-69.7-26.4 4.3z"/>
<path class="m10" d="M1192.2 1794.6l8.4-69.7"/>
<path class="m11" stroke-dasharray="30 575" d="M958.1 1702.8l26.4-13.2 8.4 278.7-26.4-1.2z"/>
<path class="m2" d="M984.5 1689.6l8.4 278.7"/>
<path class="m4" stroke-dasharray="29 518" d="M750.3 1896.8l26.4-11.9 8.4-242.1-26.4 13.6z"/>
<path class="m12" d="M776.7 1884.9l8.4-242.1"/>
<path class="m10" stroke-dasharray="27 530" d="M1044.6 1726.3l26.4-0.8 8.4 221.6-26.4 36.5z"/>
<path class="m2" d="M1070.9 1725.5l8.4 221.6"/>
<path class="m12" stroke-dasharray="42 54" d="M793.6 1651.7l26.4 3.4 8.4 12.8-26.4 4.1z"/>
<path class="m5" stroke-dasharray="44 50" d="M291.5 1883.8l26.4-19.3 8.4-7.7-26.4 23.2z"/>
<path class="m5" d="M300 1880l-8.4 3.8"/>
<path class="m11" stroke-dasharray="54 43" d="M836.8 1675.3l26.4-11.8 8.4 23.2-26.4-6z"/>
<path class="m6" stroke-dasharray="37 120" d="M334.8 1857.5l26.4-26.2 8.4 47.2-26.4 14.8z"/>
<path class="m5" d="M361.1 1831.3l8.4 47.2"/>
<path class="m11" stroke-dasharray="27 555" d="M880 1696.4l26.4-0.4 8.4 264.4-26.4-6.1z"/>
<path class="m2" d="M906.4 1696l8.4 264.4"/>
<path class="m10" stroke-dasharray="27 572" d="M1174.3 1729.2l26.4-4.3 8.4 274.6-26.4-6z"/>
<path class="m1" d="M1200.7 1724.9l8.4 274.6"/>
<path class="m6" stroke-dasharray="28 339" d="M923.3 1859.7l26.4-8.6 8.4-148.2-26.4-1.6z"/>
<path class="m11" d="M949.6 1851.1l8.4-148.2"/>
<path class="m5" stroke-dasharray="27 306" d="M1009.8 1869.7l26.4-2.5 8.4-140.9-26.4 13.6z"/>
<path class="m10" d="M1036.1 1867.2l8.4-140.9"/>
<path class="m12" stroke-dasharray="42 43" d="M758.8 1656.4l26.4-13.6 8.4 8.9-26.4 9.5z"/>
<path class="m12" stroke-dasharray="27 72" d="M802 1672l26.4-4.1 8.4 7.4-26.4 18.3z"/>
<path class="m11" d="M828.4 1667.9l8.4 7.4"/>
<path class="m5" stroke-dasharray="35 55" d="M300 1880l26.4-23.2 8.4 0.7-26.4 16.8z"/>
<path class="m6" d="M326.3 1856.8l8.4 0.7"/>
<path class="m5" d="M308.4 1874.3l-8.4 5.7"/>
<path class="m11" stroke-dasharray="40 49" d="M845.2 1680.7l26.4 6 8.4 9.7-26.4-1.3z"/>
<path class="m5" stroke-dasharray="45 50" d="M343.2 1893.2l26.4-14.8 8.4-11.6-26.4 24.9z"/>
<path class="m7" stroke-dasharray="31 202" d="M1139.5 1822.3l26.4-15 8.4-78.1-26.4 2.4z"/>
<path class="m10" d="M1165.9 1807.3l8.4-78.1"/>
<path class="m11" stroke-dasharray="27 572" d="M931.7 1701.3l26.4 1.6 8.4 264.4-26.4 8.3z"/>
<path class="m2" d="M958.1 1702.8l8.4 264.4"/>
<path class="m4" stroke-dasharray="27 500" d="M723.9 1895.7l26.4 1.1 8.4-240.4-26.4 16.9z"/>
<path class="m12" d="M750.3 1896.8l8.4-240.4"/>
<path class="m10" stroke-dasharray="30 558" d="M1018.2 1739.9l26.4-13.6 8.4 257.3-26.4 18.6z"/>
<path class="m2" d="M1044.6 1726.3l8.4 257.3"/>
<path class="m12" stroke-dasharray="50 58" d="M767.2 1661.1l26.4-9.5 8.4 20.3-26.4 11.7z"/>
<path class="m11" stroke-dasharray="42 45" d="M810.4 1693.6l26.4-18.3 8.4 5.4-26.4 16z"/>
<path class="m5" stroke-dasharray="68 93" d="M308.4 1874.3l26.4-16.8 8.4 35.7-26.4 29z"/>
<path class="m4" d="M316.8 1922.3l-8.4-47.9"/>
<path class="m11" stroke-dasharray="27 554" d="M853.7 1695.2l26.4 1.3 8.4 257.8-26.4 4.2z"/>
<path class="m3" d="M880 1696.4l8.4 257.8"/>
<path class="m10" stroke-dasharray="27 549" d="M1147.9 1731.6l26.4-2.4 8.4 264.3-26.4-11.6z"/>
<path class="m1" d="M1174.3 1729.2l8.4 264.3"/>
<path class="m6" stroke-dasharray="27 348" d="M896.9 1857.6l26.4 2.1 8.4-158.4-26.4-0.9z"/>
<path class="m11" d="M923.3 1859.7l8.4-158.4"/>
<path class="m1" stroke-dasharray="37 43" d="M1191.2 2002.3l26.4 8.3 8.4 3.7-26.4-11.6z"/>
<path class="m1" stroke-dasharray="61 98" d="M1234.4 2017.3l26.4-54.4 8.4-4.3-26.4 66.7z"/>
<path class="m2" d="M1260.8 1962.9l8.4-4.3"/>
<path class="m5" stroke-dasharray="27 291" d="M983.4 1873.3l26.4-3.6 8.4-129.8-26.4 5.5z"/>
<path class="m10" d="M1009.8 1869.7l8.4-129.8"/>
<path class="m12" stroke-dasharray="41 48" d="M732.4 1673.3l26.4-16.9 8.4 4.7-26.4 18z"/>
<path class="m12" stroke-dasharray="29 73" d="M775.6 1683.8l26.4-11.7 8.4 21.6-26.4 5.2z"/>
<path class="m11" d="M802 1672l8.4 21.6"/>
<path class="m11" stroke-dasharray="48 49" d="M818.9 1696.7l26.4-16 8.4 14.5-26.4 13.1z"/>
<path class="m4" stroke-dasharray="40 60" d="M316.8 1922.3l26.4-29 8.4-1.4-26.4 20.8z"/>
<path class="m5" d="M343.2 1893.2l8.4-1.4"/>
<path class="m4" d="M325.3 1912.6l-8.4 9.7"/>
<path class="m7" stroke-dasharray="29 191" d="M1113.1 1810l26.4 12.3 8.4-90.8-26.4 15.8z"/>
<path class="m10" d="M1139.5 1822.3l8.4-90.8"/>
<path class="m11" stroke-dasharray="27 582" d="M905.4 1700.4l26.4 0.9 8.4 274.2-26.4 0.7z"/>
<path class="m2" d="M931.7 1701.3l8.4 274.2"/>
<path class="m5" stroke-dasharray="30 472" d="M697.6 1881l26.4 14.6 8.4-222.4-26.4-8.1z"/>
<path class="m12" d="M723.9 1895.7l8.4-222.4"/>
<path class="m0" stroke-dasharray="72 170" d="M1242.8 2025.3l26.4-66.7 8.4-44.9-26.4 51.4z"/>
<path class="m4" d="M1269.2 1958.7l8.4-44.9"/>
<path class="m10" stroke-dasharray="27 534" d="M991.8 1745.3l26.4-5.5 8.4 262.3-26.4-33.1z"/>
<path class="m1" d="M1018.2 1739.9l8.4 262.3"/>
<path class="m12" stroke-dasharray="56 43" d="M740.8 1679.1l26.4-18 8.4 22.6-26.4-8.7z"/>
<path class="m11" stroke-dasharray="36 53" d="M784.1 1698.8l26.4-5.2 8.4 3.1-26.4 16z"/>
<path class="m11" stroke-dasharray="30 549" d="M827.3 1708.3l26.4-13.1 8.4 263.3-26.4 3.1z"/>
<path class="m3" d="M853.7 1695.2l8.4 263.3"/>
<path class="m4" stroke-dasharray="34 65" d="M325.3 1912.6l26.4-20.8 8.4-7.6-26.4 29.1z"/>
<path class="m5" d="M351.6 1891.8l8.4-7.6"/>
<path class="m4" d="M333.7 1913.3l-8.4-0.7"/>
<path class="m10" stroke-dasharray="31 618" d="M1121.6 1747.4l26.4-15.8 8.4 250.3-26.4 61.2z"/>
<path class="m2" d="M1147.9 1731.6l8.4 250.3"/>
<path class="m2" stroke-dasharray="35 56" d="M1164.8 1979.9l26.4 22.3 8.4 0.5-26.4-21.1z"/>
<path class="m1" d="M1191.2 2002.3l8.4 0.5"/>
<path class="m6" stroke-dasharray="33 69" d="M411.8 1856.3l26.4-18.7 8.4-11.2-26.4 11.1z"/>
<path class="m7" d="M438.1 1837.6l8.4-11.2"/>
<path class="m5" stroke-dasharray="31 296" d="M957 1888.4l26.4-15.2 8.4-127.9-26.4 8.6z"/>
<path class="m10" d="M983.4 1873.3l8.4-127.9"/>
<path class="m12" stroke-dasharray="38 45" d="M706 1665.2l26.4 8.1 8.4 5.8-26.4-4.3z"/>
<path class="m3" stroke-dasharray="58 147" d="M1251.3 1965.2l26.4-51.4 8.4-40-26.4 34.6z"/>
<path class="m5" d="M1277.6 1913.8l8.4-40"/>
<path class="m12" stroke-dasharray="28 73" d="M749.3 1675.1l26.4 8.7 8.4 15-26.4-1.2z"/>
<path class="m11" d="M775.6 1683.8l8.4 15"/>
<path class="m11" stroke-dasharray="45 41" d="M792.5 1712.7l26.4-16 8.4 11.6-26.4 4.6z"/>
<path class="m7" stroke-dasharray="36 174" d="M1086.8 1833.7l26.4-23.7 8.4-62.6-26.4 8.9z"/>
<path class="m10" d="M1113.1 1810l8.4-62.6"/>
<path class="m4" stroke-dasharray="40 75" d="M333.7 1913.3l26.4-29.1 8.4-12.5-26.4 30z"/>
<path class="m6" d="M360.1 1884.2l8.4-12.5"/>
<path class="m5" d="M342.2 1901.7l-8.4 11.5"/>
<path class="m11" stroke-dasharray="36 537" d="M879 1724.3l26.4-24 8.4 275.8-26.4-90.6z"/>
<path class="m2" d="M905.4 1700.4l8.4 275.8"/>
<path class="m2" stroke-dasharray="34 61" d="M1173.2 1981.6l26.4 21.1 8.4 7.1-26.4-22.4z"/>
<path class="m1" d="M1199.6 2002.7l8.4 7.1"/>
<path class="m5" stroke-dasharray="30 481" d="M671.2 1894.2l26.4-13.2 8.4-215.8-26.4-4z"/>
<path class="m12" d="M697.6 1881l8.4-215.8"/>
<path class="m7" stroke-dasharray="29 144" d="M420.2 1837.4l26.4-11.1 8.4 52.6-26.4 13.6z"/>
<path class="m5" d="M446.6 1826.4l8.4 52.6"/>
<path class="m1" stroke-dasharray="29 146" d="M1216.5 2013.6l26.4 11.8 8.4-60.2-26.4-4.3z"/>
<path class="m3" d="M1242.8 2025.3l8.4-60.2"/>
<path class="m10" stroke-dasharray="28 528" d="M965.5 1754l26.4-8.6 8.4 223.7-26.4 37.6z"/>
<path class="m2" d="M991.8 1745.3l8.4 223.7"/>
<path class="m12" stroke-dasharray="36 61" d="M714.5 1674.8l26.4 4.3 8.4-4.1-26.4 20.2z"/>
<path class="m5" stroke-dasharray="44 143" d="M1259.7 1908.4l26.4-34.6 8.4-45.6-26.4 30.5z"/>
<path class="m7" d="M1286.1 1873.8l8.4-45.6"/>
<path class="m11" stroke-dasharray="43 45" d="M757.7 1697.6l26.4 1.2 8.4 13.9-26.4-5.9z"/>
<path class="m11" stroke-dasharray="27 535" d="M800.9 1713l26.4-4.6 8.4 253.3-26.4 0.4z"/>
<path class="m3" d="M827.3 1708.3l8.4 253.3"/>
<path class="m10" stroke-dasharray="28 594" d="M1095.2 1756.3l26.4-8.9 8.4 295.7-26.4-52.7z"/>
<path class="m0" d="M1121.6 1747.4l8.4 295.7"/>
<path class="m6" stroke-dasharray="27 309" d="M844.2 1863.8l26.4 0.4 8.4-139.9-26.4 2.9z"/>
<path class="m11" d="M870.5 1864.2l8.4-139.9"/>
<path class="m5" stroke-dasharray="40 62" d="M342.2 1901.7l26.4-30 8.4-2.2-26.4 26z"/>
<path class="m6" d="M368.5 1871.7l8.4-2.2"/>
<path class="m5" d="M350.6 1895.6l-8.4 6.2"/>
<path class="m0" stroke-dasharray="68 103" d="M1138.4 2042.1l26.4-62.1 8.4 1.6-26.4 70.8z"/>
<path class="m2" d="M1164.8 1979.9l8.4 1.6"/>
<path class="m6" stroke-dasharray="31 76" d="M385.4 1871.3l26.4-15 8.4-18.9-26.4 19.7z"/>
<path class="m7" d="M411.8 1856.3l8.4-18.9"/>
<path class="m2" stroke-dasharray="35 58" d="M1181.7 1987.4l26.4 22.4 8.4 3.7-26.4-18.6z"/>
<path class="m1" d="M1208 2009.8l8.4 3.7"/>
<path class="m5" stroke-dasharray="27 376" d="M930.7 1886.7l26.4 1.8 8.4-134.5-26.4-47.8z"/>
<path class="m10" d="M957 1888.4l8.4-134.5"/>
<path class="m13" stroke-dasharray="27 71" d="M679.6 1661.2l26.4 4 8.4 9.6-26.4 9.9z"/>
<path class="m12" d="M706 1665.2l8.4 9.6"/>
<path class="m3" stroke-dasharray="27 151" d="M1224.9 1960.9l26.4 4.3 8.4-56.8-26.4-7.4z"/>
<path class="m5" d="M1251.3 1965.2l8.4-56.8"/>
<path class="m12" stroke-dasharray="34 64" d="M722.9 1695.3l26.4-20.2 8.4 22.5-26.4-2.3z"/>
<path class="m11" d="M749.3 1675.1l8.4 22.5"/>
<path class="m6" stroke-dasharray="41 143" d="M1268.2 1858.7l26.4-30.5 8.4-46.8-26.4 22.7z"/>
<path class="m9" d="M1294.5 1828.2l8.4-46.8"/>
<path class="m11" stroke-dasharray="36 80" d="M766.1 1706.7l26.4 5.9 8.4 0.3-26.4 28.5z"/>
<path class="m7" stroke-dasharray="29 193" d="M1060.4 1846l26.4-12.3 8.4-77.4-26.4 7.6z"/>
<path class="m10" d="M1086.8 1833.7l8.4-77.4"/>
<path class="m2" stroke-dasharray="59 76" d="M1103.6 1990.4l26.4 52.7 8.4-1-26.4-42z"/>
<path class="m0" d="M1130 2043.1l8.4-1"/>
<path class="m11" stroke-dasharray="27 373" d="M852.6 1727.2l26.4-2.9 8.4 161.2-26.4 16.3z"/>
<path class="m5" d="M879 1724.3l8.4 161.2"/>
<path class="m5" stroke-dasharray="37 57" d="M350.6 1895.6l26.4-26 8.4 1.7-26.4 18.8z"/>
<path class="m6" d="M377 1869.5l8.4 1.7"/>
<path class="m5" d="M359 1890.1l-8.4 5.5"/>
<path class="m6" stroke-dasharray="28 485" d="M644.8 1885.5l26.4 8.7 8.4-233-26.4 5.5z"/>
<path class="m13" d="M671.2 1894.2l8.4-233"/>
<path class="m6" stroke-dasharray="33 147" d="M393.8 1857.1l26.4-19.7 8.4 55.1-26.4 18.2z"/>
<path class="m5" d="M420.2 1837.4l8.4 55.1"/>
<path class="m2" stroke-dasharray="33 146" d="M1190.1 1995l26.4 18.6 8.4-52.7-26.4-19.7z"/>
<path class="m3" d="M1216.5 2013.6l8.4-52.7"/>
<path class="m11" stroke-dasharray="55 605" d="M939.1 1706.2l26.4 47.8 8.4 252.7-26.4 15.3z"/>
<path class="m1" d="M965.5 1754l8.4 252.7"/>
<path class="m12" stroke-dasharray="51 42" d="M688.1 1684.7l26.4-9.9 8.4 20.5-26.4-7.3z"/>
<path class="m5" stroke-dasharray="28 132" d="M1233.3 1901l26.4 7.4 8.4-49.7-26.4-6z"/>
<path class="m6" d="M1259.7 1908.4l8.4-49.7"/>
<path class="m12" stroke-dasharray="27 63" d="M731.3 1695.3l26.4 2.3 8.4 9.2-26.4 5.2z"/>
<path class="m11" d="M757.7 1697.6l8.4 9.2"/>
<path class="m8" stroke-dasharray="35 152" d="M1276.6 1804l26.4-22.7 8.4-53.7-26.4 15.7z"/>
<path class="m11" d="M1303 1781.3l8.4-53.7"/>
<path class="m10" d="M1311.4 1727.7l-26.4 15.7"/>
<path class="m10" stroke-dasharray="39 505" d="M774.6 1741.4l26.4-28.5 8.4 249.1-26.4 2.8z"/>
<path class="m3" d="M800.9 1713l8.4 249.1"/>
<path class="m10" stroke-dasharray="28 552" d="M1068.8 1763.8l26.4-7.6 8.4 234.1-26.4 38.6z"/>
<path class="m2" d="M1095.2 1756.3l8.4 234.1"/>
<path class="m6" stroke-dasharray="27 304" d="M817.8 1868.5l26.4-4.7 8.4-136.6-26.4 8z"/>
<path class="m11" d="M844.2 1863.8l8.4-136.6"/>
<path class="m2" stroke-dasharray="50 96" d="M1112.1 2000.1l26.4 42 8.4 10.3-26.4-60z"/>
<path class="m0" d="M1138.4 2042.1l8.4 10.3"/>
<path class="m5" stroke-dasharray="33 74" d="M359 1890.1l26.4-18.8 8.4-14.2-26.4 11.3z"/>
<path class="m6" d="M385.4 1871.3l8.4-14.2"/>
<path class="m6" d="M367.5 1868.4l-8.4 21.7"/>
<path class="m0" stroke-dasharray="75 98" d="M1155.3 2057.3l26.4-69.9 8.4 7.5-26.4 66.4z"/>
<path class="m2" d="M1181.7 1987.4l8.4 7.5"/>
<path class="m6" stroke-dasharray="28 364" d="M904.3 1877.8l26.4 8.9 8.4-180.5-26.4 61.9z"/>
<path class="m11" d="M930.7 1886.7l8.4-180.5"/>
<path class="m13" stroke-dasharray="27 79" d="M653.3 1666.7l26.4-5.5 8.4 23.5-26.4 2z"/>
<path class="m12" d="M679.6 1661.2l8.4 23.5"/>
<path class="m4" stroke-dasharray="33 132" d="M1198.5 1941.2l26.4 19.7 8.4-59.9-26.4 1.2z"/>
<path class="m5" d="M1224.9 1960.9l8.4-59.9"/>
<path class="m12" stroke-dasharray="36 66" d="M696.5 1688l26.4 7.3 8.4 0-26.4 19.2z"/>
<path class="m7" stroke-dasharray="27 133" d="M1241.8 1852.7l26.4 6 8.4-54.7-26.4 3.4z"/>
<path class="m8" d="M1268.2 1858.7l8.4-54.7"/>
<path class="m11" stroke-dasharray="27 87" d="M739.8 1711.9l26.4-5.2 8.4 34.7-26.4-22.5z"/>
<path class="m10" d="M766.1 1706.7l8.4 34.7"/>
<path class="m7" stroke-dasharray="27 194" d="M1034 1849.9l26.4-3.9 8.4-82.1-26.4 7.6z"/>
<path class="m10" d="M1060.4 1846l8.4-82.1"/>
<path class="m11" stroke-dasharray="28 394" d="M826.2 1735.2l26.4-8 8.4 174.6-26.4 15.8z"/>
<path class="m5" d="M852.6 1727.2l8.4 174.6"/>
<path class="m2" stroke-dasharray="66 89" d="M1120.5 1992.5l26.4 60 8.4 4.9-26.4-46.9z"/>
<path class="m0" d="M1146.9 2052.4l8.4 4.9"/>
<path class="m6" stroke-dasharray="27 454" d="M618.5 1879.4l26.4 6.1 8.4-218.8-26.4 12z"/>
<path class="m13" d="M644.8 1885.5l8.4-218.8"/>
<path class="m6" stroke-dasharray="29 164" d="M367.5 1868.4l26.4-11.3 8.4 53.5-26.4 24.9z"/>
<path class="m5" d="M393.8 1857.1l8.4 53.5"/>
<path class="m4" d="M375.9 1935.5l-8.4-67.1"/>
<path class="m0" stroke-dasharray="72 187" d="M1163.7 2061.3l26.4-66.4 8.4-53.8-26.4 56.9z"/>
<path class="m4" d="M1190.1 1995l8.4-53.8"/>
<path class="m10" stroke-dasharray="68 578" d="M912.7 1768l26.4-61.9 8.4 315.8-26.4-143.8z"/>
<path class="m1" d="M939.1 1706.2l8.4 315.8"/>
<path class="m12" stroke-dasharray="36 43" d="M661.7 1686.7l26.4-2 8.4 3.3-26.4 4.9z"/>
<path class="m5" stroke-dasharray="32 63" d="M410.7 1905.6l26.4-17.6 8.4-9.4-26.4 14.6z"/>
<path class="m6" d="M437.1 1888l8.4-9.4"/>
<path class="m5" stroke-dasharray="27 142" d="M1207 1902.2l26.4-1.2 8.4-48.3-26.4-9.5z"/>
<path class="m7" d="M1233.3 1901l8.4-48.3"/>
<path class="m11" stroke-dasharray="52 41" d="M705 1714.5l26.4-19.2 8.4 16.6-26.4 5.4z"/>
<path class="m8" stroke-dasharray="27 150" d="M1250.2 1807.4l26.4-3.4 8.4-60.7-26.4 9.1z"/>
<path class="m10" d="M1276.6 1804l8.4-60.7"/>
<path class="m10" d="M1285 1743.3l-26.4 9.1"/>
<path class="m11" stroke-dasharray="35 499" d="M748.2 1718.9l26.4 22.5 8.4 223.4-26.4-2.8z"/>
<path class="m3" d="M774.6 1741.4l8.4 223.4"/>
<path class="m10" stroke-dasharray="28 572" d="M1042.5 1771.5l26.4-7.6 8.4 265.1-26.4 13.6z"/>
<path class="m1" d="M1068.8 1763.8l8.4 265.1"/>
<path class="m6" stroke-dasharray="27 299" d="M791.4 1874.4l26.4-5.9 8.4-133.4-26.4 6.4z"/>
<path class="m11" d="M817.8 1868.5l8.4-133.4"/>
<path class="m2" stroke-dasharray="54 85" d="M1128.9 2010.4l26.4 46.9 8.4 4-26.4-54.6z"/>
<path class="m0" d="M1155.3 2057.3l8.4 4"/>
<path class="m7" stroke-dasharray="33 324" d="M877.9 1857.9l26.4 19.9 8.4-109.7-26.4-56.3z"/>
<path class="m10" d="M904.3 1877.8l8.4-109.7"/>
<path class="m13" stroke-dasharray="29 65" d="M626.9 1678.7l26.4-12 8.4 20-26.4-11.7z"/>
<path class="m12" d="M653.3 1666.7l8.4 20"/>
<path class="m4" stroke-dasharray="37 61" d="M375.9 1935.5l26.4-24.9 8.4-5-26.4 22.2z"/>
<path class="m5" d="M402.3 1910.7l8.4-5"/>
<path class="m5" d="M384.3 1927.9l-8.4 7.7"/>
<path class="m2" stroke-dasharray="63 149" d="M1172.2 1998l26.4-56.9 8.4-39-26.4 42.2z"/>
<path class="m5" d="M1198.5 1941.2l8.4-39"/>
<path class="m12" stroke-dasharray="27 80" d="M670.2 1692.9l26.4-4.9 8.4 26.5-26.4-3.9z"/>
<path class="m11" d="M696.5 1688l8.4 26.5"/>
<path class="m7" stroke-dasharray="28 107" d="M1215.4 1843.2l26.4 9.5 8.4-45.3-26.4 10.7z"/>
<path class="m8" d="M1241.8 1852.7l8.4-45.3"/>
<path class="m11" stroke-dasharray="38 45" d="M713.4 1717.3l26.4-5.4 8.4 7-26.4 7.5z"/>
<path class="m7" stroke-dasharray="28 194" d="M1007.6 1857.9l26.4-8.1 8.4-78.4-26.4 4.4z"/>
<path class="m10" d="M1034 1849.9l8.4-78.4"/>
<path class="m3" stroke-dasharray="27 210" d="M756.6 1961.9l26.4 2.8 8.4-90.4-26.4 0.4z"/>
<path class="m6" d="M783 1964.8l8.4-90.4"/>
<path class="m5" stroke-dasharray="30 70" d="M505.6 1919.2l26.4-12.8 8.4-15.9-26.4 14.9z"/>
<path class="m6" d="M532 1906.3l8.4-15.9"/>
<path class="m1" stroke-dasharray="41 65" d="M1050.9 2042.5l26.4-13.6 8.4-7.5-26.4 34.7z"/>
<path class="m11" stroke-dasharray="27 369" d="M799.9 1741.6l26.4-6.4 8.4 182.5-26.4-84.8z"/>
<path class="m5" d="M826.2 1735.2l8.4 182.5"/>
<path class="m6" stroke-dasharray="27 425" d="M592.1 1880.2l26.4-0.8 8.4-200.7-26.4 12.4z"/>
<path class="m13" d="M618.5 1879.4l8.4-200.7"/>
<path class="m2" stroke-dasharray="125 104" d="M1137.4 2006.7l26.4 54.6 8.4-63.3-26.4-40.5z"/>
<path class="m12" stroke-dasharray="62 481" d="M886.4 1711.8l26.4 56.3 8.4 110.1-26.4 97.4z"/>
<path class="m6" d="M912.7 1768l8.4 110.1"/>
<path class="m13" stroke-dasharray="29 73" d="M635.3 1675l26.4 11.7 8.4 6.2-26.4 9.6z"/>
<path class="m12" d="M661.7 1686.7l8.4 6.2"/>
<path class="m5" stroke-dasharray="35 71" d="M384.3 1927.9l26.4-22.2 8.4-12.5-26.4 18.1z"/>
<path class="m6" d="M410.7 1905.6l8.4-12.5"/>
<path class="m5" d="M392.8 1911.3l-8.4 16.6"/>
<path class="m4" stroke-dasharray="50 174" d="M1180.6 1944.4l26.4-42.2 8.4-59-26.4 44.5z"/>
<path class="m7" d="M1207 1902.2l8.4-59"/>
<path class="m12" stroke-dasharray="27 60" d="M678.6 1710.6l26.4 3.9 8.4 2.8-26.4 9z"/>
<path class="m11" d="M705 1714.5l8.4 2.8"/>
<path class="m8" stroke-dasharray="29 154" d="M1223.9 1818.1l26.4-10.7 8.4-54.9-26.4-0.1z"/>
<path class="m10" d="M1250.2 1807.4l8.4-54.9"/>
<path class="m11" d="M1258.7 1752.5l-26.4-0.1"/>
<path class="m11" stroke-dasharray="28 500" d="M721.8 1726.4l26.4-7.5 8.4 243.1-26.4-14.2z"/>
<path class="m3" d="M748.2 1718.9l8.4 243.1"/>
<path class="m10" stroke-dasharray="27 550" d="M1016.1 1775.8l26.4-4.4 8.4 271.1-26.4-47.9z"/>
<path class="m1" d="M1042.5 1771.5l8.4 271.1"/>
<path class="m6" stroke-dasharray="27 303" d="M765.1 1874.8l26.4-0.4 8.4-132.8-26.4-4.2z"/>
<path class="m11" d="M791.4 1874.4l8.4-132.8"/>
<path class="m1" stroke-dasharray="40 80" d="M1102.6 2040.6l26.4-30.1 8.4-3.7-26.4 44.8z"/>
<path class="m2" d="M1128.9 2010.4l8.4-3.7"/>
<path class="m10" stroke-dasharray="100 220" d="M851.6 1761.9l26.4 96 8.4-146.1-26.4 11.3z"/>
<path class="m12" d="M877.9 1857.9l8.4-146.1"/>
<path class="m12" stroke-dasharray="29 56" d="M600.5 1691.1l26.4-12.4 8.4-3.7-26.4 18.6z"/>
<path class="m13" d="M626.9 1678.7l8.4-3.7"/>
<path class="m4" stroke-dasharray="103 95" d="M1145.8 1957.6l26.4 40.5 8.4-53.6-26.4-33.4z"/>
<path class="m12" stroke-dasharray="48 45" d="M643.8 1702.5l26.4-9.6 8.4 17.6-26.4 2.3z"/>
<path class="m5" stroke-dasharray="32 79" d="M392.8 1911.3l26.4-18.1 8.4-20.1-26.4 31.1z"/>
<path class="m6" d="M419.1 1893.2l8.4-20.1"/>
<path class="m6" d="M401.2 1904.2l-8.4 7.1"/>
<path class="m6" stroke-dasharray="52 122" d="M1189.1 1887.7l26.4-44.5 8.4-25.1-26.4 7.9z"/>
<path class="m8" d="M1215.4 1843.2l8.4-25.1"/>
<path class="m11" stroke-dasharray="41 40" d="M687 1726.3l26.4-9 8.4 9.1-26.4 1.1z"/>
<path class="m10" stroke-dasharray="179 64" d="M981.3 1765.5l26.4 92.5 8.4-82.1-26.4 15.9z"/>
<path class="m5" stroke-dasharray="45 540" d="M479.3 1930.4l26.4-11.3 8.4-13.8-26.4-253.8z"/>
<path class="m3" stroke-dasharray="55 92" d="M1024.5 1994.6l26.4 47.9 8.4 13.7-26.4-45.2z"/>
<path class="m0" d="M1050.9 2042.5l8.4 13.7"/>
<path class="m11" stroke-dasharray="27 351" d="M773.5 1737.5l26.4 4.2 8.4 91.3-26.4 76.8z"/>
<path class="m8" d="M799.9 1741.6l8.4 91.3"/>
<path class="m7" stroke-dasharray="31 398" d="M565.7 1865.3l26.4 14.9 8.4-189.1-26.4-2.3z"/>
<path class="m12" d="M592.1 1880.2l8.4-189.1"/>
<path class="m1" stroke-dasharray="52 158" d="M1111 2051.5l26.4-44.8 8.4-49.2-26.4 36.8z"/>
<path class="m4" d="M1137.4 2006.7l8.4-49.2"/>
<path class="m12" stroke-dasharray="29 534" d="M860 1723.1l26.4-11.3 8.4 263.7-26.4-21.5z"/>
<path class="m3" d="M886.4 1711.8l8.4 263.7"/>
<path class="m13" stroke-dasharray="33 72" d="M609 1693.6l26.4-18.6 8.4 27.5-26.4-1.1z"/>
<path class="m12" d="M635.3 1675l8.4 27.5"/>
<path class="m5" stroke-dasharray="43 145" d="M1154.2 1911l26.4 33.4 8.4-56.7-26.4-23.3z"/>
<path class="m6" d="M1180.6 1944.4l8.4-56.7"/>
<path class="m12" stroke-dasharray="27 63" d="M652.2 1712.9l26.4-2.3 8.4 15.7-26.4-3z"/>
<path class="m11" d="M678.6 1710.6l8.4 15.7"/>
<path class="m6" stroke-dasharray="41 73" d="M401.2 1904.2l26.4-31.1 8.4-9.5-26.4 23.7z"/>
<path class="m7" d="M427.6 1873l8.4-9.5"/>
<path class="m6" d="M409.6 1887.3l-8.4 16.9"/>
<path class="m8" stroke-dasharray="28 164" d="M1197.5 1826l26.4-7.9 8.4-65.8-26.4 9.7z"/>
<path class="m11" d="M1223.9 1818.1l8.4-65.8"/>
<path class="m10" d="M1232.3 1752.4l-26.4 9.7"/>
<path class="m9" stroke-dasharray="111 249" d="M946.5 1795.2l26.4 107.1 8.4-136.8-26.4-33.7z"/>
<path class="m10" d="M972.8 1902.3l8.4-136.8"/>
<path class="m11" stroke-dasharray="27 475" d="M695.5 1727.5l26.4-1.1 8.4 221.3-26.4 1.1z"/>
<path class="m4" d="M721.8 1726.4l8.4 221.3"/>
<path class="m8" stroke-dasharray="29 257" d="M444.5 1842.2l26.4-12.5 8.4 100.7-26.4 25.3z"/>
<path class="m5" d="M470.8 1829.7l8.4 100.7"/>
<path class="m9" stroke-dasharray="31 436" d="M989.7 1791.8l26.4-15.9 8.4 218.8-26.4-39.3z"/>
<path class="m3" d="M1016.1 1775.8l8.4 218.8"/>
<path class="m7" stroke-dasharray="27 298" d="M738.7 1870.7l26.4 4.1 8.4-137.3-26.4 5.9z"/>
<path class="m11" d="M765.1 1874.8l8.4-137.3"/>
<path class="m14" stroke-dasharray="255 321" d="M487.7 1651.5l26.4 253.8 8.4-24.7-26.4 24.1z"/>
<path class="m6" d="M514.1 1905.3l8.4-24.7"/>
<path class="m2" stroke-dasharray="53 87" d="M1033 2011l26.4 45.2 8.4 2.8-26.4-55.4z"/>
<path class="m1" d="M1059.3 2056.2l8.4 2.8"/>
<path class="m0" stroke-dasharray="36 57" d="M1076.2 2064l26.4-23.5 8.4 10.9-26.4 7.7z"/>
<path class="m1" d="M1102.6 2040.6l8.4 10.9"/>
<path class="m7" stroke-dasharray="100 186" d="M825.2 1858.3l26.4-96.3 8.4-38.8-26.4 66.8z"/>
<path class="m12" d="M851.6 1761.9l8.4-38.8"/>
<path class="m13" stroke-dasharray="36 42" d="M574.2 1688.9l26.4 2.3 8.4 2.5-26.4 1.4z"/>
<path class="m3" stroke-dasharray="46 148" d="M1119.4 1994.4l26.4-36.8 8.4-46.6-26.4 26.6z"/>
<path class="m5" d="M1145.8 1957.6l8.4-46.6"/>
<path class="m12" stroke-dasharray="40 54" d="M617.4 1701.4l26.4 1.1 8.4 10.4-26.4 8z"/>
<path class="m7" stroke-dasharray="35 146" d="M1162.7 1864.4l26.4 23.3 8.4-61.7-26.4-10.5z"/>
<path class="m8" d="M1189.1 1887.7l8.4-61.7"/>
<path class="m12" stroke-dasharray="27 63" d="M660.7 1723.3l26.4 3 8.4 1.2-26.4 13.2z"/>
<path class="m11" d="M687 1726.3l8.4 1.2"/>
<path class="m6" stroke-dasharray="36 86" d="M409.6 1887.3l26.4-23.7 8.4-21.4-26.4 31.4z"/>
<path class="m8" d="M436 1863.5l8.4-21.4"/>
<path class="m7" d="M418.1 1873.6l-8.4 13.7"/>
<path class="m11" stroke-dasharray="43 103" d="M954.9 1731.8l26.4 33.7 8.4 26.3-26.4-50.4z"/>
<path class="m9" d="M981.3 1765.5l8.4 26.3"/>
<path class="m4" stroke-dasharray="27 199" d="M703.9 1948.8l26.4-1.1 8.4-77-26.4-9.2z"/>
<path class="m7" d="M730.3 1947.7l8.4-77"/>
<path class="m4" stroke-dasharray="37 591" d="M452.9 1955.8l26.4-25.3 8.4-278.9-26.4 168.7z"/>
<path class="m14" d="M479.3 1930.4l8.4-278.9"/>
<path class="m11" stroke-dasharray="27 383" d="M747.1 1743.4l26.4-5.9 8.4 172.3-26.4 10.1z"/>
<path class="m6" d="M773.5 1737.5l8.4 172.3"/>
<path class="m6" stroke-dasharray="36 113" d="M496.1 1904.7l26.4-24.1 8.4-32.2-26.4 12.3z"/>
<path class="m8" d="M522.5 1880.6l8.4-32.2"/>
<path class="m3" stroke-dasharray="62 85" d="M1041.4 2003.6l26.4 55.4 8.4 5-26.4-43.6z"/>
<path class="m0" d="M1067.8 2059l8.4 5"/>
<path class="m7" stroke-dasharray="28 394" d="M539.4 1873.2l26.4-7.9 8.4-176.4-26.4-0.5z"/>
<path class="m13" d="M565.7 1865.3l8.4-176.4"/>
<path class="m1" stroke-dasharray="28 143" d="M1084.6 2059.2l26.4-7.7 8.4-57.1-26.4 17.9z"/>
<path class="m3" d="M1111 2051.5l8.4-57.1"/>
<path class="m10" stroke-dasharray="72 406" d="M833.6 1789.9l26.4-66.8 8.4 230.9-26.4-65.2z"/>
<path class="m4" d="M860 1723.1l8.4 230.9"/>
<path class="m13" stroke-dasharray="27 60" d="M582.6 1695l26.4-1.4 8.4 7.8-26.4 6.7z"/>
<path class="m12" d="M609 1693.6l8.4 7.8"/>
<path class="m5" stroke-dasharray="38 141" d="M1127.9 1937.6l26.4-26.6 8.4-46.6-26.4 17.4z"/>
<path class="m7" d="M1154.2 1911l8.4-46.6"/>
<path class="m12" stroke-dasharray="41 41" d="M625.9 1720.8l26.4-8 8.4 10.4-26.4 0.7z"/>
<path class="m9" stroke-dasharray="29 148" d="M1171.1 1815.6l26.4 10.5 8.4-64-26.4 2.6z"/>
<path class="m10" d="M1197.5 1826l8.4-64"/>
<path class="m11" d="M1205.9 1762.1l-26.4 2.6"/>
<path class="m11" stroke-dasharray="30 448" d="M669.1 1740.6l26.4-13.2 8.4 221.3-26.4-20.5z"/>
<path class="m4" d="M695.5 1727.5l8.4 221.3"/>
<path class="m7" stroke-dasharray="41 248" d="M418.1 1873.6l26.4-31.4 8.4 113.6-26.4 15.3z"/>
<path class="m4" d="M444.5 1842.2l8.4 113.6"/>
<path class="m4" d="M426.5 1971l-8.4-97.5"/>
<path class="m11" stroke-dasharray="57 461" d="M963.3 1741.4l26.4 50.4 8.4 163.5-26.4 34.4z"/>
<path class="m4" d="M989.7 1791.8l8.4 163.5"/>
<path class="m7" stroke-dasharray="28 279" d="M712.3 1861.5l26.4 9.2 8.4-127.3-26.4-1.1z"/>
<path class="m11" d="M738.7 1870.7l8.4-127.3"/>
<path class="m9" stroke-dasharray="171 377" d="M461.3 1820.2l26.4-168.7 8.4 253.1-26.4 6.4z"/>
<path class="m6" d="M487.7 1651.5l8.4 253.1"/>
<path class="m2" stroke-dasharray="51 79" d="M1049.8 2020.4l26.4 43.6 8.4-4.9-26.4-46z"/>
<path class="m1" d="M1076.2 2064l8.4-4.9"/>
<path class="m11" stroke-dasharray="99 129" d="M798.8 1763.2l26.4 95.1 8.4-68.3-26.4 0.1z"/>
<path class="m10" d="M825.2 1858.3l8.4-68.3"/>
<path class="m13" stroke-dasharray="37 43" d="M547.8 1688.3l26.4 0.5 8.4 6.2-26.4 0z"/>
<path class="m2" stroke-dasharray="32 154" d="M1093.1 2012.3l26.4-17.9 8.4-56.8-26.4 13.3z"/>
<path class="m5" d="M1119.4 1994.4l8.4-56.8"/>
<path class="m12" stroke-dasharray="49 53" d="M591.1 1708.1l26.4-6.7 8.4 19.4-26.4 5.8z"/>
<path class="m7" stroke-dasharray="32 137" d="M1136.3 1881.8l26.4-17.4 8.4-48.9-26.4 16.4z"/>
<path class="m9" d="M1162.7 1864.4l8.4-48.9"/>
<path class="m12" stroke-dasharray="27 74" d="M634.3 1724l26.4-0.7 8.4 17.4-26.4 4.5z"/>
<path class="m11" d="M660.7 1723.3l8.4 17.4"/>
<path class="m7" stroke-dasharray="147 197" d="M928.5 1876.5l26.4-144.8 8.4 9.6-26.4-13.9z"/>
<path class="m11" d="M954.9 1731.8l8.4 9.6"/>
<path class="m4" stroke-dasharray="31 662" d="M426.5 1971l26.4-15.3 8.4-135.6-26.4-183.9z"/>
<path class="m9" d="M452.9 1955.8l8.4-135.6"/>
<path class="m15" d="M435 1636.3l-8.4 334.7"/>
<path class="m11" stroke-dasharray="27 381" d="M720.8 1742.2l26.4 1.1 8.4 176.5-26.4-6.3z"/>
<path class="m5" d="M747.1 1743.4l8.4 176.5"/>
<path class="m6" stroke-dasharray="27 117" d="M469.8 1911.1l26.4-6.4 8.4-44-26.4 15.3z"/>
<path class="m7" d="M496.1 1904.7l8.4-44"/>
<path class="m6" stroke-dasharray="30 278" d="M764 1896.4l26.4-13.2 8.4-120-26.4 8.8z"/>
<path class="m11" d="M790.4 1883.2l8.4-120"/>
<path class="m7" stroke-dasharray="29 406" d="M513 1884.2l26.4-11 8.4-184.8-26.4 8.2z"/>
<path class="m13" d="M539.4 1873.2l8.4-184.8"/>
<path class="m3" stroke-dasharray="53 134" d="M1058.3 2013.1l26.4 46 8.4-46.9-26.4-35.1z"/>
<path class="m2" d="M1084.6 2059.2l8.4-46.9"/>
<path class="m10" stroke-dasharray="27 213" d="M807.3 1790.1l26.4-0.1 8.4 98.8-26.4-36.5z"/>
<path class="m6" d="M833.6 1789.9l8.4 98.8"/>
<path class="m13" stroke-dasharray="27 71" d="M556.2 1695.1l26.4 0 8.4 13.1-26.4 7.7z"/>
<path class="m12" d="M582.6 1695l8.4 13.1"/>
<path class="m5" stroke-dasharray="30 151" d="M1101.5 1950.9l26.4-13.3 8.4-55.8-26.4 7.6z"/>
<path class="m7" d="M1127.9 1937.6l8.4-55.8"/>
<path class="m12" stroke-dasharray="36 53" d="M599.5 1726.6l26.4-5.8 8.4 3.1-26.4 16.3z"/>
<path class="m8" stroke-dasharray="31 147" d="M1144.8 1832l26.4-16.4 8.4-50.9-26.4 5z"/>
<path class="m11" d="M1171.1 1815.6l8.4-50.9"/>
<path class="m11" d="M1179.6 1764.6l-26.4 5"/>
<path class="m11" stroke-dasharray="27 399" d="M642.7 1745.1l26.4-4.5 8.4 187.7-26.4-5z"/>
<path class="m5" d="M669.1 1740.6l8.4 187.7"/>
<path class="m12" stroke-dasharray="30 640" d="M937 1727.5l26.4 13.9 8.4 248.3-26.4 59.1z"/>
<path class="m3" d="M963.3 1741.4l8.4 248.3"/>
<path class="m8" stroke-dasharray="31 255" d="M686 1845.9l26.4 15.6 8.4-119.3-26.4 0.8z"/>
<path class="m11" d="M712.3 1861.5l8.4-119.3"/>
<path class="m15" stroke-dasharray="186 442" d="M435 1636.3l26.4 183.9 8.4 90.9-26.4 30.4z"/>
<path class="m6" d="M461.3 1820.2l8.4 90.9"/>
<path class="m5" d="M443.4 1941.5l-8.4-305.1"/>
<path class="m2" stroke-dasharray="48 230" d="M980.2 2037.9l26.4-39.2 8.4 81.8-26.4-90.4z"/>
<path class="m0" d="M1006.6 1998.8l8.4 81.8"/>
<path class="m0" stroke-dasharray="64 124" d="M1023.5 2078.8l26.4-58.3 8.4-7.3-26.4 83.4z"/>
<path class="m3" d="M1049.8 2020.4l8.4-7.3"/>
<path class="m11" stroke-dasharray="28 94" d="M772.5 1772l26.4-8.8 8.4 26.9-26.4 12.4z"/>
<path class="m10" d="M798.8 1763.2l8.4 26.9"/>
<path class="m13" stroke-dasharray="39 61" d="M521.4 1696.5l26.4-8.2 8.4 6.7-26.4 21.4z"/>
<path class="m4" stroke-dasharray="44 153" d="M1066.7 1977.2l26.4 35.1 8.4-61.4-26.4-23.5z"/>
<path class="m5" d="M1093.1 2012.3l8.4-61.4"/>
<path class="m12" stroke-dasharray="48 51" d="M564.7 1715.9l26.4-7.7 8.4 18.5-26.4 6z"/>
<path class="m7" stroke-dasharray="28 138" d="M1109.9 1889.4l26.4-7.6 8.4-49.8-26.4 2.8z"/>
<path class="m8" d="M1136.3 1881.8l8.4-49.8"/>
<path class="m12" stroke-dasharray="31 63" d="M607.9 1740.3l26.4-16.3 8.4 21.1-26.4-3.8z"/>
<path class="m11" d="M634.3 1724l8.4 21.1"/>
<path class="m12" stroke-dasharray="288 140" d="M902.2 1741.1l26.4 135.4 8.4-149-26.4 71.5z"/>
<path class="m12" stroke-dasharray="27 352" d="M694.4 1743l26.4-0.8 8.4 171.3-26.4-98.1z"/>
<path class="m6" d="M720.8 1742.2l8.4 171.3"/>
<path class="m5" stroke-dasharray="41 120" d="M443.4 1941.5l26.4-30.4 8.4-35.1-26.4 24.4z"/>
<path class="m7" d="M469.8 1911.1l8.4-35.1"/>
<path class="m7" d="M451.8 1900.4l-8.4 41.1"/>
<path class="m3" stroke-dasharray="94 112" d="M988.7 1990.2l26.4 90.4 8.4-1.8-26.4-33.6z"/>
<path class="m0" d="M1015 2080.6l8.4-1.8"/>
<path class="m7" stroke-dasharray="28 251" d="M737.6 1887.6l26.4 8.9 8.4-124.4-26.4 91.1z"/>
<path class="m11" d="M764 1896.4l8.4-124.4"/>
<path class="m6" stroke-dasharray="37 423" d="M486.6 1909.5l26.4-25.3 8.4-187.7-26.4 13.6z"/>
<path class="m13" d="M513 1884.2l8.4-187.7"/>
<path class="m0" stroke-dasharray="88 168" d="M1031.9 2096.5l26.4-83.4 8.4-35.9-26.4 53.9z"/>
<path class="m4" d="M1058.3 2013.1l8.4-35.9"/>
<path class="m10" stroke-dasharray="29 302" d="M780.9 1802.4l26.4-12.4 8.4 62.2-26.4 89.9z"/>
<path class="m8" d="M807.3 1790.1l8.4 62.2"/>
<path class="m12" stroke-dasharray="57 49" d="M529.9 1716.4l26.4-21.4 8.4 20.8-26.4 12.6z"/>
<path class="m6" stroke-dasharray="36 133" d="M1075.1 1927.4l26.4 23.5 8.4-61.5-26.4 0.1z"/>
<path class="m7" d="M1101.5 1950.9l8.4-61.5"/>
<path class="m12" stroke-dasharray="43 51" d="M573.1 1732.6l26.4-6 8.4 13.7-26.4 8.5z"/>
<path class="m9" stroke-dasharray="27 151" d="M1118.4 1834.7l26.4-2.8 8.4-62.4-26.4 12.7z"/>
<path class="m11" d="M1144.8 1832l8.4-62.4"/>
<path class="m10" d="M1153.2 1769.6l-26.4 12.7"/>
<path class="m7" stroke-dasharray="27 293" d="M867.4 1883.1l26.4-3.3 8.4-138.7-26.4 52.7z"/>
<path class="m12" d="M893.7 1879.8l8.4-138.7"/>
<path class="m12" stroke-dasharray="27 382" d="M616.4 1741.3l26.4 3.8 8.4 178.2-26.4-14.1z"/>
<path class="m6" d="M642.7 1745.1l8.4 178.2"/>
<path class="m10" stroke-dasharray="76 660" d="M910.6 1799l26.4-71.5 8.4 321.3-26.4 37.5z"/>
<path class="m2" d="M937 1727.5l8.4 321.3"/>
<path class="m8" stroke-dasharray="30 243" d="M659.6 1858.8l26.4-12.8 8.4-102.9-26.4 10.7z"/>
<path class="m12" d="M686 1845.9l8.4-102.9"/>
<path class="m7" stroke-dasharray="36 90" d="M451.8 1900.4l26.4-24.4 8.4 33.5-26.4 10.5z"/>
<path class="m6" d="M478.2 1876l8.4 33.5"/>
<path class="m6" d="M460.3 1920l-8.4-19.6"/>
<path class="m2" stroke-dasharray="43 87" d="M997.1 2045.2l26.4 33.6 8.4 17.7-26.4-42.4z"/>
<path class="m0" d="M1023.5 2078.8l8.4 17.7"/>
<path class="m8" stroke-dasharray="95 144" d="M746.1 1863.1l26.4-91.1 8.4 30.4-26.4-15.1z"/>
<path class="m10" d="M772.5 1772l8.4 30.4"/>
<path class="m13" stroke-dasharray="30 70" d="M495.1 1710.1l26.4-13.6 8.4 19.9-26.4 7.2z"/>
<path class="m12" d="M521.4 1696.5l8.4 19.9"/>
<path class="m2" stroke-dasharray="60 168" d="M1040.3 2031.1l26.4-53.9 8.4-49.8-26.4 39.3z"/>
<path class="m6" d="M1066.7 1977.2l8.4-49.8"/>
<path class="m12" stroke-dasharray="48 50" d="M538.3 1728.5l26.4-12.6 8.4 16.8-26.4 10z"/>
<path class="m7" stroke-dasharray="27 142" d="M1083.6 1889.5l26.4-0.1 8.4-54.6-26.4 0.1z"/>
<path class="m9" d="M1109.9 1889.4l8.4-54.6"/>
<path class="m12" stroke-dasharray="36 41" d="M581.6 1748.7l26.4-8.5 8.4 1-26.4 7.5z"/>
<path class="m10" stroke-dasharray="118 113" d="M875.8 1793.8l26.4-52.7 8.4 57.8-26.4-52.8z"/>
<path class="m11" stroke-dasharray="29 301" d="M668 1753.7l26.4-10.7 8.4 72.5-26.4 78z"/>
<path class="m9" d="M694.4 1743l8.4 72.5"/>
<path class="m6" stroke-dasharray="29 440" d="M460.3 1920l26.4-10.5 8.4-199.4-26.4 1.5z"/>
<path class="m13" d="M486.6 1909.5l8.4-199.4"/>
<path class="m13" d="M468.7 1711.6l-8.4 208.4"/>
<path class="m2" stroke-dasharray="116 83" d="M1005.5 2054.1l26.4 42.4 8.4-65.4-26.4-20.2z"/>
<path class="m10" stroke-dasharray="31 332" d="M754.5 1787.3l26.4 15.1 8.4 139.7-26.4 4.4z"/>
<path class="m5" d="M780.9 1802.4l8.4 139.7"/>
<path class="m12" stroke-dasharray="42 41" d="M503.5 1723.6l26.4-7.2 8.4 12.1-26.4-3.4z"/>
<path class="m5" stroke-dasharray="48 135" d="M1048.8 1966.7l26.4-39.3 8.4-37.9-26.4 19.5z"/>
<path class="m7" d="M1075.1 1927.4l8.4-37.9"/>
<path class="m12" stroke-dasharray="47 46" d="M546.8 1742.7l26.4-10 8.4 16.1-26.4 5.2z"/>
<path class="m9" stroke-dasharray="27 134" d="M1092 1834.9l26.4-0.1 8.4-52.4-26.4 4.3z"/>
<path class="m10" d="M1118.4 1834.7l8.4-52.4"/>
<path class="m11" d="M1126.8 1782.3l-26.4 4.3"/>
<path class="m12" stroke-dasharray="28 352" d="M590 1748.8l26.4-7.5 8.4 168-26.4-11.3z"/>
<path class="m6" d="M616.4 1741.3l8.4 168"/>
<path class="m12" stroke-dasharray="59 641" d="M884.2 1746.2l26.4 52.8 8.4 287.4-26.4-40.7z"/>
<path class="m1" d="M910.6 1799l8.4 287.4"/>
<path class="m9" stroke-dasharray="38 230" d="M633.2 1832.1l26.4 26.7 8.4-105.1-26.4-11.4z"/>
<path class="m11" d="M659.6 1858.8l8.4-105.1"/>
<path class="m2" stroke-dasharray="39 42" d="M970.7 2049.8l26.4-4.6 8.4 8.9-26.4-7.9z"/>
<path class="m8" stroke-dasharray="27 228" d="M719.7 1860.2l26.4 2.9 8.4-75.8-26.4-31.6z"/>
<path class="m10" d="M746.1 1863.1l8.4-75.8"/>
<path class="m13" stroke-dasharray="27 73" d="M468.7 1711.6l26.4-1.5 8.4 13.5-26.4 9.5z"/>
<path class="m12" d="M495.1 1710.1l8.4 13.5"/>
<path class="m12" d="M477.1 1733.1l-8.4-21.6"/>
<path class="m3" stroke-dasharray="34 172" d="M1014 2010.9l26.4 20.2 8.4-64.4-26.4-22.5z"/>
<path class="m5" d="M1040.3 2031.1l8.4-64.4"/>
<path class="m13" stroke-dasharray="27 62" d="M511.9 1725.1l26.4 3.4 8.4 14.2-26.4-9.4z"/>
<path class="m12" d="M538.3 1728.5l8.4 14.2"/>
<path class="m7" stroke-dasharray="33 150" d="M1057.2 1909l26.4-19.5 8.4-54.6-26.4 16.4z"/>
<path class="m9" d="M1083.6 1889.5l8.4-54.6"/>
<path class="m12" stroke-dasharray="36 42" d="M555.2 1753.9l26.4-5.2 8.4 0-26.4 8.2z"/>
<path class="m2" stroke-dasharray="49 73" d="M892.7 2045.6l26.4 40.7 8.4-2.4-26.4-42z"/>
<path class="m1" d="M919 2086.3l8.4-2.4"/>
<path class="m12" stroke-dasharray="29 343" d="M641.7 1742.3l26.4 11.4 8.4 139.8-26.4 15.2z"/>
<path class="m7" d="M668 1753.7l8.4 139.8"/>
<path class="m1" stroke-dasharray="43 81" d="M935.9 2083.4l26.4-33 8.4-0.6-26.4 45.2z"/>
<path class="m2" d="M962.3 2050.4l8.4-0.6"/>
<path class="m2" stroke-dasharray="28 102" d="M979.2 2046.2l26.4 7.9 8.4-43.2-26.4 15.5z"/>
<path class="m3" d="M1005.5 2054.1l8.4-43.2"/>
<path class="m12" stroke-dasharray="41 375" d="M728.2 1755.8l26.4 31.6 8.4 159.2-26.4-8.1z"/>
<path class="m5" d="M754.5 1787.3l8.4 159.2"/>
<path class="m12" stroke-dasharray="28 66" d="M477.1 1733.1l26.4-9.5 8.4 1.5-26.4 22.8z"/>
<path class="m13" d="M503.5 1723.6l8.4 1.5"/>
<path class="m12" d="M485.6 1747.9l-8.4-14.8"/>
<path class="m5" stroke-dasharray="35 123" d="M1022.4 1944.2l26.4 22.5 8.4-57.7-26.4 4.2z"/>
<path class="m7" d="M1048.8 1966.7l8.4-57.7"/>
<path class="m12" stroke-dasharray="42 71" d="M520.4 1733.3l26.4 9.4 8.4 11.3-26.4 13.8z"/>
<path class="m9" stroke-dasharray="31 139" d="M1065.6 1851.3l26.4-16.4 8.4-48.2-26.4 8.9z"/>
<path class="m11" d="M1092 1834.9l8.4-48.2"/>
<path class="m10" d="M1100.5 1786.6l-26.4 8.9"/>
<path class="m12" stroke-dasharray="28 371" d="M563.6 1756.9l26.4-8.2 8.4 149.2-26.4 32.7z"/>
<path class="m7" d="M590 1748.8l8.4 149.2"/>
<path class="m11" stroke-dasharray="36 586" d="M857.9 1769.9l26.4-23.7 8.4 299.5-26.4-70.3z"/>
<path class="m2" d="M884.2 1746.2l8.4 299.5"/>
<path class="m9" stroke-dasharray="31 222" d="M606.9 1848.2l26.4-16.1 8.4-89.8-26.4 7.9z"/>
<path class="m12" d="M633.2 1832.1l8.4-89.8"/>
<path class="m2" stroke-dasharray="50 68" d="M901.1 2041.9l26.4 42 8.4-0.5-26.4-34.6z"/>
<path class="m1" d="M927.5 2083.9l8.4-0.5"/>
<path class="m1" stroke-dasharray="53 79" d="M944.4 2095l26.4-45.2 8.4-3.6-26.4 49.2z"/>
<path class="m2" d="M970.7 2049.8l8.4-3.6"/>
<path class="m3" stroke-dasharray="31 166" d="M987.6 2026.4l26.4-15.5 8.4-66.7-26.4 27.2z"/>
<path class="m5" d="M1014 2010.9l8.4-66.7"/>
<path class="m12" stroke-dasharray="47 56" d="M485.6 1747.9l26.4-22.8 8.4 8.2-26.4 25.4z"/>
<path class="m12" d="M494 1758.7l-8.4-10.7"/>
<path class="m7" stroke-dasharray="27 148" d="M1030.8 1913.1l26.4-4.2 8.4-57.7-26.4 5.6z"/>
<path class="m9" d="M1057.2 1909l8.4-57.7"/>
<path class="m11" stroke-dasharray="30 59" d="M528.8 1767.7l26.4-13.8 8.4 3-26.4 19.5z"/>
<path class="m12" d="M555.2 1753.9l8.4 3"/>
<path class="m9" stroke-dasharray="30 215" d="M823.1 1854.7l26.4 12.8 8.4-97.6-26.4 0z"/>
<path class="m11" d="M849.4 1867.5l8.4-97.6"/>
<path class="m12" stroke-dasharray="28 343" d="M615.3 1750.2l26.4-7.9 8.4 166.4-26.4-21.7z"/>
<path class="m7" d="M641.7 1742.3l8.4 166.4"/>
<path class="m2" stroke-dasharray="44 80" d="M909.6 2048.9l26.4 34.6 8.4 11.5-26.4-45z"/>
<path class="m1" d="M935.9 2083.4l8.4 11.5"/>
<path class="m1" stroke-dasharray="56 113" d="M952.8 2095.3l26.4-49.2 8.4-19.8-26.4 13.5z"/>
<path class="m3" d="M979.2 2046.2l8.4-19.8"/>
<path class="m11" stroke-dasharray="37 349" d="M701.8 1781.6l26.4-25.8 8.4 182.7-26.4-101.5z"/>
<path class="m6" d="M728.2 1755.8l8.4 182.7"/>
<path class="m5" stroke-dasharray="38 122" d="M996 1971.4l26.4-27.2 8.4-31.1-26.4 0.5z"/>
<path class="m7" d="M1022.4 1944.2l8.4-31.1"/>
<path class="m12" stroke-dasharray="37 77" d="M494 1758.7l26.4-25.4 8.4 34.4-26.4-5.8z"/>
<path class="m11" d="M520.4 1733.3l8.4 34.4"/>
<path class="m12" d="M502.5 1761.9l-8.4-3.2"/>
<path class="m9" stroke-dasharray="27 142" d="M1039.3 1856.9l26.4-5.6 8.4-55.7-26.4 9.7z"/>
<path class="m10" d="M1065.6 1851.3l8.4-55.7"/>
<path class="m10" d="M1074.1 1795.5l-26.4 9.7"/>
<path class="m11" stroke-dasharray="33 397" d="M537.3 1776.4l26.4-19.5 8.4 173.7-26.4 26.1z"/>
<path class="m6" d="M563.6 1756.9l8.4 173.7"/>
<path class="m11" stroke-dasharray="27 458" d="M831.5 1769.9l26.4 0 8.4 205.4-26.4 12.4z"/>
<path class="m5" d="M857.9 1769.9l8.4 205.4"/>
<path class="m8" stroke-dasharray="30 229" d="M580.5 1862.1l26.4-14 8.4-98-26.4 21.7z"/>
<path class="m12" d="M606.9 1848.2l8.4-98"/>
<path class="m2" stroke-dasharray="52 85" d="M918 2049.9l26.4 45 8.4 0.4-26.4-53.4z"/>
<path class="m1" d="M944.4 2095l8.4 0.4"/>
<path class="m9" stroke-dasharray="28 169" d="M667 1852.3l26.4 7.9 8.4-78.7-26.4 20.2z"/>
<path class="m11" d="M693.3 1860.2l8.4-78.7"/>
<path class="m3" stroke-dasharray="30 143" d="M961.2 2039.9l26.4-13.5 8.4-55-26.4 20.6z"/>
<path class="m5" d="M987.6 2026.4l8.4-55"/>
<path class="m7" stroke-dasharray="27 140" d="M1004.5 1913.6l26.4-0.5 8.4-56.2-26.4 7z"/>
<path class="m9" d="M1030.8 1913.1l8.4-56.2"/>
<path class="m12" stroke-dasharray="27 60" d="M502.5 1761.9l26.4 5.8 8.4 8.7-26.4-1.2z"/>
<path class="m11" d="M528.8 1767.7l8.4 8.7"/>
<path class="m12" d="M510.9 1775.1l-8.4-13.3"/>
<path class="m9" stroke-dasharray="27 189" d="M796.7 1860.6l26.4-5.9 8.4-84.8-26.4 54.3z"/>
<path class="m11" d="M823.1 1854.7l8.4-84.8"/>
<path class="m4" stroke-dasharray="29 219" d="M839.9 1987.7l26.4-12.4 8.4 80.1-26.4-98.2z"/>
<path class="m2" d="M866.3 1975.3l8.4 80.1"/>
<path class="m12" stroke-dasharray="34 331" d="M588.9 1771.9l26.4-21.7 8.4 136.8-26.4 31.6z"/>
<path class="m8" d="M615.3 1750.2l8.4 136.8"/>
<path class="m3" stroke-dasharray="116 80" d="M926.4 2042l26.4 53.4 8.4-55.4-26.4-30.8z"/>
<path class="m11" stroke-dasharray="34 158" d="M675.4 1801.8l26.4-20.2 8.4 55.4-26.4 24.8z"/>
<path class="m9" d="M701.8 1781.6l8.4 55.4"/>
<path class="m4" stroke-dasharray="34 156" d="M969.7 1992l26.4-20.6 8.4-57.8-26.4 19.4z"/>
<path class="m7" d="M996 1971.4l8.4-57.8"/>
<path class="m9" stroke-dasharray="28 133" d="M1012.9 1863.9l26.4-7 8.4-51.6-26.4 13.5z"/>
<path class="m10" d="M1039.3 1856.9l8.4-51.6"/>
<path class="m10" d="M1047.7 1805.2l-26.4 13.5"/>
<path class="m12" stroke-dasharray="27 434" d="M510.9 1775.1l26.4 1.2 8.4 180.4-26.4 27.6z"/>
<path class="m5" d="M537.3 1776.4l8.4 180.4"/>
<path class="m5" d="M519.3 1984.3l-8.4-209.2"/>
<path class="m10" stroke-dasharray="61 392" d="M805.1 1824.2l26.4-54.3 8.4 217.9-26.4-77.1z"/>
<path class="m4" d="M831.5 1769.9l8.4 217.9"/>
<path class="m8" stroke-dasharray="38 244" d="M554.1 1889.7l26.4-27.5 8.4-90.3-26.4-2.8z"/>
<path class="m12" d="M580.5 1862.1l8.4-90.3"/>
<path class="m6" stroke-dasharray="102 123" d="M848.4 1957.2l26.4 98.2 8.4-3.5-26.4-19.9z"/>
<path class="m2" d="M874.8 2055.4l8.4-3.5"/>
<path class="m9" stroke-dasharray="27 168" d="M640.6 1855.7l26.4-3.4 8.4-50.5-26.4-22z"/>
<path class="m11" d="M667 1852.3l8.4-50.5"/>
<path class="m4" stroke-dasharray="90 91" d="M934.9 2009.1l26.4 30.8 8.4-47.9-26.4-28.6z"/>
<path class="m6" stroke-dasharray="33 142" d="M978.1 1933l26.4-19.4 8.4-49.7-26.4 13.6z"/>
<path class="m9" d="M1004.5 1913.6l8.4-49.7"/>
<path class="m11" stroke-dasharray="68 91" d="M770.3 1798.1l26.4 62.5 8.4-36.5-26.4-6.9z"/>
<path class="m10" d="M796.7 1860.6l8.4-36.5"/>
<path class="m5" stroke-dasharray="38 186" d="M519.3 1984.3l26.4-27.6 8.4-67.1-26.4 10.2z"/>
<path class="m8" d="M545.7 1956.7l8.4-67.1"/>
<path class="m8" d="M527.8 1899.8l-8.4 84.5"/>
<path class="m7" stroke-dasharray="82 187" d="M813.6 1910.6l26.4 77.1 8.4-30.5-26.4 48.2z"/>
<path class="m6" d="M839.9 1987.7l8.4-30.5"/>
<path class="m12" stroke-dasharray="27 381" d="M562.6 1769.1l26.4 2.8 8.4 146.7-26.4 35.1z"/>
<path class="m7" d="M588.9 1771.9l8.4 146.7"/>
<path class="m3" stroke-dasharray="42 46" d="M856.8 2032l26.4 19.9 8.4-3-26.4-6.7z"/>
<path class="m2" stroke-dasharray="35 116" d="M900.1 2064.4l26.4-22.5 8.4-32.9-26.4 6.1z"/>
<path class="m4" d="M926.4 2042l8.4-32.9"/>
<path class="m12" stroke-dasharray="35 316" d="M649 1779.8l26.4 22 8.4 60-26.4 81.8z"/>
<path class="m9" d="M675.4 1801.8l8.4 60"/>
<path class="m6" stroke-dasharray="99 84" d="M943.3 1963.4l26.4 28.6 8.4-59-26.4-16.6z"/>
<path class="m8" stroke-dasharray="30 133" d="M986.5 1877.5l26.4-13.6 8.4-45.2-26.4 4.6z"/>
<path class="m10" d="M1012.9 1863.9l8.4-45.2"/>
<path class="m10" d="M1021.3 1818.7l-26.4 4.6"/>
<path class="m12" stroke-dasharray="109 153" d="M735.5 1779.3l26.4 105.1 8.4-86.3-26.4 12.2z"/>
<path class="m11" d="M761.9 1884.4l8.4-86.3"/>
<path class="m10" stroke-dasharray="28 209" d="M778.8 1817.2l26.4 6.9 8.4 86.4-26.4-3.3z"/>
<path class="m7" d="M805.1 1824.2l8.4 86.4"/>
<path class="m8" stroke-dasharray="29 269" d="M527.8 1899.8l26.4-10.2 8.4-120.5-26.4 23.5z"/>
<path class="m12" d="M554.1 1889.7l8.4-120.5"/>
<path class="m11" d="M536.2 1792.6l-8.4 107.2"/>
<path class="m4" stroke-dasharray="55 227" d="M822 2005.4l26.4-48.2 8.4 74.8-26.4-84.2z"/>
<path class="m3" d="M848.4 1957.2l8.4 74.8"/>
<path class="m3" stroke-dasharray="28 65" d="M865.3 2042.1l26.4 6.7 8.4 15.6-26.4-14.5z"/>
<path class="m2" d="M891.6 2048.8l8.4 15.6"/>
<path class="m8" stroke-dasharray="38 194" d="M614.2 1883.2l26.4-27.4 8.4-76-26.4 39.7z"/>
<path class="m12" d="M640.6 1855.7l8.4-76"/>
<path class="m4" stroke-dasharray="27 124" d="M908.5 2015.2l26.4-6.1 8.4-45.7-26.4 7.8z"/>
<path class="m6" d="M934.9 2009.1l8.4-45.7"/>
<path class="m7" stroke-dasharray="31 138" d="M951.7 1916.4l26.4 16.6 8.4-55.5-26.4-9z"/>
<path class="m8" d="M978.1 1933l8.4-55.5"/>
<path class="m11" stroke-dasharray="29 93" d="M744 1810.3l26.4-12.2 8.4 19.1-26.4-31.1z"/>
<path class="m10" d="M770.3 1798.1l8.4 19.1"/>
<path class="m8" stroke-dasharray="27 211" d="M787.2 1907.2l26.4 3.3 8.4 94.8-26.4-25z"/>
<path class="m4" d="M813.6 1910.6l8.4 94.8"/>
<path class="m11" stroke-dasharray="36 410" d="M536.2 1792.6l26.4-23.5 8.4 184.6-26.4 23.4z"/>
<path class="m6" d="M562.6 1769.1l8.4 184.6"/>
<path class="m5" d="M544.6 1977.2l-8.4-184.6"/>
<path class="m6" stroke-dasharray="89 120" d="M830.5 1947.8l26.4 84.2 8.4 10.1-26.4-55.8z"/>
<path class="m3" d="M856.8 2032l8.4 10.1"/>
<path class="m3" stroke-dasharray="30 125" d="M873.7 2049.9l26.4 14.5 8.4-49.2-26.4-6.5z"/>
<path class="m4" d="M900.1 2064.4l8.4-49.2"/>
<path class="m10" stroke-dasharray="48 381" d="M622.7 1819.5l26.4-39.7 8.4 163.9-26.4 39.7z"/>
<path class="m6" d="M649 1779.8l8.4 163.9"/>
<path class="m6" stroke-dasharray="28 126" d="M916.9 1971.1l26.4-7.8 8.4-47-26.4 12.3z"/>
<path class="m7" d="M943.3 1963.4l8.4-47"/>
<path class="m9" stroke-dasharray="28 120" d="M960.2 1868.5l26.4 9 8.4-54.2-26.4 21.1z"/>
<path class="m10" d="M986.5 1877.5l8.4-54.2"/>
<path class="m10" d="M995 1823.3l-26.4 21.1"/>
<path class="m8" stroke-dasharray="112 186" d="M709.2 1887.5l26.4-108.3 8.4 31-26.4-30.6z"/>
<path class="m11" d="M735.5 1779.3l8.4 31"/>
<path class="m12" stroke-dasharray="41 401" d="M752.4 1786.2l26.4 31.1 8.4 90-26.4 90z"/>
<path class="m8" d="M778.8 1817.2l8.4 90"/>
<path class="m5" stroke-dasharray="37 113" d="M795.6 1980.4l26.4 25 8.4-57.6-26.4 15.6z"/>
<path class="m6" d="M822 2005.4l8.4-57.6"/>
<path class="m5" stroke-dasharray="36 118" d="M544.6 1977.2l26.4-23.4 8.4-38.7-26.4 34z"/>
<path class="m7" d="M571 1953.7l8.4-38.7"/>
<path class="m6" d="M553.1 1948.9l-8.4 28.2"/>
<path class="m5" stroke-dasharray="62 90" d="M838.9 1986.3l26.4 55.8 8.4 7.8-26.4-53z"/>
<path class="m3" d="M865.3 2042.1l8.4 7.8"/>
<path class="m4" stroke-dasharray="27 125" d="M882.1 2008.7l26.4 6.5 8.4-44.1-26.4-8.5z"/>
<path class="m6" d="M908.5 2015.2l8.4-44.1"/>
<path class="m7" stroke-dasharray="29 133" d="M925.4 1928.7l26.4-12.3 8.4-47.9-26.4 10.6z"/>
<path class="m9" d="M951.7 1916.4l8.4-47.9"/>
<path class="m12" stroke-dasharray="66 77" d="M717.6 1779.7l26.4 30.6 8.4-24.2-26.4 26.5z"/>
<path class="m5" stroke-dasharray="168 81" d="M760.8 1997.3l26.4-90 8.4 73.2-26.4-23.2z"/>
<path class="m6" stroke-dasharray="31 108" d="M804.1 1963.4l26.4-15.6 8.4 38.5-26.4-37.5z"/>
<path class="m5" d="M830.5 1947.8l8.4 38.5"/>
<path class="m6" stroke-dasharray="43 85" d="M553.1 1948.9l26.4-34 8.4-14.9-26.4 22.7z"/>
<path class="m8" d="M579.4 1915l8.4-14.9"/>
<path class="m7" d="M561.5 1922.8l-8.4 26.1"/>
<path class="m5" stroke-dasharray="59 133" d="M847.3 1996.9l26.4 53 8.4-41.3-26.4-44.4z"/>
<path class="m4" d="M873.7 2049.9l8.4-41.3"/>
<path class="m10" stroke-dasharray="39 378" d="M596.3 1848.4l26.4-28.9 8.4 163.8-26.4 32.1z"/>
<path class="m5" d="M622.7 1819.5l8.4 163.8"/>
<path class="m6" stroke-dasharray="28 105" d="M890.6 1962.6l26.4 8.5 8.4-42.4-26.4 5.9z"/>
<path class="m7" d="M916.9 1971.1l8.4-42.4"/>
<path class="m9" stroke-dasharray="29 98" d="M933.8 1879.1l26.4-10.6 8.4-24.1-26.4-4.8z"/>
<path class="m10" d="M960.2 1868.5l8.4-24.1"/>
<path class="m10" d="M968.6 1844.4l-26.4-4.8"/>
<path class="m10" stroke-dasharray="51 237" d="M682.8 1844.3l26.4 43.3 8.4-107.9-26.4 91.2z"/>
<path class="m12" d="M709.2 1887.5l8.4-107.9"/>
<path class="m11" stroke-dasharray="38 430" d="M726 1812.7l26.4-26.5 8.4 211.1-26.4 1.7z"/>
<path class="m5" d="M752.4 1786.2l8.4 211.1"/>
<path class="m6" stroke-dasharray="54 189" d="M769.3 1957.3l26.4 23.2 8.4-17-26.4-92.8z"/>
<path class="m7" stroke-dasharray="46 83" d="M812.5 1948.8l26.4 37.5 8.4 10.6-26.4-48.7z"/>
<path class="m5" d="M838.9 1986.3l8.4 10.6"/>
<path class="m7" stroke-dasharray="35 153" d="M561.5 1922.8l26.4-22.7 8.4-51.6-26.4 7.2z"/>
<path class="m10" d="M587.9 1900.1l8.4-51.6"/>
<path class="m10" d="M569.9 1855.7l-8.4 67.1"/>
<path class="m6" stroke-dasharray="99 72" d="M855.8 1964.3l26.4 44.4 8.4-46-26.4-26.5z"/>
<path class="m4" stroke-dasharray="42 107" d="M604.7 2015.4l26.4-32.1 8.4-29.4-26.4 39.6z"/>
<path class="m6" d="M631.1 1983.3l8.4-29.4"/>
<path class="m7" stroke-dasharray="27 126" d="M899 1934.6l26.4-5.9 8.4-49.6-26.4 19.2z"/>
<path class="m9" d="M925.4 1928.7l8.4-49.6"/>
<path class="m9" stroke-dasharray="95 113" d="M691.2 1870.9l26.4-91.2 8.4 33-26.4 15.9z"/>
<path class="m11" d="M717.6 1779.7l8.4 33"/>
<path class="m5" stroke-dasharray="27 154" d="M734.5 1999l26.4-1.7 8.4-40-26.4-27.6z"/>
<path class="m6" d="M760.8 1997.3l8.4-40"/>
<path class="m9" stroke-dasharray="97 109" d="M777.7 1870.5l26.4 92.8 8.4-14.6-26.4-42.7z"/>
<path class="m7" d="M804.1 1963.4l8.4-14.6"/>
<path class="m7" stroke-dasharray="56 110" d="M821 1948.2l26.4 48.7 8.4-32.6-26.4-38.4z"/>
<path class="m6" d="M847.3 1996.9l8.4-32.6"/>
<path class="m10" stroke-dasharray="28 413" d="M569.9 1855.7l26.4-7.2 8.4 166.9-26.4 36z"/>
<path class="m4" d="M596.3 1848.4l8.4 166.9"/>
<path class="m3" d="M578.4 2051.4l-8.4-195.7"/>
<path class="m7" stroke-dasharray="67 69" d="M864.2 1936.1l26.4 26.5 8.4-28-26.4-24.3z"/>
<path class="m5" stroke-dasharray="48 86" d="M613.2 1993.5l26.4-39.6 8.4-14.1-26.4 38.6z"/>
<path class="m7" d="M639.6 1953.8l8.4-14.1"/>
<path class="m8" stroke-dasharray="33 119" d="M907.4 1898.2l26.4-19.2 8.4-39.4-26.4 18.2z"/>
<path class="m10" d="M933.8 1879.1l8.4-39.4"/>
<path class="m10" d="M942.2 1839.6l-26.4 18.2"/>
<path class="m11" stroke-dasharray="31 368" d="M699.7 1828.6l26.4-15.9 8.4 186.3-26.4-63.5z"/>
<path class="m5" d="M726 1812.7l8.4 186.3"/>
<path class="m7" stroke-dasharray="38 167" d="M742.9 1929.7l26.4 27.6 8.4-86.7-26.4 17.9z"/>
<path class="m9" d="M769.3 1957.3l8.4-86.7"/>
<path class="m8" stroke-dasharray="50 78" d="M786.2 1906.1l26.4 42.7 8.4-0.6-26.4-47.4z"/>
<path class="m7" d="M812.5 1948.8l8.4-0.6"/>
<path class="m8" stroke-dasharray="47 106" d="M829.4 1925.9l26.4 38.4 8.4-28.2-26.4-35.7z"/>
<path class="m7" d="M855.8 1964.3l8.4-28.2"/>
<path class="m3" stroke-dasharray="45 97" d="M578.4 2051.4l26.4-36 8.4-21.9-26.4 36.1z"/>
<path class="m5" d="M604.7 2015.4l8.4-21.9"/>
<path class="m4" d="M586.8 2029.6l-8.4 21.8"/>
<path class="m8" stroke-dasharray="73 63" d="M872.6 1910.3l26.4 24.3 8.4-36.4-26.4-14.3z"/>
<path class="m6" stroke-dasharray="47 84" d="M621.6 1978.3l26.4-38.6 8.4-12.3-26.4 26.6z"/>
<path class="m7" d="M648 1939.7l8.4-12.3"/>
<path class="m7" stroke-dasharray="139 43" d="M708.1 1935.4l26.4 63.5 8.4-69.3-26.4-1.3z"/>
<path class="m9" stroke-dasharray="32 94" d="M751.3 1888.5l26.4-17.9 8.4 35.6-26.4-28.2z"/>
<path class="m8" d="M777.7 1870.5l8.4 35.6"/>
<path class="m9" stroke-dasharray="55 90" d="M794.6 1900.8l26.4 47.4 8.4-22.3-26.4-37.6z"/>
<path class="m8" d="M821 1948.2l8.4-22.3"/>
<path class="m9" stroke-dasharray="45 84" d="M837.8 1900.4l26.4 35.7 8.4-25.8-26.4-23.2z"/>
<path class="m8" d="M864.2 1936.1l8.4-25.8"/>
<path class="m4" stroke-dasharray="45 87" d="M586.8 2029.6l26.4-36.1 8.4-15.2-26.4 23z"/>
<path class="m6" d="M613.2 1993.5l8.4-15.2"/>
<path class="m5" d="M595.3 2001.3l-8.4 28.3"/>
<path class="m9" stroke-dasharray="30 93" d="M881.1 1883.9l26.4 14.3 8.4-40.4-26.4 10.4z"/>
<path class="m10" d="M907.4 1898.2l8.4-40.4"/>
<path class="m10" d="M915.9 1857.9l-26.4 10.4"/>
<path class="m10" stroke-dasharray="36 356" d="M673.3 1852.3l26.4-23.6 8.4 106.8-26.4 77.7z"/>
<path class="m7" d="M699.7 1828.6l8.4 106.8"/>
<path class="m8" stroke-dasharray="27 240" d="M716.5 1928.4l26.4 1.3 8.4-41.2-26.4-73.6z"/>
<path class="m9" d="M742.9 1929.7l8.4-41.2"/>
<path class="m9" stroke-dasharray="49 81" d="M759.8 1877.9l26.4 28.2 8.4-5.3-26.4-45.1z"/>
<path class="m9" stroke-dasharray="73 43" d="M803 1888.3l26.4 37.6 8.4-25.5-26.4-13z"/>
<path class="m9" stroke-dasharray="63 40" d="M846.3 1887.1l26.4 23.2 8.4-26.4-26.4 1.9z"/>
<path class="m5" stroke-dasharray="35 93" d="M595.3 2001.3l26.4-23 8.4-24.3-26.4 20.4z"/>
<path class="m7" d="M621.6 1978.3l8.4-24.3"/>
<path class="m6" d="M603.7 1974.3l-8.4 26.9"/>
<path class="m5" stroke-dasharray="82 116" d="M681.7 2013.1l26.4-77.7 8.4-7-26.4 17.6z"/>
<path class="m8" d="M708.1 1935.4l8.4-7"/>
<path class="m12" stroke-dasharray="78 108" d="M725 1814.9l26.4 73.6 8.4-10.6-26.4-0.9z"/>
<path class="m9" d="M751.3 1888.5l8.4-10.6"/>
<path class="m10" stroke-dasharray="53 69" d="M768.2 1855.8l26.4 45.1 8.4-12.5-26.4-28.8z"/>
<path class="m9" d="M794.6 1900.8l8.4-12.5"/>
<path class="m9" stroke-dasharray="45 59" d="M811.5 1887.4l26.4 13 8.4-13.3-26.4-18.8z"/>
<path class="m9" stroke-dasharray="27 70" d="M854.7 1885.9l26.4-1.9 8.4-15.7-26.4-0.3z"/>
<path class="m10" d="M881.1 1883.9l8.4-15.7"/>
<path class="m10" d="M889.5 1868.2l-26.4-0.3"/>
<path class="m6" stroke-dasharray="34 107" d="M603.7 1974.3l26.4-20.4 8.4-34-26.4 27.5z"/>
<path class="m8" d="M630.1 1953.9l8.4-34"/>
<path class="m7" d="M612.1 1947.4l-8.4 26.9"/>
<path class="m10" stroke-dasharray="36 385" d="M646.9 1876.7l26.4-24.5 8.4 160.8-26.4 36.5z"/>
<path class="m5" d="M673.3 1852.3l8.4 160.8"/>
<path class="m7" stroke-dasharray="32 255" d="M690.2 1946l26.4-17.6 8.4-113.5-26.4 92.2z"/>
<path class="m12" d="M716.5 1928.4l8.4-113.5"/>
<path class="m10" stroke-dasharray="39 65" d="M776.7 1859.5l26.4 28.8 8.4-0.9-26.4-32z"/>
<path class="m9" d="M803 1888.3l8.4-0.9"/>
<path class="m10" stroke-dasharray="33 53" d="M819.9 1868.3l26.4 18.8 8.4-1.3-26.4-15.3z"/>
<path class="m9" d="M846.3 1887.1l8.4-1.3"/>
<path class="m7" stroke-dasharray="38 140" d="M612.1 1947.4l26.4-27.5 8.4-43.2-26.4 8.2z"/>
<path class="m10" d="M638.5 1919.9l8.4-43.2"/>
<path class="m10" d="M620.6 1885l-8.4 62.4"/>
<path class="m4" stroke-dasharray="45 185" d="M655.4 2049.6l26.4-36.5 8.4-67.1-26.4 41.1z"/>
<path class="m7" d="M681.7 2013.1l8.4-67.1"/>
<path class="m9" stroke-dasharray="96 115" d="M698.6 1907l26.4-92.2 8.4 62.1-26.4 17.1z"/>
<path class="m10" d="M725 1814.9l8.4 62.1"/>
<path class="m10" stroke-dasharray="63 43" d="M785.1 1855.4l26.4 32 8.4-19-26.4-6.3z"/>
<path class="m10" stroke-dasharray="51 42" d="M828.3 1870.5l26.4 15.3 8.4-18-26.4-2.2z"/>
<path class="m10" d="M863.1 1867.9l-26.4-2.2"/>
<path class="m10" stroke-dasharray="28 436" d="M620.6 1885l26.4-8.2 8.4 172.9-26.4 42.6z"/>
<path class="m4" d="M646.9 1876.7l8.4 172.9"/>
<path class="m3" d="M629 2092.2l-8.4-207.2"/>
<path class="m6" stroke-dasharray="49 137" d="M663.8 1987l26.4-41.1 8.4-38.9-26.4 25.1z"/>
<path class="m9" d="M690.2 1946l8.4-38.9"/>
<path class="m9" stroke-dasharray="32 88" d="M707 1894.2l26.4-17.1 8.4-23.7-26.4 15.4z"/>
<path class="m11" d="M733.4 1877l8.4-23.7"/>
<path class="m11" stroke-dasharray="29 51" d="M750.3 1847.5l26.4 12 8.4-4.1-26.4-9.1z"/>
<path class="m10" d="M776.7 1859.5l8.4-4.1"/>
<path class="m10" stroke-dasharray="36 44" d="M793.5 1862.1l26.4 6.3 8.4 2.2-26.4-12.1z"/>
<path class="m3" stroke-dasharray="50 188" d="M629 2092.2l26.4-42.6 8.4-62.6-26.4 18.2z"/>
<path class="m6" d="M655.4 2049.6l8.4-62.6"/>
<path class="m6" d="M637.4 2005.2l-8.4 87"/>
<path class="m8" stroke-dasharray="37 82" d="M672.2 1932.1l26.4-25.1 8.4-12.9-26.4 4.6z"/>
<path class="m9" d="M698.6 1907l8.4-12.9"/>
<path class="m10" stroke-dasharray="31 57" d="M715.5 1868.8l26.4-15.4 8.4-5.8-26.4 15.6z"/>
<path class="m11" d="M741.9 1853.3l8.4-5.8"/>
<path class="m11" stroke-dasharray="28 55" d="M758.7 1846.3l26.4 9.1 8.4 6.6-26.4-10z"/>
<path class="m10" d="M785.1 1855.4l8.4 6.6"/>
<path class="m11" stroke-dasharray="29 51" d="M802 1858.4l26.4 12.1 8.4-4.9-26.4-8.3z"/>
<path class="m10" d="M828.3 1870.5l8.4-4.9"/>
<path class="m11" d="M836.8 1865.6l-26.4-8.3"/>
<path class="m6" stroke-dasharray="32 147" d="M637.4 2005.2l26.4-18.2 8.4-54.9-26.4 22.2z"/>
<path class="m8" d="M663.8 1987l8.4-54.9"/>
<path class="m8" d="M645.9 1954.3l-8.4 50.9"/>
<path class="m9" stroke-dasharray="27 78" d="M680.7 1898.7l26.4-4.6 8.4-25.4-26.4 19.9z"/>
<path class="m10" d="M707 1894.2l8.4-25.4"/>
<path class="m11" stroke-dasharray="39 51" d="M723.9 1863.1l26.4-15.6 8.4-1.2-26.4 23.1z"/>
<path class="m11" stroke-dasharray="38 49" d="M767.2 1852.1l26.4 10 8.4-3.6-26.4 7.1z"/>
<path class="m8" stroke-dasharray="35 111" d="M645.9 1954.3l26.4-22.2 8.4-33.4-26.4 17.1z"/>
<path class="m9" d="M672.2 1932.1l8.4-33.4"/>
<path class="m9" d="M654.3 1915.8l-8.4 38.5"/>
<path class="m10" stroke-dasharray="33 59" d="M689.1 1888.7l26.4-19.9 8.4-5.7-26.4 19.2z"/>
<path class="m11" d="M715.5 1868.8l8.4-5.7"/>
<path class="m10" stroke-dasharray="35 56" d="M732.4 1869.4l26.4-23.1 8.4 5.8-26.4 7.6z"/>
<path class="m11" d="M758.7 1846.3l8.4 5.8"/>
<path class="m11" stroke-dasharray="36 41" d="M775.6 1865.6l26.4-7.1 8.4-1.1-26.4 6z"/>
<path class="m11" d="M810.4 1857.3l-26.4 6"/>
<path class="m9" stroke-dasharray="32 64" d="M654.3 1915.8l26.4-17.1 8.4-10-26.4 13.3z"/>
<path class="m10" d="M680.7 1898.7l8.4-10"/>
<path class="m10" d="M662.7 1902l-8.4 13.8"/>
<path class="m10" stroke-dasharray="43 43" d="M697.6 1882.2l26.4-19.2 8.4 6.4-26.4 9.9z"/>
<path class="m11" stroke-dasharray="44 44" d="M740.8 1859.7l26.4-7.6 8.4 13.5-26.4 2.2z"/>
<path class="m10" stroke-dasharray="40 47" d="M662.7 1902l26.4-13.3 8.4-6.5-26.4 8.6z"/>
<path class="m10" d="M671.2 1890.9l-8.4 11.2"/>
<path class="m10" stroke-dasharray="28 59" d="M706 1879.3l26.4-9.9 8.4-9.8-26.4 18z"/>
<path class="m11" d="M732.4 1869.4l8.4-9.8"/>
<path class="m11" stroke-dasharray="35 63" d="M749.2 1867.8l26.4-2.2 8.4-2.3-26.4 24.6z"/>
<path class="m10" d="M784 1863.3l-26.4 24.6"/>
<path class="m10" stroke-dasharray="37 56" d="M671.2 1890.9l26.4-8.6 8.4-2.9-26.4 23.6z"/>
<path class="m10" d="M679.6 1902.9l-8.4-12"/>
<path class="m11" stroke-dasharray="44 42" d="M714.4 1877.6l26.4-18 8.4 8.1-26.4 9.9z"/>
<path class="m10" stroke-dasharray="36 57" d="M679.6 1902.9l26.4-23.6 8.4-1.7-26.4 21.7z"/>
<path class="m11" d="M706 1879.3l8.4-1.7"/>
<path class="m10" d="M688.1 1899.3l-8.4 3.5"/>
<path class="m11" stroke-dasharray="28 64" d="M722.9 1877.7l26.4-9.9 8.4 20.1-26.4-4.9z"/>
<path class="m10" d="M749.2 1867.8l8.4 20.1"/>
<path class="m11" d="M757.7 1887.9l-26.4-4.9"/>
<path class="m10" stroke-dasharray="34 56" d="M688.1 1899.3l26.4-21.7 8.4 0.1-26.4 12z"/>
<path class="m11" d="M714.4 1877.6l8.4 0.1"/>
<path class="m11" d="M696.5 1889.7l-8.4 9.7"/>
<path class="m11" stroke-dasharray="39 42" d="M696.5 1889.7l26.4-12 8.4 5.3-26.4 8.4z"/>
<path class="m11" d="M704.9 1891.4l-8.4-1.7"/>
<path class="m11" d="M731.3 1883l-26.4 8.4"/>
</g>
<path class="a" d="M180.8 1999.2L180.8 1494.4"/>
<path class="a" d="M687 2231.4L180.8 1999.2"/>
<path class="a" d="M687 2231.4L1346.2 2053.1"/>
<path class="a" d="M180.8 1999.2L164.4 1991.7"/>
<path class="a" d="M180.8 1915.1L164.4 1907.6"/>
<path class="a" d="M180.8 1830.9L164.4 1823.4"/>
<path class="a" d="M180.8 1746.8L164.4 1739.3"/>
<path class="a" d="M180.8 1662.7L164.4 1655.2"/>
<path class="a" d="M180.8 1578.5L164.4 1571"/>
<path class="a" d="M180.8 1494.4L164.4 1486.9"/>
<path class="a" d="M687 2231.4L669.6 2236.1"/>
<path class="a" d="M518.3 2154L500.9 2158.7"/>
<path class="a" d="M349.5 2076.6L332.2 2081.3"/>
<path class="a" d="M180.8 1999.2L163.4 2003.9"/>
<path class="a" d="M687 2231.4L703.4 2238.9"/>
<path class="a" d="M818.8 2195.7L835.2 2203.2"/>
<path class="a" d="M950.7 2160.1L967 2167.6"/>
<path class="a" d="M1082.5 2124.4L1098.9 2131.9"/>
<path class="a" d="M1214.4 2088.8L1230.7 2096.3"/>
<path class="a" d="M1346.2 2053.1L1362.6 2060.6"/>
<text class="t" x="151.3" y="2001.1" text-anchor="end">0.95</text>
<text class="t" x="151.3" y="1917" text-anchor="end">0.96</text>
<text class="t" x="151.3" y="1832.8" text-anchor="end">0.97</text>
<text class="t" x="151.3" y="1748.7" text-anchor="end">0.98</text>
<text class="t" x="151.3" y="1664.6" text-anchor="end">0.99</text>
<text class="t" x="151.3" y="1580.4" text-anchor="end">1</text>
<text class="t" x="151.3" y="1496.3" text-anchor="end">1.01</text>
<text class="t" x="655.2" y="2276.8" text-anchor="end">0</text>
<text class="t" x="486.5" y="2199.4" text-anchor="end">20</text>
<text class="t" x="317.7" y="2122" text-anchor="end">40</text>
<text class="t" x="149" y="2044.6" text-anchor="end">60</text>
<text class="t" x="715.5" y="2281.6">0</text>
<text class="t" x="847.3" y="2245.9">5</text>
<text class="t" x="980.2" y="2210.3">10</text>
<text class="t" x="1112" y="2174.6">15</text>
<text class="t" x="1243.9" y="2139">20</text>
<text class="t" x="1375.7" y="2103.3">25</text>
<text class="s" x="276.4" y="2280.6">Node number</text>
<text class="s" x="1048.4" y="2294" text-anchor="middle">h</text>
<text class="s" transform="translate(54.9 1744) rotate(-90)" text-anchor="middle">pu</text>
<text class="c" x="733.5" y="2463.4" text-anchor="middle">Case 1</text>
</g>
<g>
<path class="g" d="M827.4 3457.7L321 3225.6"/>
<path class="g" d="M959.2 3421.9L452.8 3189.8"/>
<path class="g" d="M1091.1 3386.2L584.7 3154.1"/>
<path class="g" d="M1222.9 3350.4L716.5 3118.3"/>
<path class="g" d="M526.7 3416.1L1186 3237.2"/>
<path class="g" d="M357.9 3338.8L1017.2 3159.9"/>
<path class="g" d="M189.1 3261.4L848.4 3082.5"/>
<path class="g" d="M1354.8 3314.6L848.4 3082.5"/>
<path class="g" d="M321 3225.6L321 2721.7"/>
<path class="g" d="M452.8 3189.8L452.8 2685.9"/>
<path class="g" d="M584.7 3154.1L584.7 2650.2"/>
<path class="g" d="M716.5 3118.3L716.5 2614.4"/>
<path class="g" d="M848.4 3082.5L848.4 2578.6"/>
<path class="g" d="M189.1 3261.4L848.4 3082.5"/>
<path class="g" d="M189.1 3177.4L848.4 2998.5"/>
<path class="g" d="M189.1 3093.4L848.4 2914.5"/>
<path class="g" d="M189.1 3009.5L848.4 2830.6"/>
<path class="g" d="M189.1 2925.5L848.4 2746.6"/>
<path class="g" d="M189.1 2841.5L848.4 2662.6"/>
<path class="g" d="M189.1 2757.5L848.4 2578.6"/>
<path class="g" d="M1354.8 3314.6L1354.8 2810.7"/>
<path class="g" d="M1186 3237.2L1186 2733.3"/>
<path class="g" d="M1017.2 3159.9L1017.2 2656"/>
<path class="g" d="M1354.8 3314.6L848.4 3082.5"/>
<path class="g" d="M1354.8 3230.6L848.4 2998.5"/>
<path class="g" d="M1354.8 3146.6L848.4 2914.5"/>
<path class="g" d="M1354.8 3062.7L848.4 2830.6"/>
<path class="g" d="M1354.8 2978.7L848.4 2746.6"/>
<path class="g" d="M1354.8 2894.7L848.4 2662.6"/>
<path class="g" d="M1354.8 2810.7L848.4 2578.6"/>
<g filter="url(#bl)">
<path class="m15" stroke-dasharray="37 42" d="M846.3 2700.1l26.4-7.2 8.4 3.9-26.4 7.2z"/>
<path class="m15" stroke-dasharray="37 42" d="M854.7 2704l26.4-7.2 8.4 3.9-26.4 7.2z"/>
<path class="m15" stroke-dasharray="37 42" d="M819.9 2707.3l26.4-7.2 8.4 3.9-26.4 7.2z"/>
<path class="m15" stroke-dasharray="37 42" d="M863.2 2707.8l26.4-7.2 8.4 3.9-26.4 7.2z"/>
<path class="m15" stroke-dasharray="37 42" d="M828.4 2711.1l26.4-7.2 8.4 3.9-26.4 7.2z"/>
<path class="m15" stroke-dasharray="28 640" d="M871.6 2711.7l26.4-7.2 8.4 295.5-26.4 18.6z"/>
<path class="m4" d="M898 2704.6l8.4 295.5"/>
<path class="m15" stroke-dasharray="37 42" d="M793.6 2714.4l26.4-7.2 8.4 3.9-26.4 7.2z"/>
<path class="m15" stroke-dasharray="37 42" d="M836.8 2715l26.4-7.2 8.4 3.9-26.4 7.2z"/>
<path class="m15" stroke-dasharray="37 42" d="M802 2718.3l26.4-7.2 8.4 3.9-26.4 7.2z"/>
<path class="m15" stroke-dasharray="28 662" d="M845.2 2718.9l26.4-7.2 8.4 306.9-26.4 17.8z"/>
<path class="m4" d="M871.6 2711.7l8.4 306.9"/>
<path class="m15" stroke-dasharray="37 42" d="M767.2 2721.6l26.4-7.2 8.4 3.9-26.4 7.2z"/>
<path class="m15" stroke-dasharray="37 42" d="M810.4 2722.2l26.4-7.2 8.4 3.9-26.4 7.2z"/>
<path class="m15" stroke-dasharray="37 42" d="M775.6 2725.4l26.4-7.2 8.4 3.9-26.4 7.2z"/>
<path class="m15" stroke-dasharray="28 670" d="M818.9 2726l26.4-7.2 8.4 317.5-26.4 8.6z"/>
<path class="m4" d="M845.2 2718.9l8.4 317.5"/>
<path class="m15" stroke-dasharray="37 42" d="M740.8 2728.7l26.4-7.2 8.4 3.9-26.4 7.2z"/>
<path class="m15" stroke-dasharray="37 42" d="M784.1 2729.3l26.4-7.2 8.4 3.9-26.4 7.2z"/>
<path class="m15" stroke-dasharray="37 42" d="M749.2 2732.6l26.4-7.2 8.4 3.9-26.4 7.2z"/>
<path class="m15" stroke-dasharray="28 681" d="M792.5 2733.2l26.4-7.2 8.4 319-26.4 14.2z"/>
<path class="m4" d="M818.9 2726l8.4 319"/>
<path class="m15" stroke-dasharray="37 42" d="M714.4 2735.9l26.4-7.2 8.4 3.9-26.4 7.2z"/>
<path class="m15" stroke-dasharray="37 42" d="M757.7 2736.5l26.4-7.2 8.4 3.9-26.4 7.2z"/>
<path class="m15" stroke-dasharray="37 42" d="M722.9 2739.8l26.4-7.2 8.4 3.9-26.4 7.2z"/>
<path class="m15" stroke-dasharray="28 718" d="M766.1 2740.3l26.4-7.2 8.4 326-26.4 28.8z"/>
<path class="m3" d="M792.5 2733.2l8.4 326"/>
<path class="m15" stroke-dasharray="37 42" d="M688.1 2743l26.4-7.2 8.4 3.9-26.4 7.2z"/>
<path class="m15" stroke-dasharray="37 42" d="M731.3 2743.6l26.4-7.2 8.4 3.9-26.4 7.2z"/>
<path class="m15" stroke-dasharray="37 42" d="M696.5 2746.9l26.4-7.2 8.4 3.9-26.4 7.2z"/>
<path class="m15" stroke-dasharray="28 707" d="M739.8 2747.5l26.4-7.2 8.4 347.6-26.4-20.3z"/>
<path class="m3" d="M766.1 2740.3l8.4 347.6"/>
<path class="m15" stroke-dasharray="37 42" d="M661.7 2750.2l26.4-7.2 8.4 3.9-26.4 7.2z"/>
<path class="m15" stroke-dasharray="37 42" d="M704.9 2750.8l26.4-7.2 8.4 3.9-26.4 7.2z"/>
<path class="m15" stroke-dasharray="37 42" d="M670.1 2754.1l26.4-7.2 8.4 3.9-26.4 7.2z"/>
<path class="m15" stroke-dasharray="28 664" d="M713.4 2754.6l26.4-7.2 8.4 320.2-26.4-1.4z"/>
<path class="m4" d="M739.8 2747.5l8.4 320.2"/>
<path class="m15" stroke-dasharray="37 42" d="M635.3 2757.4l26.4-7.2 8.4 3.9-26.4 7.2z"/>
<path class="m15" stroke-dasharray="37 42" d="M678.6 2757.9l26.4-7.2 8.4 3.9-26.4 7.2z"/>
<path class="m15" stroke-dasharray="37 42" d="M643.8 2761.2l26.4-7.2 8.4 3.9-26.4 7.2z"/>
<path class="m15" stroke-dasharray="28 657" d="M687 2761.8l26.4-7.2 8.4 311.6-26.4 7.5z"/>
<path class="m4" d="M713.4 2754.6l8.4 311.6"/>
<path class="m15" stroke-dasharray="37 42" d="M608.9 2764.5l26.4-7.2 8.4 3.9-26.4 7.2z"/>
<path class="m15" stroke-dasharray="37 42" d="M652.2 2765.1l26.4-7.2 8.4 3.9-26.4 7.2z"/>
<path class="m15" stroke-dasharray="37 42" d="M617.4 2768.4l26.4-7.2 8.4 3.9-26.4 7.2z"/>
<path class="m15" stroke-dasharray="28 645" d="M660.6 2769l26.4-7.2 8.4 311.9-26.4-3.9z"/>
<path class="m4" d="M687 2761.8l8.4 311.9"/>
<path class="m15" stroke-dasharray="37 42" d="M582.6 2771.7l26.4-7.2 8.4 3.9-26.4 7.2z"/>
<path class="m15" stroke-dasharray="37 42" d="M625.8 2772.2l26.4-7.2 8.4 3.9-26.4 7.2z"/>
<path class="m15" stroke-dasharray="37 42" d="M591 2775.5l26.4-7.2 8.4 3.9-26.4 7.2z"/>
<path class="m15" stroke-dasharray="28 661" d="M634.3 2776.1l26.4-7.2 8.4 300.9-26.4 24.4z"/>
<path class="m4" d="M660.6 2769l8.4 300.9"/>
<path class="m15" stroke-dasharray="37 42" d="M556.2 2778.8l26.4-7.2 8.4 3.9-26.4 7.2z"/>
<path class="m15" stroke-dasharray="37 42" d="M599.5 2779.4l26.4-7.2 8.4 3.9-26.4 7.2z"/>
<path class="m15" stroke-dasharray="37 42" d="M564.6 2782.7l26.4-7.2 8.4 3.9-26.4 7.2z"/>
<path class="m15" stroke-dasharray="28 665" d="M607.9 2783.3l26.4-7.2 8.4 318.1-26.4 3.4z"/>
<path class="m4" d="M634.3 2776.1l8.4 318.1"/>
<path class="m15" stroke-dasharray="37 42" d="M529.8 2786l26.4-7.2 8.4 3.9-26.4 7.2z"/>
<path class="m15" stroke-dasharray="37 42" d="M573.1 2786.6l26.4-7.2 8.4 3.9-26.4 7.2z"/>
<path class="m15" stroke-dasharray="37 42" d="M538.3 2789.8l26.4-7.2 8.4 3.9-26.4 7.2z"/>
<path class="m15" stroke-dasharray="28 699" d="M581.5 2790.4l26.4-7.2 8.4 314.3-26.4 31.2z"/>
<path class="m4" d="M607.9 2783.3l8.4 314.3"/>
<path class="m15" stroke-dasharray="37 42" d="M503.5 2793.1l26.4-7.2 8.4 3.9-26.4 7.2z"/>
<path class="m6" stroke-dasharray="28 407" d="M1048.9 3030.5l26.4-9.8 8.4-186.1-26.4 9.2z"/>
<path class="m13" d="M1075.2 3020.8l8.4-186.1"/>
<path class="m15" stroke-dasharray="37 42" d="M546.7 2793.7l26.4-7.2 8.4 3.9-26.4 7.2z"/>
<path class="m15" stroke-dasharray="37 42" d="M511.9 2797l26.4-7.2 8.4 3.9-26.4 7.2z"/>
<path class="m13" stroke-dasharray="39 52" d="M1057.3 2843.8l26.4-9.2 8.4 6.9-26.4 16z"/>
<path class="m15" stroke-dasharray="28 691" d="M555.2 2797.6l26.4-7.2 8.4 338.3-26.4-13.6z"/>
<path class="m3" d="M581.5 2790.4l8.4 338.3"/>
<path class="m15" stroke-dasharray="37 42" d="M477.1 2800.3l26.4-7.2 8.4 3.9-26.4 7.2z"/>
<path class="m6" stroke-dasharray="39 431" d="M1022.5 3058.8l26.4-28.2 8.4-186.7-26.4 3.1z"/>
<path class="m13" d="M1048.9 3030.5l8.4-186.7"/>
<path class="m15" stroke-dasharray="37 42" d="M520.3 2800.9l26.4-7.2 8.4 3.9-26.4 7.2z"/>
<path class="m13" stroke-dasharray="40 58" d="M1065.7 2857.5l26.4-16 8.4-1.8-26.4 28.5z"/>
<path class="m15" stroke-dasharray="37 42" d="M485.5 2804.2l26.4-7.2 8.4 3.9-26.4 7.2z"/>
<path class="m13" stroke-dasharray="43 45" d="M1030.9 2846.9l26.4-3.1 8.4 13.7-26.4-1z"/>
<path class="m15" stroke-dasharray="28 661" d="M528.8 2804.7l26.4-7.2 8.4 317.6-26.4 1.3z"/>
<path class="m4" d="M555.2 2797.6l8.4 317.6"/>
<path class="m13" stroke-dasharray="67 41" d="M1074.2 2868.3l26.4-28.5 8.4 27-26.4-0.7z"/>
<path class="m15" stroke-dasharray="37 42" d="M450.7 2807.4l26.4-7.2 8.4 3.9-26.4 7.2z"/>
<path class="m5" stroke-dasharray="29 463" d="M996.1 3071l26.4-12.2 8.4-211.9-26.4 5.7z"/>
<path class="m13" d="M1022.5 3058.8l8.4-211.9"/>
<path class="m15" stroke-dasharray="37 42" d="M494 2808l26.4-7.2 8.4 3.9-26.4 7.2z"/>
<path class="m13" stroke-dasharray="40 59" d="M1039.4 2856.5l26.4 1 8.4 10.7-26.4 11.5z"/>
<path class="m13" stroke-dasharray="36 58" d="M1082.6 2866.1l26.4 0.7 8.4 4.8-26.4 14.9z"/>
<path class="m15" stroke-dasharray="37 42" d="M459.2 2811.3l26.4-7.2 8.4 3.9-26.4 7.2z"/>
<path class="m14" stroke-dasharray="27 58" d="M1004.6 2852.5l26.4-5.7 8.4 9.6-26.4 5.8z"/>
<path class="m13" d="M1030.9 2846.9l8.4 9.6"/>
<path class="m15" stroke-dasharray="28 648" d="M502.4 2811.9l26.4-7.2 8.4 311.7-26.4-0.2z"/>
<path class="m4" d="M528.8 2804.7l8.4 311.7"/>
<path class="m13" stroke-dasharray="38 63" d="M1047.8 2879.7l26.4-11.5 8.4-2.2-26.4 29.3z"/>
<path class="m12" stroke-dasharray="31 89" d="M1091.1 2886.4l26.4-14.9 8.4 39.6-26.4-19.9z"/>
<path class="m11" d="M1117.4 2871.5l8.4 39.6"/>
<path class="m15" stroke-dasharray="37 42" d="M424.3 2814.6l26.4-7.2 8.4 3.9-26.4 7.2z"/>
<path class="m15" stroke-dasharray="37 42" d="M467.6 2815.2l26.4-7.2 8.4 3.9-26.4 7.2z"/>
<path class="m13" stroke-dasharray="52 51" d="M1013 2862.3l26.4-5.8 8.4 23.2-26.4 0z"/>
<path class="m12" stroke-dasharray="62 44" d="M1056.2 2895.4l26.4-29.3 8.4 20.3-26.4 0z"/>
<path class="m12" stroke-dasharray="33 582" d="M1099.5 2891.3l26.4 19.9 8.4 263.9-26.4 1.8z"/>
<path class="m2" d="M1125.9 2911.2l8.4 263.9"/>
<path class="m15" stroke-dasharray="37 42" d="M432.8 2818.5l26.4-7.2 8.4 3.9-26.4 7.2z"/>
<path class="m13" stroke-dasharray="50 44" d="M978.2 2878l26.4-25.5 8.4 9.8-26.4 9.6z"/>
<path class="m15" stroke-dasharray="28 625" d="M476 2819.1l26.4-7.2 8.4 304.4-26.4-10.7z"/>
<path class="m4" d="M502.4 2811.9l8.4 304.4"/>
<path class="m13" stroke-dasharray="27 72" d="M1021.4 2879.7l26.4 0 8.4 15.7-26.4 4.9z"/>
<path class="m12" d="M1047.8 2879.7l8.4 15.7"/>
<path class="m13" stroke-dasharray="27 75" d="M1064.7 2886.4l26.4 0 8.4 4.9-26.4 20.4z"/>
<path class="m12" d="M1091.1 2886.4l8.4 4.9"/>
<path class="m15" stroke-dasharray="37 42" d="M398 2821.8l26.4-7.2 8.4 3.9-26.4 7.2z"/>
<path class="m5" stroke-dasharray="27 447" d="M943.4 3087.1l26.4-3.6 8.4-205.5-26.4-0.4z"/>
<path class="m13" d="M969.7 3083.5l8.4-205.5"/>
<path class="m15" stroke-dasharray="37 42" d="M441.2 2822.3l26.4-7.2 8.4 3.9-26.4 7.2z"/>
<path class="m13" stroke-dasharray="48 53" d="M986.6 2871.9l26.4-9.6 8.4 17.4-26.4 9.5z"/>
<path class="m12" stroke-dasharray="27 56" d="M1029.9 2900.3l26.4-4.9 8.4-9-26.4 13.2z"/>
<path class="m13" d="M1056.2 2895.4l8.4-9"/>
<path class="m12" stroke-dasharray="34 595" d="M1073.1 2911.6l26.4-20.4 8.4 285.5-26.4 10.1z"/>
<path class="m2" d="M1099.5 2891.3l8.4 285.5"/>
<path class="m6" stroke-dasharray="31 351" d="M1116.4 3076.1l26.4-16.7 8.4-155.9-26.4 12z"/>
<path class="m12" d="M1142.7 3059.4l8.4-155.9"/>
<path class="m15" stroke-dasharray="37 42" d="M406.4 2825.6l26.4-7.2 8.4 3.9-26.4 7.2z"/>
<path class="m13" stroke-dasharray="37 43" d="M951.8 2877.7l26.4 0.4 8.4-6.1-26.4 10.3z"/>
<path class="m15" stroke-dasharray="28 588" d="M449.7 2826.2l26.4-7.2 8.4 286.4-26.4-13.5z"/>
<path class="m5" d="M476 2819.1l8.4 286.4"/>
<path class="m13" stroke-dasharray="28 69" d="M995.1 2889.2l26.4-9.5 8.4 20.6-26.4-16.3z"/>
<path class="m12" d="M1021.4 2879.7l8.4 20.6"/>
<path class="m12" stroke-dasharray="56 56" d="M1038.3 2899.6l26.4-13.2 8.4 25.2-26.4 9.2z"/>
<path class="m12" stroke-dasharray="29 583" d="M1124.8 2915.5l26.4-12 8.4 281.6-26.4-0.7z"/>
<path class="m2" d="M1151.2 2903.5l8.4 281.6"/>
<path class="m15" stroke-dasharray="37 42" d="M371.6 2828.9l26.4-7.2 8.4 3.9-26.4 7.2z"/>
<path class="m6" stroke-dasharray="27 463" d="M917 3088.1l26.4-1 8.4-209.5-26.4-9z"/>
<path class="m13" d="M943.4 3087.1l8.4-209.5"/>
<path class="m15" stroke-dasharray="37 42" d="M414.9 2829.5l26.4-7.2 8.4 3.9-26.4 7.2z"/>
<path class="m13" stroke-dasharray="48 45" d="M960.2 2882.2l26.4-10.3 8.4 17.3-26.4 2.9z"/>
<path class="m13" stroke-dasharray="31 75" d="M1003.5 2884l26.4 16.3 8.4-0.6-26.4 14.5z"/>
<path class="m12" d="M1029.9 2900.3l8.4-0.6"/>
<path class="m12" stroke-dasharray="28 583" d="M1046.8 2920.8l26.4-9.2 8.4 275.2-26.4 8.2z"/>
<path class="m2" d="M1073.1 2911.6l8.4 275.2"/>
<path class="m6" stroke-dasharray="27 337" d="M1090 3070.7l26.4 5.4 8.4-160.6-26.4 15z"/>
<path class="m12" d="M1116.4 3076.1l8.4-160.6"/>
<path class="m15" stroke-dasharray="37 42" d="M380 2832.8l26.4-7.2 8.4 3.9-26.4 7.2z"/>
<path class="m14" stroke-dasharray="28 75" d="M925.4 2868.6l26.4 9 8.4 4.6-26.4 14.5z"/>
<path class="m13" d="M951.8 2877.7l8.4 4.6"/>
<path class="m15" stroke-dasharray="28 547" d="M423.3 2833.4l26.4-7.2 8.4 265.8-26.4-12.6z"/>
<path class="m6" d="M449.7 2826.2l8.4 265.8"/>
<path class="m13" stroke-dasharray="37 55" d="M968.7 2892.1l26.4-2.9 8.4-5.2-26.4 21.1z"/>
<path class="m12" stroke-dasharray="53 41" d="M1011.9 2914.2l26.4-14.5 8.4 21.2-26.4-7.3z"/>
<path class="m12" stroke-dasharray="31 568" d="M1098.4 2930.4l26.4-15 8.4 268.9-26.4 10.9z"/>
<path class="m2" d="M1124.8 2915.5l8.4 268.9"/>
<path class="m15" stroke-dasharray="37 42" d="M345.2 2836.1l26.4-7.2 8.4 3.9-26.4 7.2z"/>
<path class="m6" stroke-dasharray="27 470" d="M890.6 3090.7l26.4-2.6 8.4-219.5-26.4 4.3z"/>
<path class="m14" d="M917 3088.1l8.4-219.5"/>
<path class="m15" stroke-dasharray="37 42" d="M388.5 2836.7l26.4-7.2 8.4 3.9-26.4 7.2z"/>
<path class="m13" stroke-dasharray="43 41" d="M933.9 2896.7l26.4-14.5 8.4 9.8-26.4 4.2z"/>
<path class="m13" stroke-dasharray="34 79" d="M977.1 2905.1l26.4-21.1 8.4 30.2-26.4 4.4z"/>
<path class="m12" d="M1003.5 2884l8.4 30.2"/>
<path class="m12" stroke-dasharray="28 583" d="M1020.4 2913.6l26.4 7.3 8.4 274.3-26.4-5.2z"/>
<path class="m2" d="M1046.8 2920.8l8.4 274.3"/>
<path class="m6" stroke-dasharray="33 328" d="M1063.6 3090.3l26.4-19.6 8.4-140.2-26.4 4.6z"/>
<path class="m12" d="M1090 3070.7l8.4-140.2"/>
<path class="m15" stroke-dasharray="37 42" d="M353.7 2839.9l26.4-7.2 8.4 3.9-26.4 7.2z"/>
<path class="m14" stroke-dasharray="27 97" d="M899.1 2873l26.4-4.3 8.4 28.1-26.4 9.2z"/>
<path class="m13" d="M925.4 2868.6l8.4 28.1"/>
<path class="m15" stroke-dasharray="28 516" d="M396.9 2840.5l26.4-7.2 8.4 246-26.4-1z"/>
<path class="m6" d="M423.3 2833.4l8.4 246"/>
<path class="m13" stroke-dasharray="43 64" d="M942.3 2896.3l26.4-4.2 8.4 13-26.4 16.8z"/>
<path class="m12" stroke-dasharray="35 53" d="M985.6 2918.5l26.4-4.4 8.4-0.6-26.4 17.7z"/>
<path class="m12" stroke-dasharray="27 580" d="M1072.1 2935l26.4-4.6 8.4 264.9-26.4 17.3z"/>
<path class="m2" d="M1098.4 2930.4l8.4 264.9"/>
<path class="m15" stroke-dasharray="37 42" d="M318.9 2843.2l26.4-7.2 8.4 3.9-26.4 7.2z"/>
<path class="m6" stroke-dasharray="27 454" d="M864.3 3087.4l26.4 3.3 8.4-217.7-26.4 13.6z"/>
<path class="m14" d="M890.6 3090.7l8.4-217.7"/>
<path class="m15" stroke-dasharray="37 42" d="M362.1 2843.8l26.4-7.2 8.4 3.9-26.4 7.2z"/>
<path class="m10" stroke-dasharray="36 548" d="M1158.6 2977.2l26.4-23.6 8.4 277.9-26.4-30.2z"/>
<path class="m1" d="M1184.9 2953.6l8.4 277.9"/>
<path class="m13" stroke-dasharray="37 44" d="M907.5 2906l26.4-9.2 8.4-0.5-26.4 12.8z"/>
<path class="m12" stroke-dasharray="47 53" d="M950.8 2921.9l26.4-16.8 8.4 13.4-26.4 17.3z"/>
<path class="m12" stroke-dasharray="32 594" d="M994 2931.3l26.4-17.7 8.4 276.4-26.4 20.1z"/>
<path class="m2" d="M1020.4 2913.6l8.4 276.4"/>
<path class="m6" stroke-dasharray="28 343" d="M1037.3 3097.8l26.4-7.5 8.4-155.3-26.4 9.6z"/>
<path class="m12" d="M1063.6 3090.3l8.4-155.3"/>
<path class="m15" stroke-dasharray="37 42" d="M327.3 2847.1l26.4-7.2 8.4 3.9-26.4 7.2z"/>
<path class="m5" stroke-dasharray="32 288" d="M1123.8 3113.5l26.4-18.1 8.4-118.1-26.4-0.9z"/>
<path class="m10" d="M1150.1 3095.4l8.4-118.1"/>
<path class="m14" stroke-dasharray="30 83" d="M872.7 2886.6l26.4-13.6 8.4 33-26.4-4.7z"/>
<path class="m13" d="M899.1 2873l8.4 33"/>
<path class="m15" stroke-dasharray="28 517" d="M370.5 2847.7l26.4-7.2 8.4 237.8-26.4 13.5z"/>
<path class="m7" d="M396.9 2840.5l8.4 237.8"/>
<path class="m13" stroke-dasharray="30 73" d="M915.9 2909.1l26.4-12.8 8.4 25.6-26.4-0.9z"/>
<path class="m12" d="M942.3 2896.3l8.4 25.6"/>
<path class="m12" stroke-dasharray="47 41" d="M959.2 2935.8l26.4-17.3 8.4 12.8-26.4 3.1z"/>
<path class="m7" stroke-dasharray="41 51" d="M457.1 3080.6l26.4-0.4 8.4-11.1-26.4-5.1z"/>
<path class="m12" stroke-dasharray="28 581" d="M1045.7 2944.6l26.4-9.6 8.4 277.6-26.4 3.2z"/>
<path class="m2" d="M1072.1 2935l8.4 277.6"/>
<path class="m15" stroke-dasharray="37 42" d="M292.5 2850.4l26.4-7.2 8.4 3.9-26.4 7.2z"/>
<path class="m6" stroke-dasharray="27 428" d="M837.9 3093.6l26.4-6.2 8.4-200.8-26.4 17.8z"/>
<path class="m14" d="M864.3 3087.4l8.4-200.8"/>
<path class="m15" stroke-dasharray="37 42" d="M335.7 2851l26.4-7.2 8.4 3.9-26.4 7.2z"/>
<path class="m10" stroke-dasharray="27 498" d="M1132.2 2976.3l26.4 0.9 8.4 224-26.4 13.6z"/>
<path class="m2" d="M1158.6 2977.2l8.4 224"/>
<path class="m13" stroke-dasharray="36 49" d="M881.1 2901.2l26.4 4.7 8.4 3.2-26.4 5.9z"/>
<path class="m12" stroke-dasharray="43 50" d="M924.4 2921l26.4 0.9 8.4 13.9-26.4 0.9z"/>
<path class="m12" stroke-dasharray="27 588" d="M967.6 2934.4l26.4-3.1 8.4 278.7-26.4 1.1z"/>
<path class="m2" d="M994 2931.3l8.4 278.7"/>
<path class="m1" stroke-dasharray="27 99" d="M716.6 3229.2l26.4-4 8.4-34.7-26.4 10.2z"/>
<path class="m3" d="M742.9 3225.1l8.4-34.7"/>
<path class="m7" stroke-dasharray="27 123" d="M465.5 3064.1l26.4 5.1 8.4 42.7-26.4-0.6z"/>
<path class="m6" d="M491.9 3069.2l8.4 42.7"/>
<path class="m6" stroke-dasharray="27 343" d="M1010.9 3094.9l26.4 2.9 8.4-153.2-26.4-6z"/>
<path class="m12" d="M1037.3 3097.8l8.4-153.2"/>
<path class="m15" stroke-dasharray="37 42" d="M300.9 2854.2l26.4-7.2 8.4 3.9-26.4 7.2z"/>
<path class="m6" stroke-dasharray="27 301" d="M1097.4 3115.7l26.4-2.2 8.4-137.2-26.4 10.1z"/>
<path class="m10" d="M1123.8 3113.5l8.4-137.2"/>
<path class="m13" stroke-dasharray="49 49" d="M846.3 2904.4l26.4-17.8 8.4 14.7-26.4 14.3z"/>
<path class="m15" stroke-dasharray="28 523" d="M344.2 2854.8l26.4-7.2 8.4 244.2-26.4 8.2z"/>
<path class="m6" d="M370.5 2847.7l8.4 244.2"/>
<path class="m13" stroke-dasharray="27 68" d="M889.6 2915l26.4-5.9 8.4 11.9-26.4 11.6z"/>
<path class="m12" d="M915.9 2909.1l8.4 11.9"/>
<path class="m12" stroke-dasharray="35 49" d="M932.8 2936.7l26.4-0.9 8.4-1.4-26.4 13.5z"/>
<path class="m7" stroke-dasharray="27 347" d="M681.8 3070.3l26.4 2 8.4 156.9-26.4-1.2z"/>
<path class="m1" d="M708.1 3072.3l8.4 156.9"/>
<path class="m12" stroke-dasharray="27 579" d="M1019.3 2938.6l26.4 6 8.4 271.2-26.4-1.6z"/>
<path class="m2" d="M1045.7 2944.6l8.4 271.2"/>
<path class="m15" stroke-dasharray="37 42" d="M266.1 2857.5l26.4-7.2 8.4 3.9-26.4 7.2z"/>
<path class="m15" d="M274.6 2861.4l-8.4-3.9"/>
<path class="m6" stroke-dasharray="29 414" d="M811.5 3103.7l26.4-10.1 8.4-189.3-26.4 8z"/>
<path class="m13" d="M837.9 3093.6l8.4-189.3"/>
<path class="m15" stroke-dasharray="37 42" d="M309.4 2858.1l26.4-7.2 8.4 3.9-26.4 7.2z"/>
<path class="m10" stroke-dasharray="29 556" d="M1105.8 2986.4l26.4-10.1 8.4 238.5-26.4 37.4z"/>
<path class="m2" d="M1132.2 2976.3l8.4 238.5"/>
<path class="m13" stroke-dasharray="46 47" d="M854.8 2915.5l26.4-14.3 8.4 13.8-26.4 10.6z"/>
<path class="m6" stroke-dasharray="28 60" d="M352.6 3100l26.4-8.2 8.4-9-26.4 5z"/>
<path class="m7" d="M379 3091.9l8.4-9"/>
<path class="m12" stroke-dasharray="47 45" d="M898 2932.6l26.4-11.6 8.4 15.7-26.4 5.5z"/>
<path class="m12" stroke-dasharray="30 572" d="M941.3 2947.9l26.4-13.5 8.4 276.8-26.4-0.3z"/>
<path class="m2" d="M967.6 2934.4l8.4 276.8"/>
<path class="m2" stroke-dasharray="27 105" d="M690.2 3228l26.4 1.2 8.4-28.6-26.4-12.5z"/>
<path class="m3" d="M716.6 3229.2l8.4-28.6"/>
<path class="m6" stroke-dasharray="35 361" d="M984.5 3117.5l26.4-22.6 8.4-156.4-26.4 7z"/>
<path class="m12" d="M1010.9 3094.9l8.4-156.4"/>
<path class="m15" stroke-dasharray="37 42" d="M274.6 2861.4l26.4-7.2 8.4 3.9-26.4 7.2z"/>
<path class="m15" d="M283 2865.3l-8.4-3.9"/>
<path class="m6" stroke-dasharray="27 293" d="M1071 3117.2l26.4-1.4 8.4-129.3-26.4-0.9z"/>
<path class="m10" d="M1097.4 3115.7l8.4-129.3"/>
<path class="m13" stroke-dasharray="42 42" d="M819.9 2912.4l26.4-8 8.4 11.1-26.4 1.6z"/>
<path class="m15" stroke-dasharray="28 544" d="M317.8 2862l26.4-7.2 8.4 245.2-26.4 21.2z"/>
<path class="m6" d="M344.2 2854.8l8.4 245.2"/>
<path class="m13" stroke-dasharray="29 77" d="M863.2 2925.6l26.4-10.6 8.4 17.6-26.4 13.5z"/>
<path class="m12" d="M889.6 2915l8.4 17.6"/>
<path class="m7" stroke-dasharray="40 47" d="M361.1 3087.8l26.4-5 8.4-9.4-26.4 18.7z"/>
<path class="m12" stroke-dasharray="41 55" d="M906.5 2942.2l26.4-5.5 8.4 11.2-26.4 12.5z"/>
<path class="m7" stroke-dasharray="30 59" d="M404.3 3075.1l26.4-12.9 8.4-3.2-26.4 0.3z"/>
<path class="m8" d="M430.7 3062.2l8.4-3.2"/>
<path class="m8" stroke-dasharray="27 195" d="M1200.8 3064.5l26.4 1.8 8.4-85.1-26.4 6.7z"/>
<path class="m11" d="M1227.1 3066.3l8.4-85.1"/>
<path class="m12" stroke-dasharray="28 587" d="M993 2945.6l26.4-7 8.4 275.6-26.4 8.9z"/>
<path class="m2" d="M1019.3 2938.6l8.4 275.6"/>
<path class="m6" stroke-dasharray="30 431" d="M785.1 3116.3l26.4-12.6 8.4-191.3-26.4-3z"/>
<path class="m13" d="M811.5 3103.7l8.4-191.3"/>
<path class="m15" stroke-dasharray="37 42" d="M283 2865.3l26.4-7.2 8.4 3.9-26.4 7.2z"/>
<path class="m15" d="M291.4 2869.1l-8.4-3.9"/>
<path class="m11" stroke-dasharray="27 548" d="M1079.5 2985.5l26.4 0.9 8.4 265.8-26.4-32.1z"/>
<path class="m1" d="M1105.8 2986.4l8.4 265.8"/>
<path class="m13" stroke-dasharray="40 50" d="M828.4 2917.1l26.4-1.6 8.4 10.1-26.4 6.5z"/>
<path class="m6" stroke-dasharray="34 69" d="M326.2 3121.2l26.4-21.2 8.4-12.2-26.4 24.1z"/>
<path class="m7" d="M352.6 3100l8.4-12.2"/>
<path class="m12" stroke-dasharray="43 44" d="M871.6 2946.1l26.4-13.5 8.4 9.6-26.4 10.1z"/>
<path class="m12" stroke-dasharray="29 563" d="M914.9 2960.4l26.4-12.5 8.4 263-26.4 14.3z"/>
<path class="m2" d="M941.3 2947.9l8.4 263"/>
<path class="m8" stroke-dasharray="27 150" d="M412.7 3059.3l26.4-0.3 8.4 51.2-26.4 11.7z"/>
<path class="m6" d="M439.1 3059l8.4 51.2"/>
<path class="m11" stroke-dasharray="28 559" d="M1209.2 2987.9l26.4-6.7 8.4 229-26.4 47.5z"/>
<path class="m2" d="M1235.6 2981.2l8.4 229"/>
<path class="m6" stroke-dasharray="27 363" d="M958.1 3115.2l26.4 2.3 8.4-171.9-26.4 15.2z"/>
<path class="m12" d="M984.5 3117.5l8.4-171.9"/>
<path class="m6" stroke-dasharray="28 294" d="M1044.6 3125.6l26.4-8.4 8.4-131.6-26.4 13z"/>
<path class="m11" d="M1071 3117.2l8.4-131.6"/>
<path class="m14" stroke-dasharray="27 80" d="M793.6 2909.4l26.4 3 8.4 4.7-26.4 21.8z"/>
<path class="m13" d="M819.9 2912.4l8.4 4.7"/>
<path class="m15" stroke-dasharray="28 563" d="M291.4 2869.1l26.4-7.2 8.4 259.2-26.4 15.5z"/>
<path class="m6" d="M317.8 2862l8.4 259.2"/>
<path class="m5" d="M299.9 3136.7l-8.4-267.5"/>
<path class="m13" stroke-dasharray="27 83" d="M836.8 2932.1l26.4-6.5 8.4 20.5-26.4 11.6z"/>
<path class="m12" d="M863.2 2925.6l8.4 20.5"/>
<path class="m6" stroke-dasharray="36 55" d="M334.7 3111.9l26.4-24.1 8.4 4.3-26.4 14.8z"/>
<path class="m7" d="M361.1 3087.8l8.4 4.3"/>
<path class="m12" stroke-dasharray="49 51" d="M880.1 2952.2l26.4-10.1 8.4 18.2-26.4 8.1z"/>
<path class="m7" stroke-dasharray="29 68" d="M377.9 3086.9l26.4-11.8 8.4-15.8-26.4 20.6z"/>
<path class="m8" d="M404.3 3075.1l8.4-15.8"/>
<path class="m8" stroke-dasharray="28 188" d="M1174.4 3072.6l26.4-8.1 8.4-76.6-26.4 7z"/>
<path class="m11" d="M1200.8 3064.5l8.4-76.6"/>
<path class="m12" stroke-dasharray="31 583" d="M966.6 2960.8l26.4-15.2 8.4 277.5-26.4 9.2z"/>
<path class="m2" d="M993 2945.6l8.4 277.5"/>
<path class="m6" stroke-dasharray="28 444" d="M758.8 3123.5l26.4-7.2 8.4-207-26.4 11.8z"/>
<path class="m14" d="M785.1 3116.3l8.4-207"/>
<path class="m10" stroke-dasharray="30 531" d="M1053.1 2998.5l26.4-13 8.4 234.6-26.4 29.6z"/>
<path class="m2" d="M1079.5 2985.5l8.4 234.6"/>
<path class="m13" stroke-dasharray="52 48" d="M802 2938.8l26.4-21.8 8.4 15-26.4 15.7z"/>
<path class="m5" stroke-dasharray="31 64" d="M299.9 3136.7l26.4-15.5 8.4-9.3-26.4 26.1z"/>
<path class="m6" d="M326.2 3121.2l8.4-9.3"/>
<path class="m6" d="M308.3 3138l-8.4-1.3"/>
<path class="m12" stroke-dasharray="40 42" d="M845.3 2957.7l26.4-11.6 8.4 6.2-26.4-0.1z"/>
<path class="m7" stroke-dasharray="40 46" d="M343.1 3106.9l26.4-14.8 8.4-5.2-26.4 15.5z"/>
<path class="m12" stroke-dasharray="28 553" d="M888.5 2968.5l26.4-8.1 8.4 264.7-26.4-0.8z"/>
<path class="m2" d="M914.9 2960.4l8.4 264.7"/>
<path class="m8" stroke-dasharray="34 137" d="M386.4 3079.8l26.4-20.6 8.4 62.7-26.4-0.9z"/>
<path class="m6" d="M412.7 3059.3l8.4 62.7"/>
<path class="m11" stroke-dasharray="28 597" d="M1182.8 2994.8l26.4-7 8.4 269.7-26.4 23.2z"/>
<path class="m1" d="M1209.2 2987.9l8.4 269.7"/>
<path class="m6" stroke-dasharray="29 353" d="M931.8 3126.4l26.4-11.2 8.4-154.4-26.4-0.6z"/>
<path class="m12" d="M958.1 3115.2l8.4-154.4"/>
<path class="m6" stroke-dasharray="28 300" d="M1018.3 3133.6l26.4-8.1 8.4-127-26.4-4.6z"/>
<path class="m10" d="M1044.6 3125.6l8.4-127"/>
<path class="m13" stroke-dasharray="60 53" d="M767.2 2921.1l26.4-11.8 8.4 29.5-26.4 1.5z"/>
<path class="m12" stroke-dasharray="58 42" d="M810.5 2947.8l26.4-15.7 8.4 25.6-26.4-9.7z"/>
<path class="m6" stroke-dasharray="37 62" d="M308.3 3138l26.4-26.1 8.4-5-26.4 24z"/>
<path class="m7" d="M334.7 3111.9l8.4-5"/>
<path class="m6" d="M316.8 3130.9l-8.4 7.1"/>
<path class="m12" stroke-dasharray="45 45" d="M853.7 2952.1l26.4 0.1 8.4 16.3-26.4-7.5z"/>
<path class="m7" stroke-dasharray="31 58" d="M351.6 3102.4l26.4-15.5 8.4-7-26.4 19.5z"/>
<path class="m8" d="M377.9 3086.9l8.4-7"/>
<path class="m7" stroke-dasharray="30 195" d="M1148 3086.2l26.4-13.7 8.4-77.7-26.4 8.2z"/>
<path class="m11" d="M1174.4 3072.6l8.4-77.7"/>
<path class="m0" stroke-dasharray="35 62" d="M1191.3 3280.8l26.4-23.2 8.4-5.9-26.4 25.2z"/>
<path class="m1" d="M1217.7 3257.6l8.4-5.9"/>
<path class="m12" stroke-dasharray="27 589" d="M940.2 2960.2l26.4 0.6 8.4 271.5-26.4 10.9z"/>
<path class="m2" d="M966.6 2960.8l8.4 271.5"/>
<path class="m7" stroke-dasharray="27 88" d="M438.1 3090.6l26.4-6.3 8.4-17.6-26.4-9.9z"/>
<path class="m8" d="M464.4 3084.3l8.4-17.6"/>
<path class="m6" stroke-dasharray="29 439" d="M732.4 3135.9l26.4-12.4 8.4-202.4-26.4 13z"/>
<path class="m13" d="M758.8 3123.5l8.4-202.4"/>
<path class="m11" stroke-dasharray="27 551" d="M1026.7 2993.9l26.4 4.6 8.4 251.3-26.4 10.2z"/>
<path class="m2" d="M1053.1 2998.5l8.4 251.3"/>
<path class="m13" stroke-dasharray="27 58" d="M775.6 2940.3l26.4-1.5 8.4 8.9-26.4 3.6z"/>
<path class="m12" d="M802 2938.8l8.4 8.9"/>
<path class="m13" stroke-dasharray="28 65" d="M818.9 2948l26.4 9.7 8.4-5.5-26.4 13.6z"/>
<path class="m12" d="M845.3 2957.7l8.4-5.5"/>
<path class="m6" stroke-dasharray="36 61" d="M316.8 3130.9l26.4-24 8.4-4.5-26.4 26.3z"/>
<path class="m7" d="M343.1 3106.9l8.4-4.5"/>
<path class="m6" d="M325.2 3128.7l-8.4 2.2"/>
<path class="m12" stroke-dasharray="28 548" d="M862.1 2961.1l26.4 7.5 8.4 255.8-26.4-3.8z"/>
<path class="m2" d="M888.5 2968.5l8.4 255.8"/>
<path class="m7" stroke-dasharray="33 132" d="M360 3099.3l26.4-19.5 8.4 41.2-26.4 25.4z"/>
<path class="m6" d="M386.4 3079.8l8.4 41.2"/>
<path class="m11" stroke-dasharray="28 576" d="M1156.5 3003.1l26.4-8.2 8.4 285.9-26.4-46.8z"/>
<path class="m0" d="M1182.8 2994.8l8.4 285.9"/>
<path class="m6" stroke-dasharray="27 355" d="M905.4 3127.1l26.4-0.6 8.4-166.2-26.4 13.3z"/>
<path class="m12" d="M931.8 3126.4l8.4-166.2"/>
<path class="m9" stroke-dasharray="28 204" d="M446.5 3056.8l26.4 9.9 8.4 79.2-26.4 3.3z"/>
<path class="m5" d="M472.9 3066.7l8.4 79.2"/>
<path class="m2" stroke-dasharray="55 85" d="M1243 3255.7l26.4-32.5 8.4 9.6-26.4 46.8z"/>
<path class="m6" stroke-dasharray="27 305" d="M991.9 3136.3l26.4-2.7 8.4-139.7-26.4 13z"/>
<path class="m11" d="M1018.3 3133.6l8.4-139.7"/>
<path class="m13" stroke-dasharray="51 41" d="M740.8 2934.2l26.4-13 8.4 19.2-26.4-4.2z"/>
<path class="m13" stroke-dasharray="35 58" d="M784.1 2951.3l26.4-3.6 8.4 0.2-26.4 20.4z"/>
<path class="m12" stroke-dasharray="42 46" d="M827.3 2965.7l26.4-13.6 8.4 8.9-26.4 12.2z"/>
<path class="m6" stroke-dasharray="38 66" d="M325.2 3128.7l26.4-26.3 8.4-3.1-26.4 6.6z"/>
<path class="m7" d="M351.6 3102.4l8.4-3.1"/>
<path class="m7" d="M333.6 3105.9l-8.4 22.8"/>
<path class="m8" stroke-dasharray="30 178" d="M1121.7 3071.6l26.4 14.6 8.4-83.2-26.4 8.1z"/>
<path class="m11" d="M1148 3086.2l8.4-83.2"/>
<path class="m2" stroke-dasharray="54 71" d="M1164.9 3233.9l26.4 46.8 8.4-3.9-26.4-38.2z"/>
<path class="m1" d="M1191.3 3280.8l8.4-3.9"/>
<path class="m12" stroke-dasharray="30 578" d="M913.8 2973.5l26.4-13.3 8.4 283-26.4-8.6z"/>
<path class="m2" d="M940.2 2960.2l8.4 283"/>
<path class="m7" stroke-dasharray="29 101" d="M411.7 3101.1l26.4-10.5 8.4-33.8-26.4 14.9z"/>
<path class="m9" d="M438.1 3090.6l8.4-33.8"/>
<path class="m6" stroke-dasharray="27 432" d="M706 3138.5l26.4-2.5 8.4-201.8-26.4 7z"/>
<path class="m13" d="M732.4 3135.9l8.4-201.8"/>
<path class="m1" stroke-dasharray="54 187" d="M1251.4 3279.6l26.4-46.8 8.4-62.7-26.4 35.6z"/>
<path class="m5" d="M1277.8 3232.8l8.4-62.7"/>
<path class="m11" stroke-dasharray="30 533" d="M1000.3 3006.9l26.4-13 8.4 266-26.4-41.6z"/>
<path class="m1" d="M1026.7 2993.9l8.4 266"/>
<path class="m13" stroke-dasharray="41 51" d="M749.3 2936.2l26.4 4.2 8.4 11-26.4 2z"/>
<path class="m12" stroke-dasharray="53 64" d="M792.5 2968.4l26.4-20.4 8.4 17.7-26.4 24z"/>
<path class="m12" stroke-dasharray="29 554" d="M835.8 2973.3l26.4-12.2 8.4 259.4-26.4 12.5z"/>
<path class="m3" d="M862.1 2961.1l8.4 259.4"/>
<path class="m7" stroke-dasharray="27 146" d="M333.6 3105.9l26.4-6.6 8.4 47.2-26.4 18.9z"/>
<path class="m6" d="M360 3099.3l8.4 47.2"/>
<path class="m5" d="M342.1 3165.4l-8.4-59.5"/>
<path class="m11" stroke-dasharray="28 611" d="M1130.1 3011.2l26.4-8.1 8.4 230.9-26.4 73.6z"/>
<path class="m2" d="M1156.5 3003.1l8.4 230.9"/>
<path class="m6" stroke-dasharray="27 332" d="M879 3130.9l26.4-3.8 8.4-153.5-26.4 14.6z"/>
<path class="m12" d="M905.4 3127.1l8.4-153.5"/>
<path class="m2" stroke-dasharray="47 81" d="M1173.4 3238.6l26.4 38.2 8.4 8.9-26.4-47.6z"/>
<path class="m1" d="M1199.7 3276.9l8.4 8.9"/>
<path class="m8" stroke-dasharray="31 225" d="M420.1 3071.7l26.4-14.9 8.4 92.4-26.4 17.2z"/>
<path class="m6" d="M446.5 3056.8l8.4 92.4"/>
<path class="m1" stroke-dasharray="68 42" d="M1216.6 3288.8l26.4-33.2 8.4 23.9-26.4 7.3z"/>
<path class="m6" stroke-dasharray="27 305" d="M965.5 3142.8l26.4-6.5 8.4-129.4-26.4-6.1z"/>
<path class="m11" d="M991.9 3136.3l8.4-129.4"/>
<path class="m13" stroke-dasharray="36 46" d="M714.5 2941.2l26.4-7 8.4 2-26.4 12.2z"/>
<path class="m4" stroke-dasharray="45 141" d="M1259.9 3205.7l26.4-35.6 8.4-44.5-26.4 31.7z"/>
<path class="m6" d="M1286.2 3170.1l8.4-44.5"/>
<path class="m13" stroke-dasharray="27 63" d="M757.7 2953.3l26.4-2 8.4 17.1-26.4-13.5z"/>
<path class="m12" d="M784.1 2951.3l8.4 17.1"/>
<path class="m11" stroke-dasharray="36 56" d="M801 2989.7l26.4-24 8.4 7.6-26.4 10.6z"/>
<path class="m12" d="M827.3 2965.7l8.4 7.6"/>
<path class="m7" stroke-dasharray="43 184" d="M1095.3 3105.8l26.4-34.2 8.4-60.4-26.4 4.6z"/>
<path class="m11" d="M1121.7 3071.6l8.4-60.4"/>
<path class="m5" stroke-dasharray="33 61" d="M342.1 3165.4l26.4-18.9 8.4-8.1-26.4 19.8z"/>
<path class="m6" d="M368.4 3146.5l8.4-8.1"/>
<path class="m6" d="M350.5 3158.3l-8.4 7.2"/>
<path class="m12" stroke-dasharray="30 534" d="M887.5 2988.1l26.4-14.6 8.4 261.1-26.4-7z"/>
<path class="m3" d="M913.8 2973.5l8.4 261.1"/>
<path class="m3" stroke-dasharray="55 77" d="M1181.8 3238.2l26.4 47.6 8.4 3.1-26.4-45.3z"/>
<path class="m1" d="M1208.2 3285.8l8.4 3.1"/>
<path class="m6" stroke-dasharray="27 438" d="M679.6 3133.9l26.4 4.6 8.4-197.3-26.4-12.8z"/>
<path class="m13" d="M706 3138.5l8.4-197.3"/>
<path class="m1" stroke-dasharray="28 173" d="M1225 3286.9l26.4-7.3 8.4-73.9-26.4 25.2z"/>
<path class="m4" d="M1251.4 3279.6l8.4-73.9"/>
<path class="m11" stroke-dasharray="27 555" d="M974 3000.8l26.4 6.1 8.4 211.5-26.4 57.4z"/>
<path class="m3" d="M1000.3 3006.9l8.4 211.5"/>
<path class="m13" stroke-dasharray="49 44" d="M722.9 2948.4l26.4-12.2 8.4 17.2-26.4 3.2z"/>
<path class="m5" stroke-dasharray="42 162" d="M1268.3 3157.2l26.4-31.7 8.4-57.8-26.4 39.6z"/>
<path class="m9" d="M1294.7 3125.6l8.4-57.8"/>
<path class="m13" stroke-dasharray="30 84" d="M766.2 2954.9l26.4 13.5 8.4 21.2-26.4-8.3z"/>
<path class="m11" d="M792.5 2968.4l8.4 21.2"/>
<path class="m12" stroke-dasharray="29 542" d="M809.4 2983.9l26.4-10.6 8.4 259.7-26.4 0.6z"/>
<path class="m3" d="M835.8 2973.3l8.4 259.7"/>
<path class="m11" stroke-dasharray="27 601" d="M1103.7 3015.8l26.4-4.6 8.4 296.3-26.4-41.6z"/>
<path class="m0" d="M1130.1 3011.2l8.4 296.3"/>
<path class="m6" stroke-dasharray="27 315" d="M852.7 3133.3l26.4-2.4 8.4-142.7-26.4 5.8z"/>
<path class="m12" d="M879 3130.9l8.4-142.7"/>
<path class="m6" stroke-dasharray="33 74" d="M350.5 3158.3l26.4-19.8 8.4-13.6-26.4 10.7z"/>
<path class="m7" d="M376.9 3138.4l8.4-13.6"/>
<path class="m7" d="M359 3135.5l-8.4 22.8"/>
<path class="m8" stroke-dasharray="37 235" d="M393.8 3097.9l26.4-26.2 8.4 94.7-26.4 27.3z"/>
<path class="m5" d="M420.1 3071.7l8.4 94.7"/>
<path class="m2" stroke-dasharray="53 78" d="M1190.2 3243.6l26.4 45.3 8.4-1.9-26.4-47.4z"/>
<path class="m1" d="M1216.6 3288.8l8.4-1.9"/>
<path class="m6" stroke-dasharray="27 306" d="M939.2 3146.4l26.4-3.6 8.4-142-26.4 22.7z"/>
<path class="m11" d="M965.5 3142.8l8.4-142"/>
<path class="m14" stroke-dasharray="30 71" d="M688.1 2928.3l26.4 12.8 8.4 7.2-26.4 6.2z"/>
<path class="m13" d="M714.5 2941.2l8.4 7.2"/>
<path class="m3" stroke-dasharray="37 142" d="M1233.5 3231l26.4-25.2 8.4-48.5-26.4 19.8z"/>
<path class="m5" d="M1259.9 3205.7l8.4-48.5"/>
<path class="m13" stroke-dasharray="35 55" d="M731.3 2956.5l26.4-3.2 8.4 1.6-26.4 17.5z"/>
<path class="m7" stroke-dasharray="48 166" d="M1276.7 3107.4l26.4-39.6 8.4-55.5-26.4 34.6z"/>
<path class="m11" d="M1303.1 3067.8l8.4-55.5"/>
<path class="m12" stroke-dasharray="38 46" d="M774.6 2981.3l26.4 8.3 8.4-5.8-26.4 7.4z"/>
<path class="m8" stroke-dasharray="27 199" d="M1068.9 3102.2l26.4 3.7 8.4-90.1-26.4 13.5z"/>
<path class="m11" d="M1095.3 3105.8l8.4-90.1"/>
<path class="m2" stroke-dasharray="50 67" d="M1112.2 3265.9l26.4 41.6 8.4-5.6-26.4-32.5z"/>
<path class="m0" d="M1138.5 3307.5l8.4-5.6"/>
<path class="m12" stroke-dasharray="27 482" d="M861.1 2993.9l26.4-5.8 8.4 239.5-26.4-142.7z"/>
<path class="m3" d="M887.5 2988.1l8.4 239.5"/>
<path class="m7" stroke-dasharray="29 90" d="M359 3135.5l26.4-10.7 8.4-26.9-26.4 11.1z"/>
<path class="m8" d="M385.3 3124.8l8.4-26.9"/>
<path class="m8" d="M367.4 3108.9l-8.4 26.5"/>
<path class="m7" stroke-dasharray="30 415" d="M653.3 3120.4l26.4 13.5 8.4-205.5-26.4 25.3z"/>
<path class="m14" d="M679.6 3133.9l8.4-205.5"/>
<path class="m4" stroke-dasharray="38 81" d="M402.2 3193.7l26.4-27.3 8.4-16.4-26.4 24.7z"/>
<path class="m6" d="M428.6 3166.4l8.4-16.4"/>
<path class="m3" stroke-dasharray="111 77" d="M1198.7 3239.5l26.4 47.4 8.4-55.9-26.4-25.4z"/>
<path class="m11" stroke-dasharray="35 552" d="M947.6 3023.5l26.4-22.7 8.4 274.9-26.4-8z"/>
<path class="m1" d="M974 3000.8l8.4 274.9"/>
<path class="m13" stroke-dasharray="39 45" d="M696.5 2954.6l26.4-6.2 8.4 8.1-26.4 7z"/>
<path class="m5" stroke-dasharray="33 367" d="M1241.9 3177.1l26.4-19.8 8.4-49.9-26.4-118.8z"/>
<path class="m7" d="M1268.3 3157.2l8.4-49.9"/>
<path class="m12" stroke-dasharray="60 45" d="M739.8 2972.4l26.4-17.5 8.4 26.4-26.4 1.4z"/>
<path class="m10" stroke-dasharray="44 169" d="M1285.2 3046.9l26.4-34.6 8.4-58.7-26.4 26.9z"/>
<path class="m13" d="M1311.5 3012.3l8.4-58.7"/>
<path class="m12" d="M1320 2953.7l-26.4 26.9"/>
<path class="m12" stroke-dasharray="28 529" d="M783 2991.2l26.4-7.4 8.4 249.7-26.4 4.3z"/>
<path class="m3" d="M809.4 2983.9l8.4 249.7"/>
<path class="m10" stroke-dasharray="30 522" d="M1077.4 3029.3l26.4-13.5 8.4 250.2-26.4 2.5z"/>
<path class="m2" d="M1103.7 3015.8l8.4 250.2"/>
<path class="m6" stroke-dasharray="30 315" d="M826.3 3146.7l26.4-13.4 8.4-139.4-26.4 12.4z"/>
<path class="m12" d="M852.7 3133.3l8.4-139.4"/>
<path class="m2" stroke-dasharray="42 64" d="M1120.6 3269.4l26.4 32.5 8.4 2.8-26.4-27.1z"/>
<path class="m0" d="M1147 3301.9l8.4 2.8"/>
<path class="m8" stroke-dasharray="29 228" d="M367.4 3108.9l26.4-11.1 8.4 95.9-26.4 12.2z"/>
<path class="m4" d="M393.8 3097.9l8.4 95.9"/>
<path class="m4" d="M375.8 3205.9l-8.4-97"/>
<path class="m0" stroke-dasharray="71 114" d="M1163.9 3309.1l26.4-65.6 8.4-4-26.4 81.1z"/>
<path class="m3" d="M1190.2 3243.6l8.4-4"/>
<path class="m10" stroke-dasharray="114 229" d="M912.8 3035.8l26.4 110.6 8.4-122.9-26.4-39.9z"/>
<path class="m11" d="M939.2 3146.4l8.4-122.9"/>
<path class="m13" stroke-dasharray="64 42" d="M661.7 2953.7l26.4-25.3 8.4 26.2-26.4-5.3z"/>
<path class="m5" stroke-dasharray="36 68" d="M410.6 3174.7l26.4-24.7 8.4-8.6-26.4 15.6z"/>
<path class="m6" d="M437 3150l8.4-8.6"/>
<path class="m4" stroke-dasharray="37 159" d="M1207.1 3205.5l26.4 25.4 8.4-53.9-26.4-29.7z"/>
<path class="m5" d="M1233.5 3231l8.4-53.9"/>
<path class="m13" stroke-dasharray="28 72" d="M705 2963.5l26.4-7 8.4 15.9-26.4 10z"/>
<path class="m12" d="M731.3 2956.5l8.4 15.9"/>
<path class="m12" stroke-dasharray="122 178" d="M1250.4 2988.5l26.4 118.8 8.4-60.4-26.4 20z"/>
<path class="m10" d="M1276.7 3107.4l8.4-60.4"/>
<path class="m12" stroke-dasharray="40 43" d="M748.2 2982.7l26.4-1.4 8.4 9.9-26.4-1z"/>
<path class="m8" stroke-dasharray="27 165" d="M1042.5 3098.3l26.4 3.9 8.4-72.9-26.4 12.3z"/>
<path class="m10" d="M1068.9 3102.2l8.4-72.9"/>
<path class="m3" stroke-dasharray="27 225" d="M791.5 3237.9l26.4-4.3 8.4-86.8-26.4-11.6z"/>
<path class="m6" d="M817.8 3233.6l8.4-86.8"/>
<path class="m11" stroke-dasharray="29 425" d="M834.7 3006.3l26.4-12.4 8.4 91.1-26.4 123.4z"/>
<path class="m8" d="M861.1 2993.9l8.4 91.1"/>
<path class="m2" stroke-dasharray="38 62" d="M1129 3277.6l26.4 27.1 8.4 4.5-26.4-26.3z"/>
<path class="m0" d="M1155.4 3304.7l8.4 4.5"/>
<path class="m4" stroke-dasharray="29 74" d="M375.8 3205.9l26.4-12.2 8.4-19-26.4 28.5z"/>
<path class="m5" d="M402.2 3193.7l8.4-19"/>
<path class="m4" d="M384.3 3203.2l-8.4 2.7"/>
<path class="m0" stroke-dasharray="86 163" d="M1172.3 3320.6l26.4-81.1 8.4-34-26.4 44.6z"/>
<path class="m4" d="M1198.7 3239.5l8.4-34"/>
<path class="m12" stroke-dasharray="48 545" d="M921.2 2983.6l26.4 39.9 8.4 244.2-26.4-26.9z"/>
<path class="m2" d="M947.6 3023.5l8.4 244.2"/>
<path class="m14" stroke-dasharray="27 62" d="M670.2 2949.3l26.4 5.3 8.4 9-26.4 1.1z"/>
<path class="m13" d="M696.5 2954.6l8.4 9"/>
<path class="m6" stroke-dasharray="40 357" d="M1215.6 3147.4l26.4 29.7 8.4-188.5-26.4 108.6z"/>
<path class="m12" d="M1241.9 3177.1l8.4-188.5"/>
<path class="m12" stroke-dasharray="42 41" d="M713.4 2982.4l26.4-10 8.4 10.3-26.4 3z"/>
<path class="m9" stroke-dasharray="33 171" d="M1258.8 3066.9l26.4-20 8.4-66.4-26.4 23.7z"/>
<path class="m12" d="M1285.2 3046.9l8.4-66.4"/>
<path class="m12" d="M1293.6 2980.5l-26.4 23.7"/>
<path class="m12" stroke-dasharray="27 530" d="M756.7 2990.2l26.4 1 8.4 246.7-26.4 3z"/>
<path class="m3" d="M783 2991.2l8.4 246.7"/>
<path class="m5" stroke-dasharray="27 95" d="M505.6 3182.7l26.4 1.8 8.4-32.7-26.4 2.9z"/>
<path class="m6" d="M532 3184.5l8.4-32.7"/>
<path class="m10" stroke-dasharray="29 591" d="M1051 3041.5l26.4-12.3 8.4 239.1-26.4 56.5z"/>
<path class="m2" d="M1077.4 3029.3l8.4 239.1"/>
<path class="m7" stroke-dasharray="29 307" d="M799.9 3135.2l26.4 11.6 8.4-140.5-26.4-4.7z"/>
<path class="m11" d="M826.3 3146.7l8.4-140.5"/>
<path class="m2" stroke-dasharray="38 86" d="M1137.5 3282.9l26.4 26.3 8.4 11.4-26.4-47.2z"/>
<path class="m0" d="M1163.9 3309.1l8.4 11.4"/>
<path class="m9" stroke-dasharray="50 185" d="M886.4 3078.2l26.4-42.4 8.4-52.2-26.4-4.7z"/>
<path class="m12" d="M912.8 3035.8l8.4-52.2"/>
<path class="m14" stroke-dasharray="36 43" d="M635.3 2952.7l26.4 0.9 8.4-4.4-26.4-3.1z"/>
<path class="m4" stroke-dasharray="39 84" d="M384.3 3203.2l26.4-28.5 8.4-17.7-26.4 25.9z"/>
<path class="m6" d="M410.6 3174.7l8.4-17.7"/>
<path class="m5" d="M392.7 3182.9l-8.4 20.3"/>
<path class="m3" stroke-dasharray="52 174" d="M1180.7 3250.1l26.4-44.6 8.4-58.2-26.4 51z"/>
<path class="m6" d="M1207.1 3205.5l8.4-58.2"/>
<path class="m13" stroke-dasharray="27 68" d="M678.6 2964.6l26.4-1.1 8.4 18.8-26.4-5.7z"/>
<path class="m12" d="M705 2963.5l8.4 18.8"/>
<path class="m8" stroke-dasharray="112 139" d="M1224 3097.2l26.4-108.6 8.4 78.4-26.4 3.3z"/>
<path class="m9" d="M1250.4 2988.5l8.4 78.4"/>
<path class="m12" stroke-dasharray="38 41" d="M721.8 2985.7l26.4-3 8.4 7.5-26.4-2.1z"/>
<path class="m3" stroke-dasharray="27 229" d="M765.1 3240.9l26.4-3 8.4-102.7-26.4 18.5z"/>
<path class="m7" d="M791.5 3237.9l8.4-102.7"/>
<path class="m12" stroke-dasharray="27 430" d="M808.4 3001.6l26.4 4.7 8.4 202.1-26.4-15.2z"/>
<path class="m4" d="M834.7 3006.3l8.4 202.1"/>
<path class="m2" stroke-dasharray="37 45" d="M1102.7 3270.8l26.4 6.7 8.4 5.3-26.4-2.7z"/>
<path class="m8" stroke-dasharray="27 354" d="M600.5 3114l26.4 1.7 8.4-162.9-26.4 2.6z"/>
<path class="m14" d="M626.9 3115.7l8.4-162.9"/>
<path class="m2" stroke-dasharray="54 163" d="M1145.9 3273.4l26.4 47.2 8.4-70.5-26.4-25.5z"/>
<path class="m3" d="M1172.3 3320.6l8.4-70.5"/>
<path class="m13" stroke-dasharray="27 582" d="M894.9 2978.9l26.4 4.7 8.4 257.2-26.4 22.2z"/>
<path class="m3" d="M921.2 2983.6l8.4 257.2"/>
<path class="m14" stroke-dasharray="27 83" d="M643.8 2946.2l26.4 3.1 8.4 15.3-26.4 11.9z"/>
<path class="m13" d="M670.2 2949.3l8.4 15.3"/>
<path class="m5" stroke-dasharray="37 73" d="M392.7 3182.9l26.4-25.9 8.4-12.1-26.4 22.6z"/>
<path class="m7" d="M419.1 3157l8.4-12.1"/>
<path class="m6" d="M401.2 3167.5l-8.4 15.4"/>
<path class="m5" stroke-dasharray="58 168" d="M1189.2 3198.4l26.4-51 8.4-50.2-26.4 31.3z"/>
<path class="m8" d="M1215.6 3147.4l8.4-50.2"/>
<path class="m13" stroke-dasharray="27 73" d="M687 2976.6l26.4 5.7 8.4 3.3-26.4 16.6z"/>
<path class="m12" d="M713.4 2982.4l8.4 3.3"/>
<path class="m7" stroke-dasharray="33 81" d="M436 3127l26.4-19.3 8.4-20.1-26.4 20.3z"/>
<path class="m9" d="M462.3 3107.8l8.4-20.1"/>
<path class="m9" stroke-dasharray="27 156" d="M1232.4 3070.2l26.4-3.3 8.4-62.7-26.4 6.3z"/>
<path class="m12" d="M1258.8 3066.9l8.4-62.7"/>
<path class="m12" d="M1267.2 3004.2l-26.4 6.3"/>
<path class="m12" stroke-dasharray="27 526" d="M730.3 2988l26.4 2.1 8.4 250.8-26.4-12.9z"/>
<path class="m3" d="M756.7 2990.2l8.4 250.8"/>
<path class="m10" stroke-dasharray="27 577" d="M1024.6 3042.5l26.4-1 8.4 283.3-26.4-60.6z"/>
<path class="m0" d="M1051 3041.5l8.4 283.3"/>
<path class="m6" stroke-dasharray="32 318" d="M773.5 3153.6l26.4-18.5 8.4-133.6-26.4 0.4z"/>
<path class="m12" d="M799.9 3135.2l8.4-133.6"/>
<path class="m2" stroke-dasharray="39 47" d="M1111.1 3280.1l26.4 2.7 8.4-9.5-26.4 14.6z"/>
<path class="m7" stroke-dasharray="57 261" d="M860 3128.4l26.4-50.3 8.4-99.3-26.4 57.5z"/>
<path class="m13" d="M886.4 3078.2l8.4-99.3"/>
<path class="m14" stroke-dasharray="37 56" d="M609 2955.3l26.4-2.6 8.4-6.5-26.4 22.3z"/>
<path class="m4" stroke-dasharray="37 138" d="M1154.4 3224.6l26.4 25.5 8.4-51.7-26.4-20.3z"/>
<path class="m5" d="M1180.7 3250.1l8.4-51.7"/>
<path class="m13" stroke-dasharray="44 42" d="M652.2 2976.5l26.4-11.9 8.4 12-26.4 4z"/>
<path class="m6" stroke-dasharray="35 79" d="M401.2 3167.5l26.4-22.6 8.4-17.8-26.4 27.9z"/>
<path class="m7" d="M427.5 3144.9l8.4-17.8"/>
<path class="m7" d="M409.6 3154.9l-8.4 12.6"/>
<path class="m7" stroke-dasharray="41 108" d="M1197.6 3128.4l26.4-31.3 8.4-26.9-26.4 15.5z"/>
<path class="m9" d="M1224 3097.2l8.4-26.9"/>
<path class="m12" stroke-dasharray="40 49" d="M695.5 3002.3l26.4-16.6 8.4 2.4-26.4-0.7z"/>
<path class="m8" stroke-dasharray="34 262" d="M444.4 3108l26.4-20.3 8.4 107-26.4 25.5z"/>
<path class="m5" d="M470.8 3087.7l8.4 107"/>
<path class="m4" stroke-dasharray="30 216" d="M738.7 3228.1l26.4 12.9 8.4-87.3-26.4-17z"/>
<path class="m6" d="M765.1 3240.9l8.4-87.3"/>
<path class="m3" stroke-dasharray="66 89" d="M1033.1 3264.3l26.4 60.6 8.4 4.8-26.4-53z"/>
<path class="m0" d="M1059.4 3324.9l8.4 4.8"/>
<path class="m12" stroke-dasharray="27 419" d="M782 3002l26.4-0.4 8.4 191.5-26.4 4z"/>
<path class="m5" d="M808.4 3001.6l8.4 191.5"/>
<path class="m8" stroke-dasharray="27 362" d="M574.2 3118.2l26.4-4.2 8.4-158.7-26.4-7.1z"/>
<path class="m14" d="M600.5 3114l8.4-158.7"/>
<path class="m2" stroke-dasharray="30 143" d="M1119.6 3288l26.4-14.6 8.4-48.8-26.4 2.8z"/>
<path class="m4" d="M1145.9 3273.4l8.4-48.8"/>
<path class="m11" stroke-dasharray="64 521" d="M868.5 3036.4l26.4-57.5 8.4 284.2-26.4-86.6z"/>
<path class="m3" d="M894.9 2978.9l8.4 284.2"/>
<path class="m13" stroke-dasharray="66 42" d="M617.4 2968.5l26.4-22.3 8.4 30.3-26.4-3.1z"/>
<path class="m6" stroke-dasharray="34 147" d="M1162.8 3178.1l26.4 20.3 8.4-70-26.4 6.9z"/>
<path class="m7" d="M1189.2 3198.4l8.4-70"/>
<path class="m13" stroke-dasharray="27 80" d="M660.7 2980.7l26.4-4 8.4 25.7-26.4-1.8z"/>
<path class="m12" d="M687 2976.6l8.4 25.7"/>
<path class="m7" stroke-dasharray="39 90" d="M409.6 3154.9l26.4-27.9 8.4-19.1-26.4 14.5z"/>
<path class="m8" d="M436 3127l8.4-19.1"/>
<path class="m8" d="M418 3122.5l-8.4 32.4"/>
<path class="m9" stroke-dasharray="31 155" d="M1206.1 3085.7l26.4-15.5 8.4-59.7-26.4 18.8z"/>
<path class="m12" d="M1232.4 3070.2l8.4-59.7"/>
<path class="m11" d="M1240.9 3010.5l-26.4 18.8"/>
<path class="m8" stroke-dasharray="71 280" d="M955 3104.1l26.4 65.1 8.4-109-26.4-57.7z"/>
<path class="m10" d="M981.4 3169.2l8.4-109"/>
<path class="m13" stroke-dasharray="27 502" d="M703.9 2987.4l26.4 0.7 8.4 240-26.4-14.8z"/>
<path class="m4" d="M730.3 2988l8.4 240"/>
<path class="m4" stroke-dasharray="37 84" d="M452.8 3220.2l26.4-25.5 8.4-9.9-26.4-2.4z"/>
<path class="m5" d="M479.2 3194.7l8.4-9.9"/>
<path class="m7" stroke-dasharray="32 320" d="M747.2 3136.6l26.4 17 8.4-151.6-26.4-1z"/>
<path class="m12" d="M773.5 3153.6l8.4-151.6"/>
<path class="m15" stroke-dasharray="197 253" d="M496.1 2930.3l26.4 195.4 8.4-42.1-26.4 18.7z"/>
<path class="m9" d="M522.5 3125.7l8.4-42.1"/>
<path class="m2" stroke-dasharray="59 88" d="M1041.5 3276.7l26.4 53 8.4 0.3-26.4-58.8z"/>
<path class="m0" d="M1067.9 3329.7l8.4 0.3"/>
<path class="m0" stroke-dasharray="56 73" d="M1084.7 3329.5l26.4-49.4 8.4 7.9-26.4 38.3z"/>
<path class="m2" d="M1111.1 3280.1l8.4 7.9"/>
<path class="m11" stroke-dasharray="180 112" d="M833.7 3045.4l26.4 83.1 8.4-92.1-26.4-45z"/>
<path class="m14" stroke-dasharray="28 63" d="M582.6 2948.2l26.4 7.1 8.4 13.2-26.4-8.7z"/>
<path class="m13" d="M609 2955.3l8.4 13.2"/>
<path class="m4" stroke-dasharray="27 126" d="M1128 3227.4l26.4-2.8 8.4-46.5-26.4 4z"/>
<path class="m6" d="M1154.4 3224.6l8.4-46.5"/>
<path class="m13" stroke-dasharray="36 47" d="M625.9 2973.4l26.4 3.1 8.4 4.1-26.4 4.8z"/>
<path class="m7" stroke-dasharray="28 123" d="M1171.2 3135.3l26.4-6.9 8.4-42.7-26.4 3.4z"/>
<path class="m9" d="M1197.6 3128.4l8.4-42.7"/>
<path class="m8" stroke-dasharray="30 281" d="M418 3122.5l26.4-14.5 8.4 112.3-26.4 27.1z"/>
<path class="m4" d="M444.4 3108l8.4 112.3"/>
<path class="m4" d="M426.5 3247.3l-8.4-124.8"/>
<path class="m12" stroke-dasharray="64 104" d="M963.4 3002.6l26.4 57.7 8.4-7-26.4 8.4z"/>
<path class="m10" d="M989.8 3060.3l8.4-7"/>
<path class="m12" stroke-dasharray="27 425" d="M755.6 3001l26.4 1 8.4 195.1-26.4 1.4z"/>
<path class="m5" d="M782 3002l8.4 195.1"/>
<path class="m3" stroke-dasharray="65 84" d="M1049.9 3271.2l26.4 58.8 8.4-0.4-26.4-54z"/>
<path class="m0" d="M1076.3 3330l8.4-0.4"/>
<path class="m8" stroke-dasharray="27 357" d="M547.8 3120.1l26.4-1.9 8.4-170-26.4 33.2z"/>
<path class="m14" d="M574.2 3118.2l8.4-170"/>
<path class="m1" stroke-dasharray="47 172" d="M1093.2 3326.3l26.4-38.3 8.4-60.6-26.4 60z"/>
<path class="m4" d="M1119.6 3288l8.4-60.6"/>
<path class="m13" stroke-dasharray="52 475" d="M842.1 2991.4l26.4 45 8.4 140.1-26.4 69.6z"/>
<path class="m6" d="M868.5 3036.4l8.4 140.1"/>
<path class="m14" stroke-dasharray="28 66" d="M591 2959.8l26.4 8.7 8.4 4.9-26.4 8.1z"/>
<path class="m13" d="M617.4 2968.5l8.4 4.9"/>
<path class="m6" stroke-dasharray="27 133" d="M1136.4 3182.1l26.4-4 8.4-42.7-26.4-8.5z"/>
<path class="m7" d="M1162.8 3178.1l8.4-42.7"/>
<path class="m13" stroke-dasharray="27 77" d="M634.3 2985.4l26.4-4.8 8.4 19.8-26.4 6.5z"/>
<path class="m12" d="M660.7 2980.7l8.4 19.8"/>
<path class="m9" stroke-dasharray="27 144" d="M1179.7 3089.1l26.4-3.4 8.4-56.4-26.4 6z"/>
<path class="m11" d="M1206.1 3085.7l8.4-56.4"/>
<path class="m11" d="M1214.5 3029.3l-26.4 6"/>
<path class="m9" stroke-dasharray="32 209" d="M928.6 3086.9l26.4 17.2 8.4-101.6-26.4 13z"/>
<path class="m12" d="M955 3104.1l8.4-101.6"/>
<path class="m12" stroke-dasharray="38 447" d="M677.5 3014.5l26.4-27.1 8.4 225.9-26.4-12.7z"/>
<path class="m5" d="M703.9 2987.4l8.4 225.9"/>
<path class="m4" stroke-dasharray="38 121" d="M426.5 3247.3l26.4-27.1 8.4-37.8-26.4 28z"/>
<path class="m6" d="M452.8 3220.2l8.4-37.8"/>
<path class="m5" d="M434.9 3210.5l-8.4 36.9"/>
<path class="m8" stroke-dasharray="27 296" d="M720.8 3133.6l26.4 3 8.4-135.7-26.4 4.9z"/>
<path class="m12" d="M747.2 3136.6l8.4-135.7"/>
<path class="m9" stroke-dasharray="344 62" d="M469.7 3099.6l26.4-169.2 8.4 172-26.4 19.4z"/>
<path class="m5" stroke-dasharray="27 201" d="M764 3198.5l26.4-1.4 8.4-76.6-26.4-11.2z"/>
<path class="m8" d="M790.4 3197.1l8.4-76.6"/>
<path class="m6" stroke-dasharray="31 148" d="M513 3187.9l26.4-15.6 8.4-52.2-26.4 5.7z"/>
<path class="m8" d="M539.3 3172.3l8.4-52.2"/>
<path class="m3" stroke-dasharray="60 76" d="M1058.4 3275.5l26.4 54 8.4-3.3-26.4-33.8z"/>
<path class="m1" d="M1084.7 3329.5l8.4-3.3"/>
<path class="m10" stroke-dasharray="39 150" d="M807.3 3074.3l26.4-28.9 8.4-54-26.4 62.6z"/>
<path class="m13" d="M833.7 3045.4l8.4-54"/>
<path class="m13" stroke-dasharray="43 66" d="M556.2 2981.4l26.4-33.2 8.4 11.6-26.4 25.3z"/>
<path class="m14" d="M582.6 2948.2l8.4 11.6"/>
<path class="m2" stroke-dasharray="66 167" d="M1101.6 3287.4l26.4-60 8.4-45.3-26.4 33z"/>
<path class="m6" d="M1128 3227.4l8.4-45.3"/>
<path class="m13" stroke-dasharray="43 69" d="M599.5 2981.5l26.4-8.1 8.4 12-26.4 23.4z"/>
<path class="m8" stroke-dasharray="28 137" d="M1144.9 3126.9l26.4 8.5 8.4-46.2-26.4-15.3z"/>
<path class="m9" d="M1171.2 3135.3l8.4-46.2"/>
<path class="m12" stroke-dasharray="44 42" d="M642.7 3007l26.4-6.5 8.4 14-26.4-8.5z"/>
<path class="m12" stroke-dasharray="30 164" d="M937.1 3015.5l26.4-13 8.4 59.1-26.4-69.5z"/>
<path class="m10" d="M963.4 3002.6l8.4 59.1"/>
<path class="m5" stroke-dasharray="39 462" d="M434.9 3210.5l26.4-28 8.4-82.8-26.4-129.7z"/>
<path class="m9" d="M461.3 3182.4l8.4-82.8"/>
<path class="m14" d="M443.4 2969.8l-8.4 240.6"/>
<path class="m12" stroke-dasharray="27 418" d="M729.2 3005.9l26.4-4.9 8.4 197.5-26.4-4.4z"/>
<path class="m5" d="M755.6 3001l8.4 197.5"/>
<path class="m8" stroke-dasharray="33 222" d="M478.2 3121.7l26.4-19.4 8.4 85.5-26.4 26.7z"/>
<path class="m6" d="M504.5 3102.3l8.4 85.5"/>
<path class="m8" stroke-dasharray="27 330" d="M521.4 3125.9l26.4-5.7 8.4-138.7-26.4-11.8z"/>
<path class="m13" d="M547.8 3120.1l8.4-138.7"/>
<path class="m2" stroke-dasharray="83 119" d="M1066.8 3292.5l26.4 33.8 8.4-38.8-26.4-50.4z"/>
<path class="m11" stroke-dasharray="68 458" d="M815.7 3053.9l26.4-62.6 8.4 254.7-26.4-63.3z"/>
<path class="m4" d="M842.1 2991.4l8.4 254.7"/>
<path class="m13" stroke-dasharray="60 48" d="M564.7 2985.1l26.4-25.3 8.4 21.8-26.4 13z"/>
<path class="m5" stroke-dasharray="43 160" d="M1110.1 3215.1l26.4-33 8.4-55.2-26.4 29.5z"/>
<path class="m8" d="M1136.4 3182.1l8.4-55.2"/>
<path class="m12" stroke-dasharray="59 41" d="M607.9 3008.8l26.4-23.4 8.4 21.5-26.4-0.4z"/>
<path class="m10" stroke-dasharray="31 123" d="M1153.3 3073.9l26.4 15.3 8.4-53.8-26.4 3.4z"/>
<path class="m11" d="M1179.7 3089.1l8.4-53.8"/>
<path class="m11" d="M1188.1 3035.3l-26.4 3.4"/>
<path class="m13" stroke-dasharray="28 406" d="M651.2 3006l26.4 8.5 8.4 186.1-26.4-8.3z"/>
<path class="m5" d="M677.5 3014.5l8.4 186.1"/>
<path class="m13" stroke-dasharray="75 596" d="M945.5 2992.1l26.4 69.5 8.4 255.2-26.4-28.9z"/>
<path class="m1" d="M971.9 3061.6l8.4 255.2"/>
<path class="m8" stroke-dasharray="28 283" d="M694.4 3125.5l26.4 8.1 8.4-127.7-26.4-2.8z"/>
<path class="m12" d="M720.8 3133.6l8.4-127.7"/>
<path class="m14" stroke-dasharray="133 223" d="M443.4 2969.8l26.4 129.7 8.4 22.2-26.4 12.3z"/>
<path class="m8" d="M469.7 3099.6l8.4 22.2"/>
<path class="m8" d="M451.8 3134.1l-8.4-164.2"/>
<path class="m5" stroke-dasharray="38 172" d="M486.6 3214.5l26.4-26.7 8.4-62-26.4 15.3z"/>
<path class="m8" d="M513 3187.9l8.4-62"/>
<path class="m1" stroke-dasharray="70 83" d="M1032 3339.8l26.4-64.2 8.4 17-26.4 39.8z"/>
<path class="m2" d="M1058.4 3275.5l8.4 17"/>
<path class="m14" stroke-dasharray="29 66" d="M529.9 2969.6l26.4 11.8 8.4 3.7-26.4 6.6z"/>
<path class="m13" d="M556.2 2981.4l8.4 3.7"/>
<path class="m4" stroke-dasharray="57 173" d="M1075.3 3237l26.4 50.4 8.4-72.3-26.4-31.1z"/>
<path class="m5" d="M1101.6 3287.4l8.4-72.3"/>
<path class="m13" stroke-dasharray="30 74" d="M573.1 2994.6l26.4-13 8.4 27.3-26.4-16.4z"/>
<path class="m12" d="M599.5 2981.5l8.4 27.3"/>
<path class="m7" stroke-dasharray="40 159" d="M1118.5 3156.4l26.4-29.5 8.4-53-26.4 12.9z"/>
<path class="m10" d="M1144.9 3126.9l8.4-53"/>
<path class="m13" stroke-dasharray="35 53" d="M616.4 3006.6l26.4 0.4 8.4-1-26.4 15.5z"/>
<path class="m8" stroke-dasharray="110 166" d="M910.7 3122.3l26.4-106.8 8.4-23.4-26.4 69z"/>
<path class="m13" d="M937.1 3015.5l8.4-23.4"/>
<path class="m3" stroke-dasharray="39 229" d="M953.9 3287.9l26.4 28.9 8.4 1.2-26.4-120.9z"/>
<path class="m1" d="M980.3 3316.8l8.4 1.2"/>
<path class="m13" stroke-dasharray="27 388" d="M702.9 3003.1l26.4 2.8 8.4 188.2-26.4-125.6z"/>
<path class="m6" d="M729.2 3005.9l8.4 188.2"/>
<path class="m8" stroke-dasharray="29 239" d="M451.8 3134.1l26.4-12.3 8.4 92.8-26.4 23.7z"/>
<path class="m5" d="M478.2 3121.7l8.4 92.8"/>
<path class="m4" d="M460.2 3238.3l-8.4-104.2"/>
<path class="m8" stroke-dasharray="31 356" d="M495 3141.1l26.4-15.3 8.4-156.3-26.4 4z"/>
<path class="m14" d="M521.4 3125.9l8.4-156.3"/>
<path class="m1" stroke-dasharray="48 166" d="M1040.4 3332.3l26.4-39.8 8.4-55.5-26.4 39.7z"/>
<path class="m4" d="M1066.8 3292.5l8.4-55.5"/>
<path class="m11" stroke-dasharray="27 374" d="M789.4 3050.1l26.4 3.8 8.4 128.9-26.4 50.2z"/>
<path class="m6" d="M815.7 3053.9l8.4 128.9"/>
<path class="m13" stroke-dasharray="40 42" d="M538.3 2991.6l26.4-6.6 8.4 9.5-26.4 3z"/>
<path class="m6" stroke-dasharray="41 145" d="M1083.7 3184l26.4 31.1 8.4-58.7-26.4-19z"/>
<path class="m7" d="M1110.1 3215.1l8.4-58.7"/>
<path class="m13" stroke-dasharray="40 70" d="M581.5 2992.4l26.4 16.4 8.4-2.2-26.4 17.7z"/>
<path class="m10" stroke-dasharray="30 119" d="M1126.9 3086.8l26.4-12.9 8.4-35.1-26.4-2.1z"/>
<path class="m11" d="M1153.3 3073.9l8.4-35.1"/>
<path class="m12" d="M1161.8 3038.7l-26.4-2.1"/>
<path class="m12" stroke-dasharray="31 384" d="M624.8 3021.4l26.4-15.5 8.4 186.4-26.4-5.7z"/>
<path class="m6" d="M651.2 3006l8.4 186.4"/>
<path class="m11" stroke-dasharray="74 659" d="M919.1 3061.2l26.4-69 8.4 295.8-26.4 62.9z"/>
<path class="m3" d="M945.5 2992.1l8.4 295.8"/>
<path class="m9" stroke-dasharray="32 271" d="M668.1 3107.5l26.4 18 8.4-122.4-26.4-9.6z"/>
<path class="m13" d="M694.4 3125.5l8.4-122.4"/>
<path class="m6" stroke-dasharray="124 154" d="M962.4 3197.1l26.4 120.9 8.4 6.7-26.4-31.3z"/>
<path class="m1" d="M988.7 3318l8.4 6.7"/>
<path class="m4" stroke-dasharray="36 186" d="M460.2 3238.3l26.4-23.7 8.4-73.4-26.4 35.6z"/>
<path class="m8" d="M486.6 3214.5l8.4-73.4"/>
<path class="m7" d="M468.7 3176.7l-8.4 61.5"/>
<path class="m1" stroke-dasharray="41 41" d="M1005.6 3327.5l26.4 12.2 8.4-7.5-26.4-3.4z"/>
<path class="m11" stroke-dasharray="189 40" d="M754.6 3047.4l26.4 93.8 8.4-91.1-26.4-2z"/>
<path class="m14" stroke-dasharray="27 77" d="M503.5 2973.6l26.4-4 8.4 22.1-26.4 1.9z"/>
<path class="m13" d="M529.9 2969.6l8.4 22.1"/>
<path class="m3" stroke-dasharray="48 165" d="M1048.9 3276.7l26.4-39.7 8.4-53-26.4 22.8z"/>
<path class="m6" d="M1075.3 3237l8.4-53"/>
<path class="m5" stroke-dasharray="84 139" d="M797.8 3233l26.4-50.2 8.4 25.7-26.4-51.2z"/>
<path class="m13" stroke-dasharray="36 60" d="M546.7 2997.5l26.4-3 8.4-2.1-26.4 23z"/>
<path class="m8" stroke-dasharray="33 161" d="M1092.1 3137.4l26.4 19 8.4-69.6-26.4-6.5z"/>
<path class="m10" d="M1118.5 3156.4l8.4-69.6"/>
<path class="m12" stroke-dasharray="49 44" d="M590 3024.3l26.4-17.7 8.4 14.9-26.4 9.6z"/>
<path class="m13" stroke-dasharray="28 279" d="M676.5 2993.5l26.4 9.6 8.4 65.3-26.4 63.4z"/>
<path class="m11" d="M702.9 3003.1l8.4 65.3"/>
<path class="m3" stroke-dasharray="41 64" d="M970.8 3293.4l26.4 31.3 8.4 2.8-26.4-21.1z"/>
<path class="m1" d="M997.2 3324.7l8.4 2.8"/>
<path class="m7" stroke-dasharray="45 390" d="M468.7 3176.7l26.4-35.6 8.4-167.5-26.4 18.5z"/>
<path class="m14" d="M495 3141.1l8.4-167.5"/>
<path class="m14" d="M477.1 2992.1l-8.4 184.7"/>
<path class="m1" stroke-dasharray="27 132" d="M1014.1 3328.9l26.4 3.4 8.4-55.6-26.4 11.6z"/>
<path class="m3" d="M1040.4 3332.3l8.4-55.6"/>
<path class="m11" stroke-dasharray="27 380" d="M763 3048.1l26.4 2 8.4 182.9-26.4-56.4z"/>
<path class="m5" d="M789.4 3050.1l8.4 182.9"/>
<path class="m13" stroke-dasharray="37 41" d="M511.9 2993.6l26.4-1.9 8.4 5.9-26.4-2z"/>
<path class="m6" stroke-dasharray="35 135" d="M1057.3 3206.8l26.4-22.8 8.4-46.6-26.4 22.7z"/>
<path class="m8" d="M1083.7 3184l8.4-46.6"/>
<path class="m13" stroke-dasharray="35 74" d="M555.2 3015.4l26.4-23 8.4 31.8-26.4-7z"/>
<path class="m12" d="M581.5 2992.4l8.4 31.8"/>
<path class="m10" stroke-dasharray="27 126" d="M1100.6 3080.2l26.4 6.5 8.4-50.1-26.4 1.1z"/>
<path class="m12" d="M1126.9 3086.8l8.4-50.1"/>
<path class="m12" d="M1135.4 3036.7l-26.4 1.1"/>
<path class="m12" stroke-dasharray="28 344" d="M598.4 3031l26.4-9.6 8.4 165.2-26.4-12z"/>
<path class="m6" d="M624.8 3021.4l8.4 165.2"/>
<path class="m11" stroke-dasharray="27 587" d="M892.8 3065.4l26.4-4.2 8.4 289.7-26.4-50.2z"/>
<path class="m1" d="M919.1 3061.2l8.4 289.7"/>
<path class="m9" stroke-dasharray="30 260" d="M641.7 3121.2l26.4-13.7 8.4-114-26.4 21.7z"/>
<path class="m13" d="M668.1 3107.5l8.4-114"/>
<path class="m2" stroke-dasharray="34 57" d="M979.3 3306.4l26.4 21.1 8.4 1.3-26.4-22.7z"/>
<path class="m1" d="M1005.6 3327.5l8.4 1.3"/>
<path class="m9" stroke-dasharray="90 131" d="M728.2 3133.6l26.4-86.2 8.4 0.7-26.4-4.1z"/>
<path class="m11" d="M754.6 3047.4l8.4 0.7"/>
<path class="m14" stroke-dasharray="32 66" d="M477.1 2992.1l26.4-18.5 8.4 20-26.4 6.3z"/>
<path class="m13" d="M503.5 2973.6l8.4 20"/>
<path class="m13" d="M485.6 2999.8l-8.4-7.8"/>
<path class="m3" stroke-dasharray="29 179" d="M1022.5 3288.3l26.4-11.6 8.4-69.9-26.4 5.8z"/>
<path class="m6" d="M1048.9 3276.7l8.4-69.9"/>
<path class="m7" stroke-dasharray="63 201" d="M771.4 3176.6l26.4 56.4 8.4-75.7-26.4-46.3z"/>
<path class="m8" d="M797.8 3233l8.4-75.7"/>
<path class="m14" stroke-dasharray="27 77" d="M520.4 2995.5l26.4 2 8.4 17.9-26.4 4.2z"/>
<path class="m13" d="M546.7 2997.5l8.4 17.9"/>
<path class="m8" stroke-dasharray="35 158" d="M1065.8 3160.1l26.4-22.7 8.4-57.1-26.4 18.2z"/>
<path class="m10" d="M1092.1 3137.4l8.4-57.1"/>
<path class="m13" stroke-dasharray="28 55" d="M563.6 3017.2l26.4 7 8.4 6.7-26.4-4.9z"/>
<path class="m12" d="M590 3024.3l8.4 6.7"/>
<path class="m3" stroke-dasharray="57 82" d="M901.2 3300.6l26.4 50.2 8.4 5.6-26.4-49.3z"/>
<path class="m0" d="M927.6 3350.8l8.4 5.6"/>
<path class="m13" stroke-dasharray="34 268" d="M650.1 3015.2l26.4-21.7 8.4 138.4-26.4-51.6z"/>
<path class="m9" d="M676.5 2993.5l8.4 138.4"/>
<path class="m2" stroke-dasharray="35 142" d="M987.7 3306.1l26.4 22.7 8.4-40.5-26.4-33.9z"/>
<path class="m3" d="M1014.1 3328.9l8.4-40.5"/>
<path class="m12" stroke-dasharray="27 353" d="M736.6 3044l26.4 4.1 8.4 128.5-26.4 39.1z"/>
<path class="m7" d="M763 3048.1l8.4 128.5"/>
<path class="m13" stroke-dasharray="27 55" d="M485.6 2999.8l26.4-6.3 8.4 1.9-26.4 12.4z"/>
<path class="m14" d="M511.9 2993.6l8.4 1.9"/>
<path class="m13" d="M494 3007.9l-8.4-8"/>
<path class="m6" stroke-dasharray="27 135" d="M1030.9 3212.6l26.4-5.8 8.4-46.7-26.4-2.6z"/>
<path class="m8" d="M1057.3 3206.8l8.4-46.7"/>
<path class="m13" stroke-dasharray="36 41" d="M528.8 3019.6l26.4-4.2 8.4 1.8-26.4 5.4z"/>
<path class="m10" stroke-dasharray="32 138" d="M1074.2 3098.4l26.4-18.2 8.4-42.5-26.4-1.2z"/>
<path class="m12" d="M1100.6 3080.2l8.4-42.5"/>
<path class="m12" d="M1109 3037.7l-26.4-1.2"/>
<path class="m13" stroke-dasharray="27 372" d="M572.1 3026.1l26.4 4.9 8.4 143.6-26.4 32.1z"/>
<path class="m7" d="M598.4 3031l8.4 143.6"/>
<path class="m9" stroke-dasharray="27 236" d="M615.3 3115.3l26.4 5.9 8.4-106-26.4 3.4z"/>
<path class="m13" d="M641.7 3121.2l8.4-106"/>
<path class="m2" stroke-dasharray="56 186" d="M909.6 3307.2l26.4 49.3 8.4 7.6-26.4-111.4z"/>
<path class="m0" d="M936 3356.5l8.4 7.6"/>
<path class="m0" stroke-dasharray="73 92" d="M952.9 3373.7l26.4-67.3 8.4-0.3-26.4 62.5z"/>
<path class="m2" d="M979.3 3306.4l8.4-0.3"/>
<path class="m12" stroke-dasharray="171 44" d="M701.8 3056.9l26.4 76.7 8.4-89.6-26.4 5.6z"/>
<path class="m4" stroke-dasharray="43 167" d="M996.1 3254.4l26.4 33.9 8.4-75.8-26.4-13.4z"/>
<path class="m6" d="M1022.5 3288.3l8.4-75.8"/>
<path class="m13" stroke-dasharray="55 52" d="M494 3007.9l26.4-12.4 8.4 24.1-26.4 5.6z"/>
<path class="m13" d="M502.4 3025.2l-8.4-17.3"/>
<path class="m8" stroke-dasharray="27 165" d="M1039.4 3157.5l26.4 2.6 8.4-61.7-26.4-9.5z"/>
<path class="m10" d="M1065.8 3160.1l8.4-61.7"/>
<path class="m13" stroke-dasharray="39 54" d="M537.2 3022.7l26.4-5.4 8.4 8.9-26.4 13.8z"/>
<path class="m13" stroke-dasharray="27 341" d="M623.7 3018.6l26.4-3.4 8.4 65-26.4 102.3z"/>
<path class="m11" d="M650.1 3015.2l8.4 65"/>
<path class="m5" stroke-dasharray="115 146" d="M918.1 3252.7l26.4 111.4 8.4 9.7-26.4-59.9z"/>
<path class="m0" d="M944.4 3364l8.4 9.7"/>
<path class="m0" stroke-dasharray="68 180" d="M961.3 3368.6l26.4-62.5 8.4-51.7-26.4 44.7z"/>
<path class="m4" d="M987.7 3306.1l8.4-51.7"/>
<path class="m12" stroke-dasharray="27 374" d="M710.3 3049.6l26.4-5.6 8.4 171.8-26.4 3.1z"/>
<path class="m6" d="M736.6 3044l8.4 171.8"/>
<path class="m7" stroke-dasharray="30 150" d="M1004.6 3199.1l26.4 13.4 8.4-55.1-26.4-16z"/>
<path class="m8" d="M1030.9 3212.6l8.4-55.1"/>
<path class="m13" stroke-dasharray="36 42" d="M502.4 3025.2l26.4-5.6 8.4 3.1-26.4 6.6z"/>
<path class="m13" d="M510.9 3029.3l-8.4-4.1"/>
<path class="m11" stroke-dasharray="28 157" d="M1047.8 3088.9l26.4 9.5 8.4-61.9-26.4-8.6z"/>
<path class="m12" d="M1074.2 3098.4l8.4-61.9"/>
<path class="m13" d="M1082.6 3036.5l-26.4-8.6"/>
<path class="m12" stroke-dasharray="30 424" d="M545.7 3039.9l26.4-13.8 8.4 180.6-26.4 30.5z"/>
<path class="m6" d="M572.1 3026.1l8.4 180.6"/>
<path class="m11" stroke-dasharray="28 495" d="M840 3078.9l26.4-9.9 8.4 246.4-26.4-49.6z"/>
<path class="m2" d="M866.4 3069l8.4 246.4"/>
<path class="m9" stroke-dasharray="34 237" d="M588.9 3136.6l26.4-21.3 8.4-96.7-26.4 14.1z"/>
<path class="m13" d="M615.3 3115.3l8.4-96.7"/>
<path class="m3" stroke-dasharray="66 80" d="M926.5 3313.9l26.4 59.9 8.4-5.1-26.4-44.5z"/>
<path class="m0" d="M952.9 3373.7l8.4-5.1"/>
<path class="m12" stroke-dasharray="38 46" d="M675.4 3059.5l26.4-2.6 8.4-7.3-26.4-1.3z"/>
<path class="m3" stroke-dasharray="52 170" d="M969.8 3299.1l26.4-44.7 8.4-55.3-26.4 42z"/>
<path class="m7" d="M996.1 3254.4l8.4-55.3"/>
<path class="m9" stroke-dasharray="31 162" d="M1013 3141.5l26.4 16 8.4-68.6-26.4-6.6z"/>
<path class="m11" d="M1039.4 3157.5l8.4-68.6"/>
<path class="m13" stroke-dasharray="27 73" d="M510.9 3029.3l26.4-6.6 8.4 17.2-26.4 8.6z"/>
<path class="m12" d="M537.2 3022.7l8.4 17.2"/>
<path class="m12" d="M519.3 3048.4l-8.4-19.1"/>
<path class="m5" stroke-dasharray="41 191" d="M554.1 3237.2l26.4-30.5 8.4-70.1-26.4 17.4z"/>
<path class="m9" d="M580.5 3206.7l8.4-70.1"/>
<path class="m4" stroke-dasharray="56 198" d="M848.4 3265.8l26.4 49.6 8.4 9.1-26.4-117.7z"/>
<path class="m2" d="M874.8 3315.4l8.4 9.1"/>
<path class="m13" stroke-dasharray="30 365" d="M597.4 3032.7l26.4-14.1 8.4 164-26.4 14.7z"/>
<path class="m7" d="M623.7 3018.6l8.4 164"/>
<path class="m2" stroke-dasharray="52 173" d="M935 3324.2l26.4 44.5 8.4-69.6-26.4-31.1z"/>
<path class="m3" d="M961.3 3368.6l8.4-69.6"/>
<path class="m12" stroke-dasharray="27 373" d="M683.9 3048.3l26.4 1.3 8.4 169.3-26.4 1z"/>
<path class="m6" d="M710.3 3049.6l8.4 169.3"/>
<path class="m5" stroke-dasharray="50 173" d="M978.2 3241.1l26.4-42 8.4-57.6-26.4 33.3z"/>
<path class="m9" d="M1004.6 3199.1l8.4-57.6"/>
<path class="m11" stroke-dasharray="27 142" d="M1021.5 3082.3l26.4 6.6 8.4-61.1-26.4 8z"/>
<path class="m13" d="M1047.8 3088.9l8.4-61.1"/>
<path class="m13" d="M1056.3 3027.8l-26.4 8"/>
<path class="m12" stroke-dasharray="108 132" d="M770.4 3044.9l26.4 104.9 8.4-25-26.4-85.7z"/>
<path class="m9" d="M796.8 3149.8l8.4-25"/>
<path class="m12" stroke-dasharray="28 452" d="M519.3 3048.4l26.4-8.6 8.4 197.3-26.4 24.2z"/>
<path class="m5" d="M545.7 3039.9l8.4 197.3"/>
<path class="m5" d="M527.8 3261.4l-8.4-212.9"/>
<path class="m12" stroke-dasharray="30 466" d="M813.6 3064.6l26.4 14.3 8.4 186.9-26.4 31.5z"/>
<path class="m4" d="M840 3078.9l8.4 186.9"/>
<path class="m9" stroke-dasharray="32 247" d="M562.6 3154.1l26.4-17.4 8.4-103.9-26.4 14.5z"/>
<path class="m13" d="M588.9 3136.6l8.4-103.9"/>
<path class="m2" stroke-dasharray="42 44" d="M900.1 3325.6l26.4-11.7 8.4 10.3-26.4 8.6z"/>
<path class="m9" stroke-dasharray="79 146" d="M649.1 3133.5l26.4-74 8.4-11.2-26.4-11.6z"/>
<path class="m12" d="M675.4 3059.5l8.4-11.2"/>
<path class="m4" stroke-dasharray="41 176" d="M943.4 3268l26.4 31.1 8.4-58-26.4-38.2z"/>
<path class="m5" d="M969.8 3299.1l8.4-58"/>
<path class="m6" stroke-dasharray="27 74" d="M692.3 3219.9l26.4-1 8.4-21.5-26.4 6z"/>
<path class="m7" d="M718.7 3218.8l8.4-21.5"/>
<path class="m8" stroke-dasharray="43 171" d="M986.6 3174.8l26.4-33.3 8.4-59.2-26.4 21.4z"/>
<path class="m11" d="M1013 3141.5l8.4-59.2"/>
<path class="m8" stroke-dasharray="27 297" d="M735.6 3179.1l26.4-0.4 8.4-133.9-26.4 3.3z"/>
<path class="m12" d="M761.9 3178.8l8.4-133.9"/>
<path class="m13" stroke-dasharray="90 130" d="M778.8 3039.2l26.4 85.7 8.4-60.3-26.4 9.4z"/>
<path class="m12" d="M805.2 3124.8l8.4-60.3"/>
<path class="m5" stroke-dasharray="36 209" d="M527.8 3261.4l26.4-24.2 8.4-83.1-26.4 23.1z"/>
<path class="m9" d="M554.1 3237.2l8.4-83.1"/>
<path class="m8" d="M536.2 3177.2l-8.4 84.2"/>
<path class="m3" stroke-dasharray="41 165" d="M822.1 3297.3l26.4-31.5 8.4-58.9-26.4 33.3z"/>
<path class="m7" d="M848.4 3265.8l8.4-58.9"/>
<path class="m13" stroke-dasharray="30 376" d="M571 3047.2l26.4-14.5 8.4 164.6-26.4 21.1z"/>
<path class="m7" d="M597.4 3032.7l8.4 164.6"/>
<path class="m2" stroke-dasharray="28 142" d="M908.6 3332.7l26.4-8.6 8.4-56.2-26.4 17.4z"/>
<path class="m4" d="M935 3324.2l8.4-56.2"/>
<path class="m13" stroke-dasharray="29 364" d="M657.5 3036.7l26.4 11.6 8.4 171.6-26.4-112.9z"/>
<path class="m6" d="M683.9 3048.3l8.4 171.6"/>
<path class="m7" stroke-dasharray="47 164" d="M951.8 3203l26.4 38.2 8.4-66.3-26.4-25.8z"/>
<path class="m8" d="M978.2 3241.1l8.4-66.3"/>
<path class="m11" stroke-dasharray="34 145" d="M995.1 3103.7l26.4-21.4 8.4-46.5-26.4 2.9z"/>
<path class="m13" d="M1021.5 3082.3l8.4-46.5"/>
<path class="m13" d="M1029.9 3035.8l-26.4 2.9"/>
<path class="m13" stroke-dasharray="37 168" d="M744 3048.2l26.4-3.3 8.4-5.7-26.4 83.6z"/>
<path class="m12" stroke-dasharray="28 466" d="M787.3 3074l26.4-9.4 8.4 232.7-26.4-93.4z"/>
<path class="m3" d="M813.6 3064.6l8.4 232.7"/>
<path class="m8" stroke-dasharray="35 268" d="M536.2 3177.2l26.4-23.1 8.4-106.9-26.4 1.4z"/>
<path class="m13" d="M562.6 3154.1l8.4-106.9"/>
<path class="m13" d="M544.6 3048.6l-8.4 128.5"/>
<path class="m6" stroke-dasharray="43 472" d="M830.5 3240.1l26.4-33.3 8.4 117.7-26.4-215.3z"/>
<path class="m3" d="M856.9 3206.9l8.4 117.7"/>
<path class="m6" stroke-dasharray="34 102" d="M579.4 3218.4l26.4-21.1 8.4-30.2-26.4 21.8z"/>
<path class="m8" d="M605.8 3197.3l8.4-30.2"/>
<path class="m3" stroke-dasharray="27 53" d="M873.8 3324.5l26.4 1.1 8.4 7.1-26.4-3.6z"/>
<path class="m2" d="M900.1 3325.6l8.4 7.1"/>
<path class="m4" stroke-dasharray="32 171" d="M917 3285.4l26.4-17.4 8.4-65-26.4 12.3z"/>
<path class="m7" d="M943.4 3268l8.4-65"/>
<path class="m9" stroke-dasharray="37 178" d="M960.3 3149l26.4 25.8 8.4-71.1-26.4-21.2z"/>
<path class="m11" d="M986.6 3174.8l8.4-71.1"/>
<path class="m8" stroke-dasharray="27 268" d="M709.2 3174.4l26.4 4.8 8.4-130.9-26.4 101.3z"/>
<path class="m13" d="M735.6 3179.1l8.4-130.9"/>
<path class="m10" stroke-dasharray="88 135" d="M752.5 3122.7l26.4-83.6 8.4 34.8-26.4-14.3z"/>
<path class="m12" d="M778.8 3039.2l8.4 34.8"/>
<path class="m7" stroke-dasharray="97 145" d="M795.7 3203.9l26.4 93.4 8.4-57.1-26.4-55.3z"/>
<path class="m6" d="M822.1 3297.3l8.4-57.1"/>
<path class="m13" stroke-dasharray="27 390" d="M544.6 3048.6l26.4-1.4 8.4 171.2-26.4 13.2z"/>
<path class="m6" d="M571 3047.2l8.4 171.2"/>
<path class="m6" d="M553.1 3231.6l-8.4-183"/>
<path class="m11" stroke-dasharray="217 232" d="M839 3109.2l26.4 215.3 8.4 0-26.4-131.9z"/>
<path class="m3" d="M865.3 3324.5l8.4 0"/>
<path class="m3" stroke-dasharray="27 144" d="M882.2 3329.1l26.4 3.6 8.4-47.3-26.4-15.5z"/>
<path class="m4" d="M908.6 3332.7l8.4-47.3"/>
<path class="m12" stroke-dasharray="37 402" d="M631.1 3061.8l26.4-25.1 8.4 70.3-26.4 138.7z"/>
<path class="m11" d="M657.5 3036.7l8.4 70.3"/>
<path class="m7" stroke-dasharray="29 146" d="M925.5 3215.3l26.4-12.3 8.4-54-26.4 8.1z"/>
<path class="m9" d="M951.8 3203l8.4-54"/>
<path class="m12" stroke-dasharray="34 146" d="M968.7 3082.5l26.4 21.2 8.4-65-26.4-3.6z"/>
<path class="m13" d="M995.1 3103.7l8.4-65"/>
<path class="m13" d="M1003.5 3038.7l-26.4-3.6"/>
<path class="m9" stroke-dasharray="105 133" d="M717.6 3149.5l26.4-101.3 8.4 74.5-26.4 1.6z"/>
<path class="m10" d="M744 3048.2l8.4 74.5"/>
<path class="m12" stroke-dasharray="30 291" d="M760.9 3059.6l26.4 14.3 8.4 129.9-26.4-25.2z"/>
<path class="m7" d="M787.3 3074l8.4 129.9"/>
<path class="m8" stroke-dasharray="62 237" d="M804.1 3184.9l26.4 55.3 8.4-131-26.4 2.6z"/>
<path class="m11" d="M830.5 3240.1l8.4-131"/>
<path class="m6" stroke-dasharray="30 100" d="M553.1 3231.6l26.4-13.2 8.4-29.5-26.4 8.1z"/>
<path class="m8" d="M579.4 3218.4l8.4-29.5"/>
<path class="m8" d="M561.5 3196.9l-8.4 34.7"/>
<path class="m8" stroke-dasharray="135 209" d="M847.4 3192.6l26.4 131.9 8.4 4.6-26.4-163.6z"/>
<path class="m3" d="M873.8 3324.5l8.4 4.6"/>
<path class="m9" stroke-dasharray="36 189" d="M596.3 3156.2l26.4-24.1 8.4-70.3-26.4 10.5z"/>
<path class="m12" d="M622.7 3132.1l8.4-70.3"/>
<path class="m5" stroke-dasharray="31 159" d="M890.6 3269.8l26.4 15.5 8.4-70.1-26.4-1.2z"/>
<path class="m7" d="M917 3285.4l8.4-70.1"/>
<path class="m9" stroke-dasharray="28 165" d="M933.9 3157.1l26.4-8.1 8.4-66.5-26.4 12z"/>
<path class="m12" d="M960.3 3149l8.4-66.5"/>
<path class="m10" stroke-dasharray="27 152" d="M726.1 3124.4l26.4-1.6 8.4-63.1-26.4 11.5z"/>
<path class="m12" d="M752.5 3122.7l8.4-63.1"/>
<path class="m8" stroke-dasharray="58 46" d="M769.3 3178.7l26.4 25.2 8.4-19-26.4 4.4z"/>
<path class="m11" stroke-dasharray="27 259" d="M812.6 3111.7l26.4-2.6 8.4 83.4-26.4-123.3z"/>
<path class="m8" d="M839 3109.2l8.4 83.4"/>
<path class="m8" stroke-dasharray="28 97" d="M561.5 3196.9l26.4-8.1 8.4-32.7-26.4 13.3z"/>
<path class="m9" d="M587.9 3188.9l8.4-32.7"/>
<path class="m9" d="M570 3169.5l-8.4 27.4"/>
<path class="m9" stroke-dasharray="166 219" d="M855.8 3165.5l26.4 163.6 8.4-59.3-26.4-126.7z"/>
<path class="m5" d="M882.2 3329.1l8.4-59.3"/>
<path class="m12" stroke-dasharray="29 432" d="M604.8 3072.3l26.4-10.5 8.4 183.9-26.4 29.5z"/>
<path class="m6" d="M631.1 3061.8l8.4 183.9"/>
<path class="m7" stroke-dasharray="27 153" d="M899.1 3214.1l26.4 1.2 8.4-58.2-26.4-4.3z"/>
<path class="m9" d="M925.5 3215.3l8.4-58.2"/>
<path class="m11" stroke-dasharray="29 144" d="M942.3 3094.5l26.4-12 8.4-47.4-26.4-3.8z"/>
<path class="m13" d="M968.7 3082.5l8.4-47.4"/>
<path class="m14" d="M977.2 3035.1l-26.4-3.8"/>
<path class="m12" stroke-dasharray="29 452" d="M734.5 3071.1l26.4-11.5 8.4 119-26.4 108.4z"/>
<path class="m8" d="M760.9 3059.6l8.4 119"/>
<path class="m8" stroke-dasharray="27 271" d="M777.8 3189.3l26.4-4.4 8.4-73.1-26.4-53.8z"/>
<path class="m11" d="M804.1 3184.9l8.4-73.1"/>
<path class="m12" stroke-dasharray="126 178" d="M821 3069.3l26.4 123.3 8.4-27.1-26.4-117.9z"/>
<path class="m9" d="M847.4 3192.6l8.4-27.1"/>
<path class="m9" stroke-dasharray="30 211" d="M570 3169.5l26.4-13.3 8.4-83.9-26.4 2.9z"/>
<path class="m12" d="M596.3 3156.2l8.4-83.9"/>
<path class="m12" d="M578.4 3075.1l-8.4 94.4"/>
<path class="m10" stroke-dasharray="130 185" d="M864.3 3143.1l26.4 126.7 8.4-55.7-26.4-94.3z"/>
<path class="m7" d="M890.6 3269.8l8.4-55.7"/>
<path class="m5" stroke-dasharray="40 96" d="M613.2 3275.2l26.4-29.5 8.4-23.8-26.4 28.1z"/>
<path class="m7" d="M639.6 3245.7l8.4-23.8"/>
<path class="m9" stroke-dasharray="27 147" d="M907.5 3152.8l26.4 4.3 8.4-62.6-26.4 7.9z"/>
<path class="m11" d="M933.9 3157.1l8.4-62.6"/>
<path class="m5" stroke-dasharray="112 144" d="M743 3287l26.4-108.4 8.4 10.6-26.4 0z"/>
<path class="m8" d="M769.3 3178.7l8.4 10.6"/>
<path class="m13" stroke-dasharray="60 103" d="M786.2 3058l26.4 53.8 8.4-42.4-26.4 12.5z"/>
<path class="m12" d="M812.6 3111.7l8.4-42.4"/>
<path class="m13" stroke-dasharray="121 144" d="M829.5 3047.6l26.4 117.9 8.4-22.4-26.4-101.1z"/>
<path class="m10" d="M855.8 3165.5l8.4-22.4"/>
<path class="m12" stroke-dasharray="27 473" d="M578.4 3075.1l26.4-2.9 8.4 202.9-26.4 26.6z"/>
<path class="m5" d="M604.8 3072.3l8.4 202.9"/>
<path class="m4" d="M586.8 3301.8l-8.4-226.6"/>
<path class="m11" stroke-dasharray="98 168" d="M872.7 3119.8l26.4 94.3 8.4-61.3-26.4-63.6z"/>
<path class="m9" d="M899.1 3214.1l8.4-61.3"/>
<path class="m6" stroke-dasharray="39 89" d="M621.6 3250l26.4-28.1 8.4-19.8-26.4 22.2z"/>
<path class="m8" d="M648 3221.9l8.4-19.8"/>
<path class="m11" stroke-dasharray="28 167" d="M916 3102.5l26.4-7.9 8.4-63.2-26.4-0.1z"/>
<path class="m14" d="M942.3 3094.5l8.4-63.2"/>
<path class="m14" d="M950.8 3031.3l-26.4-0.1"/>
<path class="m12" stroke-dasharray="27 438" d="M708.1 3075.3l26.4-4.2 8.4 215.9-26.4-71.9z"/>
<path class="m5" d="M734.5 3071.1l8.4 215.9"/>
<path class="m8" stroke-dasharray="27 292" d="M751.4 3189.3l26.4 0 8.4-131.3-26.4 2.9z"/>
<path class="m13" d="M777.8 3189.3l8.4-131.3"/>
<path class="m12" stroke-dasharray="29 81" d="M794.7 3081.8l26.4-12.5 8.4-21.8-26.4 14.1z"/>
<path class="m13" d="M821 3069.3l8.4-21.8"/>
<path class="m14" stroke-dasharray="105 146" d="M837.9 3042l26.4 101.1 8.4-23.3-26.4-94z"/>
<path class="m11" d="M864.3 3143.1l8.4-23.3"/>
<path class="m4" stroke-dasharray="38 95" d="M586.8 3301.8l26.4-26.6 8.4-25.2-26.4 33.1z"/>
<path class="m6" d="M613.2 3275.2l8.4-25.2"/>
<path class="m5" d="M595.3 3283.1l-8.4 18.7"/>
<path class="m12" stroke-dasharray="69 128" d="M881.2 3089.2l26.4 63.6 8.4-50.4-26.4-37.7z"/>
<path class="m11" d="M907.5 3152.8l8.4-50.4"/>
<path class="m7" stroke-dasharray="35 98" d="M630.1 3224.3l26.4-22.2 8.4-27-26.4 17.4z"/>
<path class="m9" d="M656.5 3202l8.4-27"/>
<path class="m7" stroke-dasharray="77 251" d="M716.6 3215.2l26.4 71.9 8.4-97.7-26.4-57.4z"/>
<path class="m8" d="M743 3287l8.4-97.7"/>
<path class="m13" stroke-dasharray="27 85" d="M759.8 3060.9l26.4-2.9 8.4 23.8-26.4 5.1z"/>
<path class="m12" d="M786.2 3058l8.4 23.8"/>
<path class="m13" stroke-dasharray="30 66" d="M803.1 3061.7l26.4-14.1 8.4-5.5-26.4-2.3z"/>
<path class="m14" d="M829.5 3047.6l8.4-5.5"/>
<path class="m14" stroke-dasharray="98 111" d="M846.3 3025.8l26.4 94 8.4-30.6-26.4-58z"/>
<path class="m12" d="M872.7 3119.8l8.4-30.6"/>
<path class="m5" stroke-dasharray="43 105" d="M595.3 3283.1l26.4-33.1 8.4-25.7-26.4 21.4z"/>
<path class="m7" d="M621.6 3250l8.4-25.7"/>
<path class="m7" d="M603.7 3245.6l-8.4 37.4"/>
<path class="m13" stroke-dasharray="46 132" d="M889.6 3064.8l26.4 37.7 8.4-71.2-26.4 7.5z"/>
<path class="m14" d="M916 3102.5l8.4-71.2"/>
<path class="m14" d="M924.4 3031.2l-26.4 7.5"/>
<path class="m12" stroke-dasharray="29 427" d="M681.8 3087.2l26.4-11.9 8.4 139.8-26.4 74.2z"/>
<path class="m7" d="M708.1 3075.3l8.4 139.8"/>
<path class="m11" stroke-dasharray="63 231" d="M725 3131.9l26.4 57.4 8.4-128.4-26.4 1z"/>
<path class="m13" d="M751.4 3189.3l8.4-128.4"/>
<path class="m12" stroke-dasharray="27 80" d="M768.3 3086.9l26.4-5.1 8.4-20.2-26.4 0.3z"/>
<path class="m13" d="M794.7 3081.8l8.4-20.2"/>
<path class="m14" stroke-dasharray="45 43" d="M811.5 3039.8l26.4 2.3 8.4-16.3-26.4 10.8z"/>
<path class="m14" stroke-dasharray="64 81" d="M854.8 3031.3l26.4 58 8.4-24.5-26.4-30.8z"/>
<path class="m13" d="M881.2 3089.2l8.4-24.5"/>
<path class="m7" stroke-dasharray="34 102" d="M603.7 3245.6l26.4-21.4 8.4-31.9-26.4 35.1z"/>
<path class="m8" d="M630.1 3224.3l8.4-31.9"/>
<path class="m7" d="M612.2 3227.5l-8.4 18.1"/>
<path class="m10" stroke-dasharray="30 171" d="M647 3165l26.4-14.5 8.4-63.2-26.4 3z"/>
<path class="m12" d="M673.3 3150.5l8.4-63.2"/>
<path class="m5" stroke-dasharray="79 252" d="M690.2 3289.4l26.4-74.2 8.4-83.3-26.4 64z"/>
<path class="m11" d="M716.6 3215.2l8.4-83.3"/>
<path class="m13" stroke-dasharray="27 85" d="M733.5 3062l26.4-1 8.4 26-26.4-0.4z"/>
<path class="m12" d="M759.8 3060.9l8.4 26"/>
<path class="m13" stroke-dasharray="27 70" d="M776.7 3061.9l26.4-0.3 8.4-21.9-26.4 17.1z"/>
<path class="m14" d="M803.1 3061.7l8.4-21.9"/>
<path class="m14" stroke-dasharray="39 52" d="M820 3036.5l26.4-10.8 8.4 5.5-26.4 17.8z"/>
<path class="m14" stroke-dasharray="68 41" d="M863.2 3034l26.4 30.8 8.4-26.1-26.4-1.6z"/>
<path class="m14" d="M898 3038.7l-26.4-1.6"/>
<path class="m7" stroke-dasharray="44 110" d="M612.2 3227.5l26.4-35.1 8.4-27.4-26.4 21.1z"/>
<path class="m10" d="M638.5 3192.4l8.4-27.4"/>
<path class="m9" d="M620.6 3186.1l-8.4 41.5"/>
<path class="m12" stroke-dasharray="27 453" d="M655.4 3090.2l26.4-3 8.4 202.2-26.4 15z"/>
<path class="m5" d="M681.8 3087.2l8.4 202.2"/>
<path class="m9" stroke-dasharray="70 215" d="M698.7 3195.9l26.4-64 8.4-69.9-26.4 77z"/>
<path class="m13" d="M725 3131.9l8.4-69.9"/>
<path class="m13" stroke-dasharray="53 48" d="M741.9 3086.6l26.4 0.4 8.4-25-26.4 17.5z"/>
<path class="m14" stroke-dasharray="41 46" d="M785.2 3056.9l26.4-17.1 8.4-3.2-26.4 13.2z"/>
<path class="m14" stroke-dasharray="41 44" d="M828.4 3049.1l26.4-17.8 8.4 2.7-26.4 9.2z"/>
<path class="m9" stroke-dasharray="34 192" d="M620.6 3186.1l26.4-21.1 8.4-74.7-26.4 16.6z"/>
<path class="m12" d="M647 3165l8.4-74.7"/>
<path class="m12" d="M629 3106.9l-8.4 79.2"/>
<path class="m5" stroke-dasharray="31 220" d="M663.8 3304.4l26.4-15 8.4-93.5-26.4 22.6z"/>
<path class="m9" d="M690.2 3289.4l8.4-93.5"/>
<path class="m11" stroke-dasharray="82 98" d="M707.1 3139l26.4-77 8.4 24.6-26.4 19.8z"/>
<path class="m13" d="M733.5 3062l8.4 24.6"/>
<path class="m14" stroke-dasharray="45 42" d="M793.6 3049.7l26.4-13.2 8.4 12.5-26.4-3.7z"/>
<path class="m14" stroke-dasharray="37 47" d="M836.9 3043.2l26.4-9.2 8.4 3.2-26.4 13.9z"/>
<path class="m14" d="M871.7 3037.1l-26.4 13.9"/>
<path class="m12" stroke-dasharray="31 455" d="M629 3106.9l26.4-16.6 8.4 214.1-26.4 9.3z"/>
<path class="m5" d="M655.4 3090.2l8.4 214.1"/>
<path class="m5" d="M637.5 3313.6l-8.4-206.8"/>
<path class="m8" stroke-dasharray="35 162" d="M672.3 3218.5l26.4-22.6 8.4-56.9-26.4 8.4z"/>
<path class="m11" d="M698.7 3195.9l8.4-56.9"/>
<path class="m12" stroke-dasharray="33 76" d="M715.5 3106.4l26.4-19.8 8.4-7.2-26.4-4.5z"/>
<path class="m13" d="M741.9 3086.6l8.4-7.2"/>
<path class="m14" stroke-dasharray="37 48" d="M802 3045.3l26.4 3.7 8.4-5.9-26.4 12.2z"/>
<path class="m5" stroke-dasharray="28 200" d="M637.5 3313.6l26.4-9.3 8.4-85.8-26.4 21z"/>
<path class="m8" d="M663.8 3304.4l8.4-85.8"/>
<path class="m7" d="M645.9 3239.5l-8.4 74.1"/>
<path class="m11" stroke-dasharray="28 101" d="M680.7 3147.4l26.4-8.4 8.4-32.6-26.4 7.7z"/>
<path class="m12" d="M707.1 3139l8.4-32.6"/>
<path class="m13" stroke-dasharray="27 62" d="M724 3074.9l26.4 4.5 8.4-17.7-26.4 10.2z"/>
<path class="m14" d="M750.3 3079.4l8.4-17.7"/>
<path class="m14" stroke-dasharray="38 43" d="M767.2 3058.6l26.4-8.9 8.4-4.4-26.4 8.5z"/>
<path class="m14" stroke-dasharray="41 41" d="M810.5 3055.4l26.4-12.2 8.4 7.8-26.4 5.3z"/>
<path class="m14" d="M845.3 3051l-26.4 5.3"/>
<path class="m7" stroke-dasharray="34 193" d="M645.9 3239.5l26.4-21 8.4-71.1-26.4 3.3z"/>
<path class="m11" d="M672.3 3218.5l8.4-71.1"/>
<path class="m11" d="M654.4 3150.7l-8.4 88.8"/>
<path class="m12" stroke-dasharray="28 100" d="M689.2 3114.1l26.4-7.7 8.4-31.5-26.4 5z"/>
<path class="m13" d="M715.5 3106.4l8.4-31.5"/>
<path class="m14" stroke-dasharray="38 43" d="M732.4 3071.9l26.4-10.2 8.4-3.1-26.4 11.1z"/>
<path class="m14" stroke-dasharray="41 44" d="M775.7 3053.9l26.4-8.5 8.4 10.1-26.4 6.3z"/>
<path class="m11" stroke-dasharray="27 103" d="M654.4 3150.7l26.4-3.3 8.4-33.3-26.4 1.3z"/>
<path class="m12" d="M680.7 3147.4l8.4-33.3"/>
<path class="m12" d="M662.8 3115.4l-8.4 35.3"/>
<path class="m14" stroke-dasharray="39 44" d="M740.9 3069.7l26.4-11.1 8.4-4.7-26.4 11z"/>
<path class="m14" stroke-dasharray="36 41" d="M784.1 3061.7l26.4-6.3 8.4 0.9-26.4 3.1z"/>
<path class="m14" d="M818.9 3056.3l-26.4 3.1"/>
<path class="m12" stroke-dasharray="27 94" d="M662.8 3115.4l26.4-1.3 8.4-34.2-26.4 14.2z"/>
<path class="m13" d="M689.2 3114.1l8.4-34.2"/>
<path class="m13" d="M671.2 3094.1l-8.4 21.3"/>
<path class="m13" stroke-dasharray="28 53" d="M706 3081.9l26.4-10 8.4-2.2-26.4 4.2z"/>
<path class="m14" d="M732.4 3071.9l8.4-2.2"/>
<path class="m14" stroke-dasharray="40 43" d="M749.3 3064.8l26.4-11 8.4 7.8-26.4 8.6z"/>
<path class="m13" stroke-dasharray="39 51" d="M671.2 3094.1l26.4-14.2 8.4 2-26.4-4.9z"/>
<path class="m14" d="M679.7 3076.9l-8.4 17.1"/>
<path class="m14" stroke-dasharray="37 44" d="M714.5 3073.9l26.4-4.2 8.4-4.9-26.4 12.2z"/>
<path class="m14" stroke-dasharray="37 45" d="M757.7 3070.3l26.4-8.6 8.4-2.2-26.4 14.2z"/>
<path class="m14" d="M792.5 3059.4l-26.4 14.2"/>
<path class="m14" stroke-dasharray="39 41" d="M679.7 3076.9l26.4 4.9 8.4-8-26.4 4.9z"/>
<path class="m14" d="M688.1 3078.8l-8.4-1.8"/>
<path class="m14" stroke-dasharray="39 42" d="M722.9 3077l26.4-12.2 8.4 5.5-26.4 8.5z"/>
<path class="m14" stroke-dasharray="36 41" d="M688.1 3078.8l26.4-4.9 8.4 3.2-26.4-1.3z"/>
<path class="m14" d="M696.6 3075.7l-8.4 3"/>
<path class="m14" stroke-dasharray="37 46" d="M731.4 3078.8l26.4-8.5 8.4 3.3-26.4 13.1z"/>
<path class="m14" d="M766.2 3073.6l-26.4 13.1"/>
<path class="m14" stroke-dasharray="35 59" d="M696.6 3075.7l26.4 1.3 8.4 1.8-26.4 17.4z"/>
<path class="m14" d="M705 3096.2l-8.4-20.5"/>
<path class="m14" stroke-dasharray="43 48" d="M705 3096.2l26.4-17.4 8.4 7.9-26.4-3.7z"/>
<path class="m14" d="M713.4 3083l-8.4 13.2"/>
<path class="m14" d="M739.8 3086.7l-26.4-3.7"/>
</g>
<path class="a" d="M189.1 3261.4L189.1 2757.5"/>
<path class="a" d="M695.5 3493.5L189.1 3261.4"/>
<path class="a" d="M695.5 3493.5L1354.8 3314.6"/>
<path class="a" d="M189.1 3261.4L172.7 3253.9"/>
<path class="a" d="M189.1 3177.4L172.7 3169.9"/>
<path class="a" d="M189.1 3093.4L172.7 3085.9"/>
<path class="a" d="M189.1 3009.5L172.7 3002"/>
<path class="a" d="M189.1 2925.5L172.7 2918"/>
<path class="a" d="M189.1 2841.5L172.7 2834"/>
<path class="a" d="M189.1 2757.5L172.7 2750"/>
<path class="a" d="M695.5 3493.5L678.1 3498.2"/>
<path class="a" d="M526.7 3416.1L509.3 3420.8"/>
<path class="a" d="M357.9 3338.8L340.5 3343.5"/>
<path class="a" d="M189.1 3261.4L171.7 3266.1"/>
<path class="a" d="M695.5 3493.5L711.9 3501"/>
<path class="a" d="M827.4 3457.7L843.7 3465.2"/>
<path class="a" d="M959.2 3421.9L975.6 3429.4"/>
<path class="a" d="M1091.1 3386.2L1107.4 3393.7"/>
<path class="a" d="M1222.9 3350.4L1239.3 3357.9"/>
<path class="a" d="M1354.8 3314.6L1371.2 3322.1"/>
<text class="t" x="159.6" y="3263.3" text-anchor="end">0.95</text>
<text class="t" x="159.6" y="3179.3" text-anchor="end">0.96</text>
<text class="t" x="159.6" y="3095.3" text-anchor="end">0.97</text>
<text class="t" x="159.6" y="3011.4" text-anchor="end">0.98</text>
<text class="t" x="159.6" y="2927.4" text-anchor="end">0.99</text>
<text class="t" x="159.6" y="2843.4" text-anchor="end">1</text>
<text class="t" x="159.6" y="2759.4" text-anchor="end">1.01</text>
<text class="t" x="663.7" y="3538.9" text-anchor="end">0</text>
<text class="t" x="494.9" y="3461.5" text-anchor="end">20</text>
<text class="t" x="326.1" y="3384.2" text-anchor="end">40</text>
<text class="t" x="157.3" y="3306.8" text-anchor="end">60</text>
<text class="t" x="724" y="3543.7">0</text>
<text class="t" x="855.9" y="3507.9">5</text>
<text class="t" x="988.7" y="3472.1">10</text>
<text class="t" x="1120.6" y="3436.4">15</text>
<text class="t" x="1252.4" y="3400.6">20</text>
<text class="t" x="1384.3" y="3364.8">25</text>
<text class="s" x="250.9" y="3542.2">Node number</text>
<text class="s" x="1032.5" y="3555.8" text-anchor="middle">h</text>
<text class="s" transform="translate(61.1 3006) rotate(-90)" text-anchor="middle">pu</text>
<text class="c" x="744.4" y="3725.2" text-anchor="middle">Case 2</text>
</g>
</svg>
</body></html>
